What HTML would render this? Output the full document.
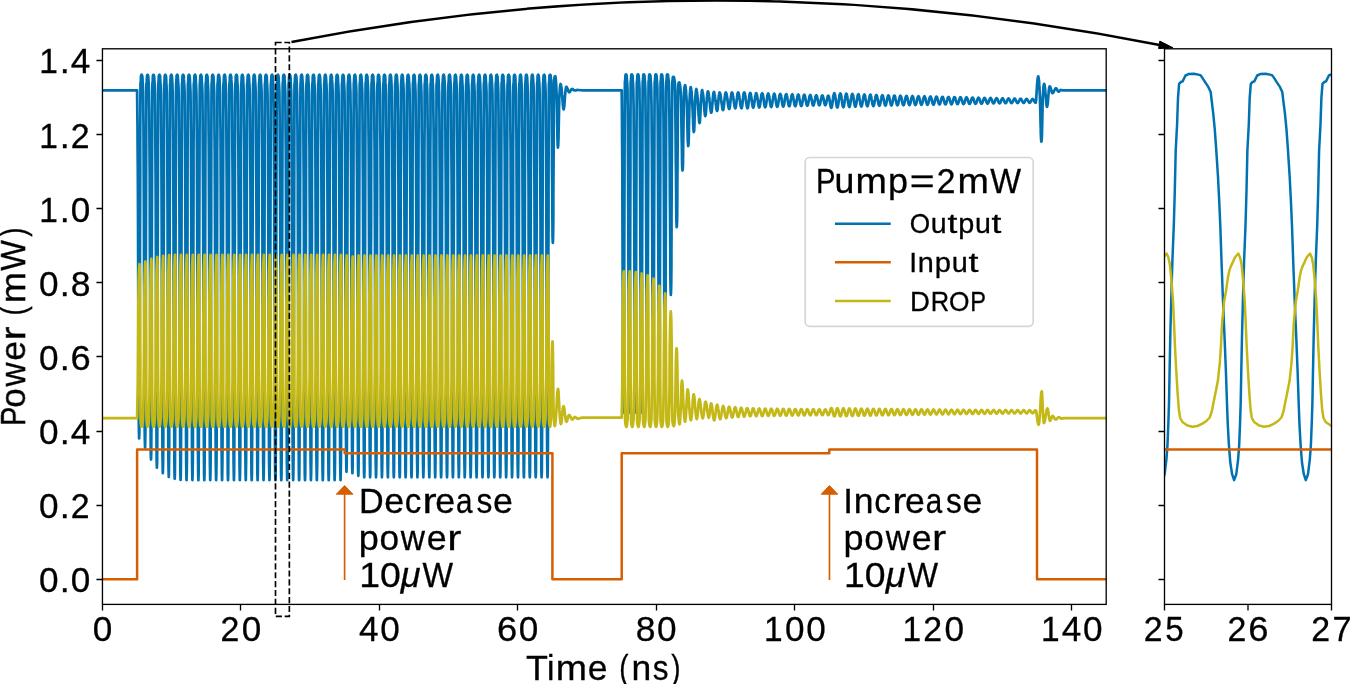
<!DOCTYPE html><html><head><meta charset="utf-8"><style>html,body{margin:0;padding:0;background:#fff}svg{display:block}</style></head><body><svg width="1350" height="684" viewBox="0 0 1350 684"><rect width="1350" height="684" fill="#fff"/><defs><clipPath id="cm"><rect x="102.45" y="48.8" width="1003.75" height="555.6"/></clipPath><clipPath id="ci"><rect x="1164.1" y="48.8" width="167.5" height="555.6"/></clipPath></defs><g clip-path="url(#cm)" fill="none" stroke-width="2.75" stroke-linejoin="round" stroke-linecap="square"><path stroke="#0072B2" d="M102.4 90.3l34.7 0 0 1.3 0.1 8.4 0.1 10.5 0.2 14.7 0.1 18.8 0.2 23.5 0.1 21.1 0.1 22.4 0.1 31.5 0.1 31.4 0.1 35.6 0.1 31.4 0.1 31.4 0.1 15 0.1 19.6 0.1 15.8 0.2 10.4 0.1 5.3 0.2-5.3 0.2-13.1 0.1-13.1 0-20.6 0.1-17 0-28.7 0.1-31.4 0.1-31.4 0.1-35.8 0.1-31.4 0.1-31.4 0-35.8 0.1-23.4 0.1-23.7 0.1-12.7 0.2-1.6 0.1-0.5 0.2-5.2 0.3-1.3 0.4-0.2 0.5 1 0.1 0.4 0.2 2.8 0.1 2.8 0.3 4.9 0.2 4.8 0.1 8.6 0.1 10.8 0.2 15.1 0.1 19.3 0.1 24.2 0.1 21.6 0.1 23 0.1 32.3 0.1 32.3 0.2 36.6 0.1 32.2 0.1 32.3 0 15.4 0.1 20.1 0.1 16.2 0.2 10.7 0.2 5.5 0.1-5.5 0.2-13.4 0.1-13.5 0.1-21 0-17.5 0.1-29.4 0-32.2 0.1-32.2 0.1-36.8 0.1-32.1 0.1-32.2 0.1-36.8 0.1-24 0-24.3 0.1-12.9 0.2-1.7 0.1-0.5 0.3-5.4 0.2-1.3 0.5-0.2 0.4 1 0.1 0.5 0.2 2.8 0.2 3 0.2 5 0.2 4.9 0.1 8.9 0.2 11.1 0.1 15.6 0.1 19.9 0.2 25 0.1 22.3 0 23.8 0.1 33.3 0.2 33.3 0.1 37.7 0.1 33.3 0.1 33.3 0.1 15.9 0.1 20.7 0.1 16.7 0.1 11.1 0.2 5.6 0.2-5.6 0.1-13.8 0.1-14 0.1-21.7 0-18 0.1-30.4 0-33.2 0.1-33.2 0.1-37.9 0.1-33.2 0.1-33.2 0.1-38 0.1-24.7 0.1-25.1 0.1-13.3 0.1-1.8 0.2-0.5 0.2-5.5 0.2-1.4 0.5-0.2 0.4 1 0.1 0.5 0.2 2.9 0.2 3 0.3 5.2 0.2 5 0.1 9.1 0.1 11.3 0.1 15.9 0.1 20.4 0.2 25.4 0.1 22.8 0.1 24.3 0.1 34 0.1 34 0.1 38.6 0.1 34 0.1 34 0.1 16.2 0.1 21.2 0.1 17 0.1 11.4 0.2 5.7 0.2-5.7 0.1-14.2 0.1-14.2 0.1-22.2 0.1-18.4 0-31 0.1-33.9 0-33.9 0.1-38.8 0.1-33.9 0.1-33.9 0.1-38.7 0.1-25.3 0.1-25.6 0.1-13.6 0.1-1.8 0.2-0.6 0.2-5.6 0.3-1.3 0.4-0.3 0.5 1 0.1 0.5 0.1 3 0.2 3 0.3 5.2 0.2 5.1 0.1 9.3 0.1 11.5 0.1 16.1 0.2 20.6 0.1 25.9 0.1 23 0.1 24.7 0.1 34.5 0.1 34.5 0.1 39.1 0.2 34.5 0.1 34.4 0 16.4 0.1 21.6 0.1 17.2 0.2 11.5 0.1 5.8 0.2-5.8 0.2-14.3 0.1-14.4 0-22.5 0.1-18.7 0-31.4 0.1-34.4 0.1-34.4 0.1-39.3 0.1-34.4 0.1-34.4 0-39.3 0.1-25.6 0.1-26 0.1-13.8 0.2-1.8 0.1-0.6 0.2-5.7 0.3-1.3 0.4-0.3 0.5 1.1 0.1 0.5 0.2 2.9 0.1 3.1 0.3 5.3 0.2 5.1 0.1 9.3 0.1 11.6 0.2 16.3 0.1 20.8 0.1 26.1 0.1 23.3 0.1 24.9 0.1 34.8 0.1 34.8 0.2 39.5 0.1 34.8 0.1 34.8 0 16.5 0.1 21.7 0.1 17.5 0.2 11.6 0.2 5.8 0.1-5.8 0.2-14.5 0.1-14.6 0-22.7 0.1-18.8 0-31.7 0.1-34.7 0.1-34.7 0.1-39.7 0.1-34.7 0.1-34.7 0.1-39.7 0.1-25.9 0-26.1 0.1-14 0.2-1.8 0.1-0.6 0.3-5.8 0.2-1.3 0.5-0.3 0.4 1.1 0.1 0.5 0.2 2.9 0.2 3.1 0.2 5.3 0.2 5.2 0.1 9.4 0.1 11.6 0.2 16.3 0.1 21 0.1 26.2 0.1 23.4 0.1 25 0.1 34.9 0.1 35 0.2 39.7 0.1 34.9 0.1 35 0.1 16.6 0.1 21.8 0.1 17.6 0.1 11.6 0.2 5.9 0.2-5.9 0.1-14.5 0.1-14.7 0.1-22.8 0-18.9 0.1-31.9 0-34.8 0.1-34.9 0.1-39.9 0.1-34.8 0.1-34.9 0.1-39.8 0.1-26 0.1-26.3 0.1-14.1 0.1-1.8 0.1-0.6 0.3-5.7 0.2-1.4 0.5-0.3 0.4 1.1 0.1 0.5 0.2 3 0.2 3.1 0.3 5.2 0.2 5.2 0.1 9.4 0.1 11.7 0.1 16.4 0.1 21 0.2 26.2 0.1 23.5 0.1 25.1 0.1 35.1 0.1 35 0.1 39.8 0.1 35 0.1 35.1 0.1 16.7 0.1 21.8 0.1 17.6 0.1 11.7 0.2 5.9 0.2-5.9 0.1-14.6 0.1-14.7 0.1-22.8 0-19 0.1-32 0.1-34.9 0-35 0.1-39.9 0.1-35 0.1-35 0.1-39.9 0.1-26.1 0.1-26.4 0.1-14 0.1-1.8 0.2-0.6 0.2-5.8 0.3-1.4 0.4-0.3 0.5 1.1 0.1 0.5 0.1 3 0.2 3.1 0.3 5.3 0.2 5.2 0.1 9.3 0.1 11.7 0.1 16.4 0.2 21 0.1 26.3 0.1 23.5 0.1 25.1 0.1 35 0.1 35.1 0.1 39.8 0.2 35.1 0 35 0.1 16.7 0.1 21.9 0.1 17.6 0.2 11.7 0.1 5.9 0.2-5.9 0.2-14.6 0-14.7 0.1-22.9 0.1-19 0-31.9 0.1-35 0.1-35 0.1-40 0.1-34.9 0-35 0.1-40 0.1-26.1 0.1-26.4 0.1-14 0.2-1.8 0.1-0.6 0.2-5.8 0.3-1.4 0.4-0.3 0.5 1.1 0.1 0.5 0.2 3 0.1 3.1 0.3 5.3 0.2 5.2 0.1 9.3 0.1 11.7 0.2 16.4 0.1 21 0.1 26.3 0.1 23.5 0.1 25.1 0.1 35 0.1 35.1 0.2 39.8 0.1 35.1 0.1 35 0 16.7 0.1 21.9 0.1 17.6 0.2 11.7 0.1 5.9 0.2-5.9 0.2-14.6 0.1-14.7 0-22.9 0.1-19 0-31.9 0.1-35 0.1-35 0.1-40 0.1-34.9 0.1-35 0-40 0.2-26.1 0-26.4 0.1-14 0.2-1.8 0.1-0.6 0.3-5.8 0.2-1.4 0.5-0.3 0.4 1.1 0.1 0.5 0.2 3 0.1 3.1 0.3 5.3 0.2 5.2 0.1 9.3 0.1 11.7 0.2 16.4 0.1 21 0.1 26.3 0.1 23.5 0.1 25.1 0.1 35 0.1 35.1 0.2 39.8 0.1 35.1 0.1 35 0 16.7 0.1 21.9 0.2 17.6 0.1 11.7 0.2 5.9 0.2-5.9 0.1-14.6 0.1-14.7 0.1-22.9 0-19 0.1-31.9 0-35 0.1-35 0.1-40 0.1-34.9 0.1-35 0.1-40 0.1-26.1 0.1-26.4 0.1-14 0.1-1.8 0.1-0.6 0.3-5.8 0.2-1.4 0.5-0.3 0.4 1.1 0.1 0.5 0.2 3 0.2 3.1 0.3 5.3 0.2 5.2 0.1 9.3 0.1 11.7 0.1 16.4 0.1 21 0.2 26.3 0.1 23.5 0.1 25.1 0.1 35 0.1 35.1 0.1 39.8 0.1 35.1 0.1 35 0.1 16.7 0.1 21.9 0.1 17.6 0.1 11.7 0.2 5.9 0.2-5.9 0.1-14.6 0.1-14.7 0.1-22.9 0-19 0.1-31.9 0-35 0.1-35 0.1-40 0.1-34.9 0.1-35 0.1-40 0.1-26.1 0.1-26.4 0.1-14 0.1-1.8 0.2-0.6 0.2-5.8 0.3-1.4 0.4-0.3 0.4 1.1 0.2 0.5 0.1 3 0.2 3.1 0.3 5.3 0.2 5.2 0.1 9.3 0.1 11.7 0.1 16.4 0.2 21 0.1 26.3 0.1 23.5 0.1 25.1 0.1 35 0.1 35.1 0.1 39.8 0.1 35.1 0.1 35 0.1 16.7 0.1 21.9 0.1 17.6 0.2 11.7 0.1 5.9 0.2-5.9 0.2-14.6 0-14.7 0.1-22.9 0.1-19 0-31.9 0.1-35 0-35 0.1-40 0.2-34.9 0-35 0.1-40 0.1-26.1 0.1-26.4 0.1-14 0.1-1.8 0.2-0.6 0.2-5.8 0.3-1.4 0.4-0.3 0.5 1.1 0.1 0.5 0.2 3 0.1 3.1 0.3 5.3 0.2 5.2 0.1 9.3 0.1 11.7 0.1 16.4 0.2 21 0.1 26.3 0.1 23.5 0.1 25.1 0.1 35 0.1 35.1 0.2 39.8 0.1 35.1 0.1 35 0 16.7 0.1 21.9 0.1 17.6 0.2 11.7 0.1 5.9 0.2-5.9 0.2-14.6 0.1-14.7 0-22.9 0.1-19 0-31.9 0.1-35 0.1-35 0.1-40 0.1-34.9 0.1-35 0-40 0.2-26.1 0-26.4 0.1-14 0.2-1.8 0.1-0.6 0.3-5.8 0.2-1.4 0.4-0.3 0.5 1.1 0.1 0.5 0.2 3 0.1 3.1 0.3 5.3 0.2 5.2 0.1 9.3 0.1 11.7 0.2 16.4 0.1 21 0.1 26.3 0.1 23.5 0.1 25.1 0.1 35 0.1 35.1 0.2 39.8 0.1 35.1 0.1 35 0 16.7 0.1 21.9 0.2 17.6 0.1 11.7 0.2 5.9 0.1-5.9 0.2-14.6 0.1-14.7 0.1-22.9 0-19 0.1-31.9 0-35 0.1-35 0.1-40 0.1-34.9 0.1-35 0.1-40 0.1-26.1 0.1-26.4 0-14 0.2-1.8 0.1-0.6 0.3-5.8 0.2-1.4 0.5-0.3 0.4 1.1 0.1 0.5 0.2 3 0.2 3.1 0.3 5.3 0.2 5.2 0 9.3 0.2 11.7 0.1 16.4 0.1 21 0.2 26.3 0.1 23.5 0.1 25.1 0.1 35 0.1 35.1 0.1 39.8 0.1 35.1 0.1 35 0.1 16.7 0.1 21.9 0.1 17.6 0.1 11.7 0.2 5.9 0.2-5.9 0.1-14.6 0.1-14.7 0.1-22.9 0-19 0.1-31.9 0-35 0.1-35 0.1-40 0.1-34.9 0.1-35 0.1-40 0.1-26.1 0.1-26.4 0.1-14 0.1-1.8 0.2-0.6 0.2-5.8 0.2-1.4 0.5-0.3 0.4 1.1 0.2 0.5 0.1 3 0.2 3.1 0.3 5.3 0.2 5.2 0.1 9.3 0.1 11.7 0.1 16.4 0.1 21 0.2 26.3 0.1 23.5 0.1 25.1 0.1 35 0.1 35.1 0.1 39.8 0.1 35.1 0.1 35 0.1 16.7 0.1 21.9 0.1 17.6 0.2 11.7 0.1 5.9 0.2-5.9 0.1-14.6 0.1-14.7 0.1-22.9 0.1-19 0-31.9 0.1-35 0-35 0.1-40 0.2-34.9 0-35 0.1-40 0.1-26.1 0.1-26.4 0.1-14 0.1-1.8 0.2-0.6 0.2-5.8 0.3-1.4 0.4-0.3 0.5 1.1 0.1 0.5 0.1 3 0.2 3.1 0.3 5.3 0.2 5.2 0.1 9.3 0.1 11.7 0.1 16.4 0.2 21 0.1 26.3 0.1 23.5 0.1 25.1 0.1 35 0.1 35.1 0.1 39.8 0.2 35.1 0.1 35 0 16.7 0.1 21.9 0.1 17.6 0.2 11.7 0.1 5.9 0.2-5.9 0.2-14.6 0.1-14.7 0-22.9 0.1-19 0-31.9 0.1-35 0.1-35 0.1-40 0.1-34.9 0.1-35 0-40 0.2-26.1 0-26.4 0.1-14 0.2-1.8 0.1-0.6 0.2-5.8 0.3-1.4 0.4-0.3 0.5 1.1 0.1 0.5 0.2 3 0.1 3.1 0.3 5.3 0.2 5.2 0.1 9.3 0.1 11.7 0.2 16.4 0.1 21 0.1 26.3 0.1 23.5 0.1 25.1 0.1 35 0.1 35.1 0.2 39.8 0.1 35.1 0.1 35 0 16.7 0.1 21.9 0.2 17.6 0.1 11.7 0.2 5.9 0.1-5.9 0.2-14.6 0.1-14.7 0.1-22.9 0-19 0.1-31.9 0-35 0.1-35 0.1-40 0.1-34.9 0.1-35 0.1-40 0.1-26.1 0.1-26.4 0-14 0.2-1.8 0.1-0.6 0.3-5.8 0.2-1.4 0.5-0.3 0.4 1.1 0.1 0.5 0.2 3 0.2 3.1 0.3 5.3 0.2 5.2 0 9.3 0.2 11.7 0.1 16.4 0.1 21 0.2 26.3 0.1 23.5 0 25.1 0.1 35 0.2 35.1 0.1 39.8 0.1 35.1 0.1 35 0.1 16.7 0.1 21.9 0.1 17.6 0.1 11.7 0.2 5.9 0.2-5.9 0.1-14.6 0.1-14.7 0.1-22.9 0-19 0.1-31.9 0-35 0.1-35 0.1-40 0.1-34.9 0.1-35 0.1-40 0.1-26.1 0.1-26.4 0.1-14 0.1-1.8 0.2-0.6 0.2-5.8 0.2-1.4 0.5-0.3 0.4 1.1 0.1 0.5 0.2 3 0.2 3.1 0.3 5.3 0.2 5.2 0.1 9.3 0.1 11.7 0.1 16.4 0.1 21 0.2 26.3 0.1 23.5 0.1 25.1 0.1 35 0.1 35.1 0.1 39.8 0.1 35.1 0.1 35 0.1 16.7 0.1 21.9 0.1 17.6 0.1 11.7 0.2 5.9 0.2-5.9 0.1-14.6 0.1-14.7 0.1-22.9 0.1-19 0-31.9 0.1-35 0-35 0.1-40 0.2-34.9 0-35 0.1-40 0.1-26.1 0.1-26.4 0.1-14 0.1-1.8 0.2-0.6 0.2-5.8 0.3-1.4 0.4-0.3 0.5 1.1 0.1 0.5 0.1 3 0.2 3.1 0.3 5.3 0.2 5.2 0.1 9.3 0.1 11.7 0.1 16.4 0.2 21 0.1 26.3 0.1 23.5 0.1 25.1 0.1 35 0.1 35.1 0.1 39.8 0.2 35.1 0.1 35 0 16.7 0.1 21.9 0.1 17.6 0.2 11.7 0.1 5.9 0.2-5.9 0.2-14.6 0.1-14.7 0-22.9 0.1-19 0-31.9 0.1-35 0.1-35 0.1-40 0.1-34.9 0.1-35 0-40 0.1-26.1 0.1-26.4 0.1-14 0.2-1.8 0.1-0.6 0.2-5.8 0.3-1.4 0.4-0.3 0.5 1.1 0.1 0.5 0.2 3 0.1 3.1 0.3 5.3 0.2 5.2 0.1 9.3 0.1 11.7 0.2 16.4 0.1 21 0.1 26.3 0.1 23.5 0.1 25.1 0.1 35 0.1 35.1 0.2 39.8 0.1 35.1 0.1 35 0 16.7 0.1 21.9 0.1 17.6 0.2 11.7 0.2 5.9 0.1-5.9 0.2-14.6 0.1-14.7 0.1-22.9 0-19 0.1-31.9 0-35 0.1-35 0.1-40 0.1-34.9 0.1-35 0.1-40 0.1-26.1 0-26.4 0.1-14 0.2-1.8 0.1-0.6 0.3-5.8 0.2-1.4 0.5-0.3 0.4 1.1 0.1 0.5 0.2 3 0.2 3.1 0.2 5.3 0.2 5.2 0.1 9.3 0.2 11.7 0.1 16.4 0.1 21 0.2 26.3 0.1 23.5 0 25.1 0.1 35 0.2 35.1 0.1 39.8 0.1 35.1 0.1 35 0.1 16.7 0.1 21.9 0.1 17.6 0.1 11.7 0.2 5.9 0.2-5.9 0.1-14.6 0.1-14.7 0.1-22.9 0-19 0.1-31.9 0-35 0.1-35 0.1-40 0.1-34.9 0.1-35 0.1-40 0.1-26.1 0.1-26.4 0.1-14 0.1-1.8 0.2-0.6 0.2-5.8 0.2-1.4 0.5-0.3 0.4 1.1 0.1 0.5 0.2 3 0.2 3.1 0.3 5.3 0.2 5.2 0.1 9.3 0.1 11.7 0.1 16.4 0.1 21 0.2 26.3 0.1 23.5 0.1 25.1 0.1 35 0.1 35.1 0.1 39.8 0.1 35.1 0.1 35 0.1 16.7 0.1 21.9 0.1 17.6 0.1 11.7 0.2 5.9 0.2-5.9 0.1-14.6 0.1-14.7 0.1-22.9 0.1-19 0-31.9 0.1-35 0-35 0.1-40 0.1-34.9 0.1-35 0.1-40 0.1-26.1 0.1-26.4 0.1-14 0.1-1.8 0.2-0.6 0.2-5.8 0.3-1.4 0.4-0.3 0.5 1.1 0.1 0.5 0.1 3 0.2 3.1 0.3 5.3 0.2 5.2 0.1 9.3 0.1 11.7 0.1 16.4 0.2 21 0.1 26.3 0.1 23.5 0.1 25.1 0.1 35 0.1 35.1 0.1 39.8 0.2 35.1 0.1 35 0 16.7 0.1 21.9 0.1 17.6 0.2 11.7 0.1 5.9 0.2-5.9 0.2-14.6 0.1-14.7 0-22.9 0.1-19 0-31.9 0.1-35 0.1-35 0.1-40 0.1-34.9 0.1-35 0-40 0.1-26.1 0.1-26.4 0.1-14 0.2-1.8 0.1-0.6 0.2-5.8 0.3-1.4 0.4-0.3 0.5 1.1 0.1 0.5 0.2 3 0.1 3.1 0.3 5.3 0.2 5.2 0.1 9.3 0.1 11.7 0.2 16.4 0.1 21 0.1 26.3 0.1 23.5 0.1 25.1 0.1 35 0.1 35.1 0.2 39.8 0.1 35.1 0.1 35 0 16.7 0.1 21.9 0.1 17.6 0.2 11.7 0.2 5.9 0.1-5.9 0.2-14.6 0.1-14.7 0-22.9 0.1-19 0-31.9 0.1-35 0.1-35 0.1-40 0.1-34.9 0.1-35 0.1-40 0.1-26.1 0-26.4 0.1-14 0.2-1.8 0.1-0.6 0.3-5.8 0.2-1.4 0.5-0.3 0.4 1.1 0.1 0.5 0.2 3 0.2 3.1 0.2 5.3 0.2 5.2 0.1 9.3 0.1 11.7 0.2 16.4 0.1 21 0.2 26.3 0 23.5 0.1 25.1 0.1 35 0.1 35.1 0.2 39.8 0.1 35.1 0.1 35 0.1 16.7 0.1 21.9 0.1 17.6 0.1 11.7 0.2 5.9 0.2-5.9 0.1-14.6 0.1-14.7 0.1-22.9 0-19 0.1-31.9 0-35 0.1-35 0.1-40 0.1-34.9 0.1-35 0.1-40 0.1-26.1 0.1-26.4 0.1-14 0.1-1.8 0.1-0.6 0.3-5.8 0.2-1.4 0.5-0.3 0.4 1.1 0.1 0.5 0.2 3 0.2 3.1 0.3 5.3 0.2 5.2 0.1 9.3 0.1 11.7 0.1 16.4 0.1 21 0.2 26.3 0.1 23.5 0.1 25.1 0.1 35 0.1 35.1 0.1 39.8 0.1 35.1 0.1 35 0.1 16.7 0.1 21.9 0.1 17.6 0.1 11.7 0.2 5.9 0.2-5.9 0.1-14.6 0.1-14.7 0.1-22.9 0-19 0.1-31.9 0.1-35 0-35 0.1-40 0.1-34.9 0.1-35 0.1-40 0.1-26.1 0.1-26.4 0.1-14 0.1-1.8 0.2-0.6 0.2-5.8 0.3-1.4 0.4-0.3 0.5 1.1 0.1 0.5 0.1 3 0.2 3.1 0.3 5.3 0.2 5.2 0.1 9.3 0.1 11.7 0.1 16.4 0.2 21 0.1 26.3 0.1 23.5 0.1 25.1 0.1 35 0.1 35.1 0.1 39.8 0.2 35.1 0.1 35 0 16.7 0.1 21.9 0.1 17.6 0.2 11.7 0.1 5.9 0.2-5.9 0.2-14.6 0-14.7 0.1-22.9 0.1-19 0-31.9 0.1-35 0.1-35 0.1-40 0.1-34.9 0-35 0.1-40 0.1-26.1 0.1-26.4 0.1-14 0.2-1.8 0.1-0.6 0.2-5.8 0.3-1.4 0.4-0.3 0.5 1.1 0.1 0.5 0.2 3 0.1 3.1 0.3 5.3 0.2 5.2 0.1 9.3 0.1 11.7 0.2 16.4 0.1 21 0.1 26.3 0.1 23.5 0.1 25.1 0.1 35 0.1 35.1 0.2 39.8 0.1 35.1 0.1 35 0 16.7 0.1 21.9 0.1 17.6 0.2 11.7 0.1 5.9 0.2-5.9 0.2-14.6 0.1-14.7 0-22.9 0.1-19 0-31.9 0.1-35 0.1-35 0.1-40 0.1-34.9 0.1-35 0-40 0.2-26.1 0-26.4 0.1-14 0.2-1.8 0.1-0.6 0.3-5.8 0.2-1.4 0.5-0.3 0.4 1.1 0.1 0.5 0.2 3 0.1 3.1 0.3 5.3 0.2 5.2 0.1 9.3 0.1 11.7 0.2 16.4 0.1 21 0.1 26.3 0.1 23.5 0.1 25.1 0.1 35 0.1 35.1 0.2 39.8 0.1 35.1 0.1 35 0 16.7 0.1 21.9 0.2 17.6 0.1 11.7 0.2 5.9 0.2-5.9 0.1-14.6 0.1-14.7 0.1-22.9 0-19 0.1-31.9 0-35 0.1-35 0.1-40 0.1-34.9 0.1-35 0.1-40 0.1-26.1 0.1-26.4 0.1-14 0.1-1.8 0.1-0.6 0.3-5.8 0.2-1.4 0.5-0.3 0.4 1.1 0.1 0.5 0.2 3 0.2 3.1 0.3 5.3 0.2 5.2 0.1 9.3 0.1 11.7 0.1 16.4 0.1 21 0.2 26.3 0.1 23.5 0.1 25.1 0.1 35 0.1 35.1 0.1 39.8 0.1 35.1 0.1 35 0.1 16.7 0.1 21.9 0.1 17.6 0.1 11.7 0.2 5.9 0.2-5.9 0.1-14.6 0.1-14.7 0.1-22.9 0-19 0.1-31.9 0-35 0.1-35 0.1-40 0.1-34.9 0.1-35 0.1-40 0.1-26.1 0.1-26.4 0.1-14 0.1-1.8 0.2-0.6 0.2-5.8 0.3-1.4 0.4-0.3 0.4 1.1 0.2 0.5 0.1 3 0.2 3.1 0.3 5.3 0.2 5.2 0.1 9.3 0.1 11.7 0.1 16.4 0.2 21 0.1 26.3 0.1 23.5 0.1 25.1 0.1 35 0.1 35.1 0.1 39.8 0.1 35.1 0.1 35 0.1 16.7 0.1 21.9 0.1 17.6 0.2 11.7 0.1 5.9 0.2-5.9 0.2-14.6 0-14.7 0.1-22.9 0.1-19 0-31.9 0.1-35 0-35 0.1-40 0.2-34.9 0-35 0.1-40 0.1-26.1 0.1-26.4 0.1-14 0.1-1.8 0.2-0.6 0.2-5.8 0.3-1.4 0.4-0.3 0.5 1.1 0.1 0.5 0.2 3 0.1 3.1 0.3 5.3 0.2 5.2 0.1 9.3 0.1 11.7 0.1 16.4 0.2 21 0.1 26.3 0.1 23.5 0.1 25.1 0.1 35 0.1 35.1 0.2 39.8 0.1 35.1 0.1 35 0 16.7 0.1 21.9 0.1 17.6 0.2 11.7 0.1 5.9 0.2-5.9 0.2-14.6 0.1-14.7 0-22.9 0.1-19 0-31.9 0.1-35 0.1-35 0.1-40 0.1-34.9 0.1-35 0-40 0.2-26.1 0-26.4 0.1-14 0.2-1.8 0.1-0.6 0.3-5.8 0.2-1.4 0.4-0.3 0.5 1 0.1 0.5 0.2 3 0.1 3 0.3 5.2 0.2 5.1 0.1 9.2 0.1 11.4 0.2 16.1 0.1 20.5 0.1 25.8 0.1 23 0.1 24.5 0.1 34.4 0.1 34.4 0.2 38.9 0.1 34.4 0.1 34.3 0 16.4 0.1 21.4 0.2 17.2 0.1 11.5 0.2 5.8 0.1-5.8 0.2-14.3 0.1-14.4 0.1-22.4 0-18.6 0.1-31.3 0-34.3 0.1-34.2 0.1-39.2 0.1-34.3 0.1-34.2 0.1-39.2 0.1-25.5 0-25.8 0.1-13.8 0.2-1.8 0.1-0.6 0.3-5.7 0.2-1.3 0.5-0.3 0.4 1 0.1 0.5 0.2 3 0.2 3 0.2 5.2 0.2 5.1 0.1 9.3 0.2 11.5 0.1 16.1 0.1 20.6 0.2 25.9 0 23 0.1 24.7 0.1 34.5 0.1 34.5 0.2 39.1 0.1 34.5 0.1 34.4 0.1 16.4 0.1 21.6 0.1 17.2 0.1 11.5 0.2 5.8 0.2-5.8 0.1-14.3 0.1-14.4 0.1-22.5 0-18.7 0.1-31.4 0-34.4 0.1-34.4 0.1-39.3 0.1-34.4 0.1-34.4 0.1-39.3 0.1-25.6 0.1-26 0.1-13.8 0.1-1.8 0.1-0.6 0.3-5.7 0.2-1.3 0.5-0.3 0.4 1.1 0.1 0.4 0.2 3 0.2 3.1 0.3 5.2 0.2 5.2 0 9.3 0.2 11.5 0.1 16.2 0.1 20.8 0.2 26 0.1 23.3 0.1 24.8 0.1 34.7 0.1 34.7 0.1 39.3 0.1 34.7 0.1 34.8 0.1 16.5 0.1 21.6 0.1 17.4 0.1 11.6 0.2 5.8 0.2-5.8 0.1-14.4 0.1-14.6 0.1-22.6 0-18.8 0.1-31.6 0-34.7 0.1-34.6 0.1-39.5 0.1-34.6 0.1-34.6 0.1-39.6 0.1-25.8 0.1-26.1 0.1-13.9 0.1-1.8 0.2-0.6 0.2-5.8 0.2-1.3 0.5-0.3 0.4 1.1 0.1 0.5 0.2 2.9 0.2 3.1 0.3 5.3 0.2 5.1 0.1 9.4 0.1 11.6 0.1 16.2 0.1 20.9 0.2 26.1 0.1 23.3 0.1 24.9 0.1 34.9 0.1 34.8 0.1 39.5 0.1 34.8 0.1 34.9 0.1 16.5 0.1 21.8 0.1 17.4 0.1 11.7 0.2 5.8 0.2-5.8 0.1-14.5 0.1-14.6 0.1-22.8 0-18.8 0.1-31.8 0.1-34.7 0-34.7 0.1-39.7 0.1-34.8 0.1-34.7 0.1-39.7 0.1-25.9 0.1-26.2 0.1-14 0.1-1.8 0.2-0.6 0.2-5.7 0.3-1.4 0.4-0.3 0.4 1.1 0.2 0.5 0.1 2.9 0.2 3.1 0.3 5.3 0.2 5.1 0.1 9.4 0.1 11.6 0.1 16.2 0.2 20.9 0.1 26.1 0.1 23.3 0.1 24.9 0.1 34.9 0.1 34.8 0.1 39.5 0.1 34.8 0.1 34.9 0.1 16.5 0.1 21.8 0.1 17.4 0.2 11.7 0.1 5.8 0.2-5.8 0.1-14.5 0.1-14.6 0.1-22.8 0.1-18.8 0-31.8 0.1-34.7 0-34.7 0.1-39.7 0.2-34.8 0-34.7 0.1-39.7 0.1-25.9 0.1-26.2 0.1-14 0.1-1.8 0.2-0.6 0.2-5.7 0.3-1.4 0.4-0.3 0.5 1.1 0.1 0.5 0.1 2.9 0.2 3.1 0.3 5.3 0.2 5.1 0.1 9.4 0.1 11.6 0.1 16.2 0.2 20.9 0.1 26.1 0.1 23.3 0.1 24.9 0.1 34.9 0.1 34.8 0.1 39.5 0.2 34.8 0.1 34.9 0 16.5 0.1 21.8 0.1 17.4 0.2 11.7 0.1 5.8 0.2-5.8 0.2-14.5 0.1-14.6 0-22.8 0.1-18.8 0-31.8 0.1-34.7 0.1-34.7 0.1-39.7 0.1-34.8 0.1-34.7 0-39.7 0.1-25.9 0.1-26.2 0.1-14 0.2-1.8 0.1-0.6 0.2-5.7 0.3-1.4 0.4-0.3 0.5 1.1 0.1 0.5 0.2 2.9 0.1 3.1 0.3 5.3 0.2 5.1 0.1 9.4 0.1 11.6 0.1 16.2 0.2 20.9 0.1 26.1 0.1 23.3 0.1 24.9 0.1 34.9 0.1 34.8 0.2 39.5 0.1 34.8 0.1 34.9 0 16.5 0.1 21.8 0.1 17.4 0.2 11.7 0.1 5.8 0.2-5.8 0.2-14.5 0.1-14.6 0-22.8 0.1-18.8 0-31.8 0.1-34.7 0.1-34.7 0.1-39.7 0.1-34.8 0.1-34.7 0-39.7 0.2-25.9 0-26.2 0.1-14 0.2-1.8 0.1-0.6 0.2-5.7 0.3-1.4 0.4-0.3 0.5 1.1 0.1 0.5 0.2 2.9 0.1 3.1 0.3 5.3 0.2 5.1 0.1 9.4 0.1 11.6 0.2 16.2 0.1 20.9 0.1 26.1 0.1 23.3 0.1 24.9 0.1 34.9 0.1 34.8 0.2 39.5 0.1 34.8 0.1 34.9 0 16.5 0.1 21.8 0.1 17.4 0.2 11.7 0.2 5.8 0.1-5.8 0.2-14.5 0.1-14.6 0.1-22.8 0-18.8 0.1-31.8 0-34.7 0.1-34.7 0.1-39.7 0.1-34.8 0.1-34.7 0.1-39.7 0.1-25.9 0-26.2 0.1-14 0.2-1.8 0.1-0.6 0.3-5.7 0.2-1.4 0.5-0.3 0.4 1.1 0.1 0.5 0.2 2.9 0.2 3.1 0.2 5.3 0.2 5.1 0.1 9.4 0.1 11.6 0.2 16.2 0.1 20.9 0.1 26.1 0.1 23.3 0.1 24.9 0.1 34.9 0.1 34.8 0.2 39.5 0.1 34.8 0.1 34.9 0 16.5 0.1 21.8 0.2 17.4 0.1 11.7 0.2 5.8 0.2-5.8 0.1-14.5 0.1-14.6 0.1-22.8 0-18.8 0.1-31.8 0-34.7 0.1-34.7 0.1-39.7 0.1-34.8 0.1-34.7 0.1-39.7 0.1-25.9 0.1-26.2 0-14 0.2-1.8 0.1-0.6 0.3-5.7 0.2-1.4 0.5-0.3 0.4 1.1 0.1 0.5 0.2 2.9 0.2 3.1 0.3 5.3 0.2 5.1 0 9.4 0.2 11.6 0.1 16.2 0.1 20.9 0.2 26.1 0.1 23.3 0 24.9 0.1 34.9 0.2 34.8 0.1 39.5 0.1 34.8 0.1 34.9 0.1 16.5 0.1 21.8 0.1 17.4 0.1 11.7 0.2 5.8 0.2-5.8 0.1-14.5 0.1-14.6 0.1-22.8 0-18.8 0.1-31.8 0-34.7 0.1-34.7 0.1-39.7 0.1-34.8 0.1-34.7 0.1-39.7 0.1-25.9 0.1-26.2 0.1-14 0.1-1.8 0.1-0.6 0.3-5.7 0.2-1.4 0.5-0.3 0.4 1.1 0.1 0.5 0.2 2.9 0.2 3.1 0.3 5.3 0.2 5.1 0.1 9.4 0.1 11.6 0.1 16.2 0.1 20.9 0.2 26.1 0.1 23.3 0.1 24.9 0.1 34.9 0.1 34.8 0.1 39.5 0.1 34.8 0.1 34.9 0.1 16.5 0.1 21.8 0.1 17.4 0.1 11.7 0.2 5.8 0.2-5.8 0.1-14.5 0.1-14.6 0.1-22.8 0-18.8 0.1-31.8 0-34.7 0.1-34.7 0.1-39.7 0.1-34.8 0.1-34.7 0.1-39.7 0.1-25.9 0.1-26.2 0.1-14 0.1-1.8 0.2-0.6 0.2-5.7 0.3-1.4 0.4-0.3 0.4 1.1 0.2 0.5 0.1 2.9 0.2 3.1 0.3 5.3 0.2 5.1 0.1 9.4 0.1 11.6 0.1 16.2 0.1 20.9 0.2 26.1 0.1 23.3 0.1 24.9 0.1 34.9 0.1 34.8 0.1 39.5 0.1 34.8 0.1 34.9 0.1 16.5 0.1 21.8 0.1 17.4 0.1 11.7 0.2 5.8 0.2-5.8 0.1-14.5 0.1-14.6 0.1-22.8 0.1-18.8 0-31.8 0.1-34.7 0-34.7 0.1-39.7 0.2-34.8 0-34.7 0.1-39.7 0.1-25.9 0.1-26.2 0.1-14 0.1-1.8 0.2-0.6 0.2-5.7 0.3-1.4 0.4-0.3 0.5 1.1 0.1 0.5 0.1 2.9 0.2 3.1 0.3 5.3 0.2 5.1 0.1 9.4 0.1 11.6 0.1 16.2 0.2 20.9 0.1 26.1 0.1 23.3 0.1 24.9 0.1 34.9 0.1 34.8 0.1 39.5 0.2 34.8 0.1 34.9 0 16.5 0.1 21.8 0.1 17.4 0.2 11.7 0.1 5.8 0.2-5.8 0.2-14.5 0-14.6 0.1-22.8 0.1-18.8 0-31.8 0.1-34.7 0-34.7 0.1-39.7 0.2-34.8 0-34.7 0.1-39.7 0.1-25.9 0.1-26.2 0.1-14 0.2-1.8 0.1-0.6 0.2-5.7 0.3-1.4 0.4-0.3 0.5 1.1 0.1 0.5 0.1 2.9 0.2 3.1 0.3 5.3 0.2 5.1 0.1 9.4 0.1 11.6 0.1 16.2 0.2 20.9 0.1 26.1 0.1 23.3 0.1 24.9 0.1 34.9 0.1 34.8 0.1 39.5 0.2 34.8 0.1 34.9 0 16.5 0.1 21.8 0.1 17.4 0.2 11.7 0.1 5.8 0.2-5.8 0.2-14.5 0.1-14.6 0-22.8 0.1-18.8 0-31.8 0.1-34.7 0.1-34.7 0.1-39.7 0.1-34.8 0.1-34.7 0-39.7 0.2-25.9 0-26.2 0.1-14 0.2-1.8 0.1-0.6 0.2-5.7 0.3-1.4 0.4-0.3 0.5 1.1 0.1 0.5 0.2 2.9 0.1 3.1 0.3 5.3 0.2 5.1 0.1 9.4 0.1 11.6 0.2 16.2 0.1 20.9 0.1 26.1 0.1 23.3 0.1 24.9 0.1 34.9 0.1 34.8 0.2 39.5 0.1 34.8 0.1 34.9 0 16.5 0.1 21.8 0.1 17.4 0.2 11.7 0.2 5.8 0.1-5.8 0.2-14.5 0.1-14.6 0-22.8 0.1-18.8 0-31.8 0.1-34.7 0.1-34.7 0.1-39.7 0.1-34.8 0.1-34.7 0-39.7 0.2-25.9 0-26.2 0.1-14 0.2-1.8 0.1-0.6 0.3-5.7 0.2-1.4 0.4-0.3 0.5 1.1 0.1 0.5 0.2 2.9 0.1 3.1 0.3 5.3 0.2 5.1 0.1 9.4 0.1 11.6 0.2 16.2 0.1 20.9 0.1 26.1 0.1 23.3 0.1 24.9 0.1 34.9 0.1 34.8 0.2 39.5 0.1 34.8 0.1 34.9 0 16.5 0.1 21.8 0.2 17.4 0.1 11.7 0.2 5.8 0.1-5.8 0.2-14.5 0.1-14.6 0.1-22.8 0-18.8 0.1-31.8 0-34.7 0.1-34.7 0.1-39.7 0.1-34.8 0.1-34.7 0.1-39.7 0.1-25.9 0.1-26.2 0-14 0.2-1.8 0.1-0.6 0.3-5.7 0.2-1.4 0.5-0.3 0.4 1.1 0.1 0.5 0.2 2.9 0.2 3.1 0.2 5.3 0.2 5.1 0.1 9.4 0.2 11.6 0.1 16.2 0.1 20.9 0.2 26.1 0.1 23.3 0 24.9 0.1 34.9 0.1 34.8 0.2 39.5 0.1 34.8 0.1 34.9 0.1 16.5 0.1 21.8 0.1 17.4 0.1 11.7 0.2 5.8 0.2-5.8 0.1-14.5 0.1-14.6 0.1-22.8 0-18.8 0.1-31.8 0-34.7 0.1-34.7 0.1-39.7 0.1-34.8 0.1-34.7 0.1-39.7 0.1-25.9 0.1-26.2 0.1-14 0.1-1.8 0.1-0.6 0.3-5.7 0.2-1.4 0.5-0.3 0.4 1.1 0.1 0.5 0.2 2.9 0.2 3.1 0.3 5.3 0.2 5.1 0.1 9.4 0.1 11.6 0.1 16.2 0.1 20.9 0.2 26.1 0.1 23.3 0.1 24.9 0.1 34.9 0.1 34.8 0.1 39.5 0.1 34.8 0.1 34.9 0.1 16.5 0.1 21.8 0.1 17.4 0.1 11.7 0.2 5.8 0.2-5.8 0.1-14.5 0.1-14.6 0.1-22.8 0-18.8 0.1-31.8 0-34.7 0.1-34.7 0.1-39.7 0.1-34.8 0.1-34.7 0.1-39.7 0.1-25.9 0.1-26.2 0.1-14 0.1-1.8 0.2-0.6 0.2-5.7 0.2-1.4 0.5-0.3 0.4 1.1 0.1 0.5 0.2 2.9 0.2 3.1 0.3 5.3 0.2 5.1 0.1 9.4 0.1 11.6 0.1 16.2 0.1 20.9 0.2 26.1 0.1 23.3 0.1 24.9 0.1 34.9 0.1 34.8 0.1 39.5 0.1 34.8 0.1 34.9 0.1 16.5 0.1 21.8 0.1 17.4 0.1 11.7 0.2 5.8 0.2-5.8 0.1-14.5 0.1-14.6 0.1-22.8 0-18.8 0.1-31.8 0.1-34.7 0-34.7 0.1-39.7 0.1-34.8 0.1-34.7 0.1-39.7 0.1-25.9 0.1-26.2 0.1-14 0.1-1.8 0.2-0.6 0.2-5.7 0.3-1.4 0.4-0.3 0.4 1.1 0.2 0.5 0.1 2.9 0.2 3.1 0.3 5.3 0.2 5.1 0.1 9.4 0.1 11.6 0.1 16.2 0.2 20.9 0.1 26.1 0.1 23.3 0.1 24.9 0.1 34.9 0.1 34.8 0.1 39.5 0.1 34.8 0.1 34.9 0.1 16.5 0.1 21.8 0.1 17.4 0.2 11.7 0.1 5.8 0.2-5.8 0.1-14.5 0.1-14.6 0.1-22.8 0.1-18.8 0-31.8 0.1-34.7 0-34.7 0.1-39.7 0.2-34.8 0-34.7 0.1-39.7 0.1-25.9 0.1-26.2 0.1-14 0.1-1.8 0.2-0.6 0.2-5.7 0.3-1.4 0.4-0.3 0.5 1.1 0.1 0.5 0.1 2.9 0.2 3.1 0.3 5.3 0.2 5.1 0.1 9.4 0.1 11.6 0.1 16.2 0.2 20.9 0.1 26.1 0.1 23.3 0.1 24.9 0.1 34.9 0.1 34.8 0.1 39.5 0.2 34.8 0.1 34.9 0 16.5 0.1 21.8 0.1 17.4 0.2 11.7 0.1 5.8 0.2-5.8 0.2-14.5 0.1-14.6 0-22.8 0.1-18.8 0-31.8 0.1-34.7 0.1-34.7 0.1-39.7 0.1-34.8 0.1-34.7 0-39.7 0.1-25.9 0.1-26.2 0.1-14 0.2-1.8 0.1-0.6 0.2-5.7 0.3-1.4 0.4-0.3 0.5 1.1 0.1 0.5 0.2 2.9 0.1 3.1 0.3 5.3 0.2 5.1 0.1 9.4 0.1 11.6 0.2 16.2 0.1 20.9 0.1 26.1 0.1 23.3 0.1 24.9 0.1 34.9 0.1 34.8 0.2 39.5 0.1 34.8 0.1 34.9 0 16.5 0.1 21.8 0.1 17.4 0.2 11.7 0.1 5.8 0.2-5.8 0.2-14.5 0.1-14.6 0-22.8 0.1-18.8 0-31.8 0.1-34.7 0.1-34.7 0.1-39.7 0.1-34.8 0.1-34.7 0-39.7 0.2-25.9 0-26.2 0.1-14 0.2-1.8 0.1-0.6 0.3-5.7 0.2-1.4 0.4-0.3 0.5 1.1 0.1 0.5 0.2 2.9 0.1 3.1 0.3 5.3 0.2 5.1 0.1 9.4 0.1 11.6 0.2 16.2 0.1 20.9 0.1 26.1 0.1 23.3 0.1 24.9 0.1 34.9 0.1 34.8 0.2 39.5 0.1 34.8 0.1 34.9 0 16.5 0.1 21.8 0.1 17.4 0.2 11.7 0.2 5.8 0.1-5.8 0.2-14.5 0.1-14.6 0.1-22.8 0-18.8 0.1-31.8 0-34.7 0.1-34.7 0.1-39.7 0.1-34.8 0.1-34.7 0.1-39.7 0.1-25.9 0-26.2 0.1-14 0.2-1.8 0.1-0.6 0.3-5.7 0.2-1.4 0.5-0.3 0.4 1.1 0.1 0.5 0.2 2.9 0.2 3.1 0.2 5.3 0.2 5.1 0.1 9.4 0.1 11.6 0.2 16.2 0.1 20.9 0.1 26.1 0.1 23.3 0.1 24.9 0.1 34.9 0.1 34.8 0.2 39.5 0.1 34.8 0.1 34.9 0 16.5 0.1 21.8 0.2 17.4 0.1 11.7 0.2 5.8 0.2-5.8 0.1-14.5 0.1-14.6 0.1-22.8 0-18.8 0.1-31.8 0-34.7 0.1-34.7 0.1-39.7 0.1-34.8 0.1-34.7 0.1-39.7 0.1-25.9 0.1-26.2 0-14 0.2-1.8 0.1-0.6 0.3-5.7 0.2-1.4 0.5-0.3 0.4 1.1 0.1 0.5 0.2 2.9 0.2 3.1 0.3 5.3 0.2 5.1 0 9.4 0.2 11.6 0.1 16.2 0.1 20.9 0.2 26.1 0.1 23.3 0.1 24.9 0 34.9 0.2 34.8 0.1 39.5 0.1 34.8 0.1 34.9 0.1 16.5 0.1 21.8 0.1 17.4 0.1 11.7 0.2 5.8 0.2-5.8 0.1-14.5 0.1-14.6 0.1-22.8 0-18.8 0.1-31.8 0-34.7 0.1-34.7 0.1-39.7 0.1-34.8 0.1-34.7 0.1-39.7 0.1-25.9 0.1-26.2 0.1-14 0.1-1.8 0.2-0.6 0.2-5.7 0.2-1.4 0.5-0.3 0.4 1.1 0.1 0.5 0.2 2.9 0.2 3.1 0.3 5.3 0.2 5.1 0.1 9.4 0.1 11.6 0.1 16.2 0.1 20.9 0.2 26.1 0.1 23.3 0.1 24.9 0.1 34.9 0.1 34.8 0.1 39.5 0.1 34.8 0.1 34.9 0.1 16.5 0.1 21.8 0.1 17.4 0.1 11.7 0.2 5.8 0.2-5.8 0.1-14.5 0.1-14.6 0.1-22.8 0-18.8 0.1-31.8 0.1-34.7 0-34.7 0.1-39.7 0.1-34.8 0.1-34.7 0.1-39.7 0.1-25.9 0.1-26.2 0.1-14 0.1-1.8 0.2-0.6 0.2-5.7 0.3-1.4 0.4-0.3 0.4 1.1 0.2 0.5 0.1 2.9 0.2 3.1 0.3 5.3 0.2 5.1 0.1 9.4 0.1 11.6 0.1 16.2 0.1 20.9 0.2 26.1 0.1 23.3 0.1 24.9 0.1 34.9 0.1 34.8 0.1 39.5 0.1 34.8 0.1 34.9 0.1 16.5 0.1 21.8 0.1 17.4 0.2 11.7 0.1 5.8 0.2-5.8 0.1-14.5 0.1-14.6 0.1-22.8 0.1-18.8 0-31.8 0.1-34.7 0-34.7 0.1-39.7 0.2-34.8 0-34.7 0.1-39.7 0.1-25.9 0.1-26.2 0.1-14 0.1-1.8 0.2-0.6 0.2-5.7 0.3-1.4 0.4-0.3 0.5 1.1 0.1 0.5 0.1 2.9 0.2 3.1 0.3 5.3 0.2 5.1 0.1 9.4 0.1 11.6 0.1 16.2 0.2 20.9 0.1 26.1 0.1 23.3 0.1 24.9 0.1 34.9 0.1 34.8 0.1 39.5 0.2 34.8 0.1 34.9 0 16.5 0.1 21.8 0.1 17.4 0.2 11.7 0.1 5.8 0.2-5.8 0.2-14.5 0-14.6 0.1-22.8 0.1-18.8 0-31.8 0.1-34.7 0.1-34.7 0.1-39.7 0.1-34.8 0-34.7 0.1-39.7 0.1-25.9 0.1-26.2 0.1-14 0.2-1.8 0.1-0.6 0.2-5.7 0.3-1.4 0.4-0.3 0.5 1.1 0.1 0.5 0.2 2.9 0.1 3.1 0.3 5.3 0.2 5.1 0.1 9.4 0.1 11.6 0.1 16.2 0.2 20.9 0.1 26.1 0.1 23.3 0.1 24.9 0.1 34.9 0.1 34.8 0.2 39.5 0.1 34.8 0.1 34.9 0 16.5 0.1 21.8 0.1 17.4 0.2 11.7 0.1 5.8 0.2-5.8 0.2-14.5 0.1-14.6 0-22.8 0.1-18.8 0-31.8 0.1-34.7 0.1-34.7 0.1-39.7 0.1-34.8 0.1-34.7 0-39.7 0.2-25.9 0-26.2 0.1-14 0.2-1.8 0.1-0.6 0.2-5.7 0.3-1.4 0.4-0.3 0.5 1.1 0.1 0.5 0.2 2.9 0.1 3.1 0.3 5.3 0.2 5.1 0.1 9.4 0.1 11.6 0.2 16.2 0.1 20.9 0.1 26.1 0.1 23.3 0.1 24.9 0.1 34.9 0.1 34.8 0.2 39.5 0.1 34.8 0.1 34.9 0 16.5 0.1 21.8 0.1 17.4 0.2 11.7 0.2 5.8 0.1-5.8 0.2-14.5 0.1-14.6 0-22.8 0.1-18.8 0-31.8 0.1-34.7 0.1-34.7 0.1-39.7 0.1-34.8 0.1-34.7 0-39.7 0.2-25.9 0-26.2 0.1-14 0.2-1.8 0.1-0.6 0.3-5.7 0.2-1.4 0.5-0.3 0.4 1.1 0.1 0.5 0.2 2.9 0.1 3.1 0.3 5.3 0.2 5.1 0.1 9.4 0.1 11.6 0.2 16.2 0.1 20.9 0.1 26.1 0.1 23.3 0.1 24.9 0.1 34.9 0.1 34.8 0.2 39.5 0.1 34.8 0.1 34.9 0 16.5 0.1 21.8 0.2 17.4 0.1 11.7 0.2 5.8 0.1-5.8 0.2-14.5 0.1-14.6 0.1-22.8 0-18.8 0.1-31.8 0-34.7 0.1-34.7 0.1-39.7 0.1-34.8 0.1-34.7 0.1-39.7 0.1-25.9 0.1-26.2 0-14 0.2-1.8 0.1-0.6 0.3-5.7 0.2-1.4 0.5-0.3 0.4 1.1 0.1 0.5 0.2 2.9 0.2 3.1 0.2 5.3 0.2 5.1 0.1 9.4 0.2 11.6 0.1 16.2 0.1 20.9 0.2 26.1 0.1 23.3 0 24.9 0.1 34.9 0.2 34.8 0.1 39.5 0.1 34.8 0.1 34.9 0.1 16.5 0.1 21.8 0.1 17.4 0.1 11.7 0.2 5.8 0.2-5.8 0.1-14.5 0.1-14.6 0.1-22.8 0-18.8 0.1-31.8 0-34.7 0.1-34.7 0.1-39.7 0.1-34.8 0.1-34.7 0.1-39.7 0.1-25.9 0.1-26.2 0.1-14 0.1-1.8 0.1-0.6 0.3-5.7 0.2-1.4 0.5-0.3 0.4 1.1 0.1 0.5 0.2 2.9 0.2 3.1 0.3 5.3 0.2 5.1 0.1 9.4 0.1 11.6 0.1 16.2 0.1 20.9 0.2 26.1 0.1 23.3 0.1 24.9 0.1 34.9 0.1 34.8 0.1 39.5 0.1 34.8 0.1 34.9 0.1 16.5 0.1 21.8 0.1 17.4 0.1 11.7 0.2 5.8 0.2-5.8 0.1-14.5 0.1-14.6 0.1-22.8 0-18.8 0.1-31.8 0-34.7 0.1-34.7 0.1-39.7 0.1-34.8 0.1-34.7 0.1-39.7 0.1-25.9 0.1-26.2 0.1-14 0.1-1.8 0.2-0.6 0.2-5.7 0.2-1.4 0.5-0.3 0.4 1.1 0.1 0.5 0.2 2.9 0.2 3.1 0.3 5.3 0.2 5.1 0.1 9.4 0.1 11.6 0.1 16.2 0.1 20.9 0.2 26.1 0.1 23.3 0.1 24.9 0.1 34.9 0.1 34.8 0.1 39.5 0.1 34.8 0.1 34.9 0.1 16.5 0.1 21.8 0.1 17.4 0.1 11.7 0.2 5.8 0.2-5.8 0.1-14.5 0.1-14.6 0.1-22.8 0.1-18.8 0-31.8 0.1-34.7 0-34.7 0.1-39.7 0.1-34.8 0.1-34.7 0.1-39.7 0.1-25.9 0.1-26.2 0.1-14 0.1-1.8 0.2-0.6 0.2-5.7 0.3-1.4 0.4-0.3 0.5 1.1 0.1 0.5 0.1 2.9 0.2 3.1 0.3 5.3 0.2 5.1 0.1 9.4 0.1 11.6 0.1 16.2 0.2 20.9 0.1 26.1 0.1 23.3 0.1 24.9 0.1 34.9 0.1 34.8 0.1 39.5 0.1 34.8 0.1 34.9 0.1 16.5 0.1 21.8 0.1 17.4 0.2 11.7 0.1 5.8 0.2-5.8 0.1-14.5 0.1-14.6 0.1-22.8 0.1-18.8 0-31.8 0.1-34.7 0-34.7 0.1-39.7 0.2-34.8 0-34.7 0.1-39.7 0.1-25.9 0.1-26.2 0.1-14 0.1-1.8 0.2-0.6 0.2-5.7 0.3-1.4 0.4-0.3 0.4 0.4 0.1 0.2 0.1 1.3 0.1 1.3 0.3 2.1 0.1 2.2 0.1 3.9 0.1 4.8 0.1 6.8 0.1 8.7 0.1 10.9 0.1 9.8 0.1 10.4 0.1 14.5 0 14.5 0.2 16.5 0.1 14.6 0 14.5 0.1 6.9 0.1 9.1 0 7.3 0.2 4.8 0.1 2.5 0.2-2.4 0.1-6 0.1-6.1 0.1-9.4 0-7.8 0-13.1 0.1-14.4 0.1-14.4 0.1-16.4 0.1-14.3 0-14.4 0.1-16.4 0.1-10.8 0.1-10.8 0.1-5.8 0.1-0.7 0.1-0.3 0.3-2.4 0.2-0.5 0.4-0.2 0.3 1.1 0.1 0.2 0.1 0.8 0.1 1.5 0.1 0.8 0 0.8 0.3 3.5 0 0.7 0.1 2 0.1 2.2 0.1 2.6 0.1 1.8 0 1.6 0.1 3.9 0.1 4.6 0.1 3.2 0 0.6 0.1 3.8 0.1 5 0 5 0.1 4.2 0.1 1.6 0.1 4.8 0 4.6 0.1 2.3 0.1 3.1 0 0.3 0 2 0.2 1.7 0.1 1.1 0.2-1.1 0.1-1.8 0.1-2.2 0.1-2.7 0.1-2.2 0-3.3 0.1-3.5 0.1-4.2 0.1-5 0.1-4.7 0-1.7 0.1-2.6 0-4.8 0.2-4.2 0-3.5 0-0.4 0.1-2.4 0.2-2.5 0.1-1.7 0-0.6 0.3-3.8 0-0.6 0.2-2 0.2-1.1 0.3-1 0.4 0.8 0 0.2 0.1 0.6 0.2 1 0.1 0.6 0 0.5 0.3 2.5 0 0.5 0.2 1.5 0 1 0.1 1.2 0.1 0.8 0.1 0.7 0.1 1.5 0.1 1.6 0.1 1 0 0.2 0.1 1 0.1 1.2 0.1 1.2 0 1.1 0.1 0.4 0.1 1 0.1 0.9 0 0.4 0.1 0.8 0.1 0.4 0.2 0.4 0.1 0.4 0.2-0.5 0.1-0.4 0.1-0.7 0.1-0.7 0.1-0.4 0-0.6 0.1-0.6 0.1-1 0.1-1.2 0.1-1.4 0-0.5 0.1-0.7 0-1.1 0.2-1.5 0-1.1 0.1-1.1 0.2-1.8 0.1-1.1 0-0.4 0.3-2.5 0-0.4 0.2-1.3 0.2-0.8 0.3-0.8 0.4 0.2 0.3 0.6 0.4 0.9 0.4 1 0.3 1.1 0.4 0.9 0.3 0.6 0.4 0.2 0.4-0.1 0.3-0.4 0.3-0.5 0.4-0.6 0.4-0.7 0.3-0.5 0.3-0.3 0.4-0.2 0.4 0.1 0.4 0.1 0.3 0.3 0.4 0.3 0.4 0.3 0.4 0.2 0.3 0.2 0.4 0 0.4 0 0.4-0.1 0.3-0.1 0.4-0.1 0.4-0.1 0.4-0.1 0.3 0 0.4 0 5 0.3 38.7 0 0 1.2 0.1 7.8 0.1 9.7 0.1 13.6 0.1 17.4 0.2 21.8 0.1 19.4 0 20.8 0.1 29.1 0.1 29.1 0.2 33 0.1 29.1 0.1 29 0 13.9 0.1 18.1 0.1 14.6 0.1 9.7 0.2 4.9 0.2-4.9 0.1-12.2 0.1-12.3 0.1-19.1 0-15.8 0.1-26.7 0-29.1 0.1-29.2 0.1-33.4 0.1-29.1 0.1-29.2 0.1-33.3 0.1-21.8 0.1-22 0.1-11.8 0.1-1.5 0.2-0.5 0.2-4.8 0.3-1.2 0.4-0.2 0.4 0.9 0.1 0.4 0.2 2.5 0.2 2.6 0.3 4.4 0.2 4.4 0 7.8 0.2 9.8 0.1 13.6 0.1 17.5 0.1 21.9 0.1 19.6 0.1 21 0.1 29.2 0.1 29.3 0.2 33.1 0.1 29.3 0.1 29.3 0 13.9 0.1 18.2 0.1 14.7 0.2 9.8 0.1 4.9 0.2-4.9 0.2-12.2 0.1-12.3 0-19.1 0.1-15.8 0-26.7 0.1-29.1 0.1-29.2 0.1-33.4 0.1-29.1 0.1-29.2 0-33.3 0.1-21.8 0.1-22 0.1-11.8 0.1-1.5 0.2-0.5 0.2-4.8 0.3-1.2 0.4-0.2 0.5 0.9 0.1 0.4 0.2 2.5 0.1 2.6 0.3 4.4 0.2 4.4 0.1 7.8 0.2 9.8 0.1 13.6 0.1 17.5 0.2 21.9 0.1 19.6 0.1 21 0.1 29.2 0.1 29.3 0.1 33.1 0.1 29.3 0.1 29.3 0.1 13.9 0.1 18.2 0.1 14.7 0.2 9.8 0.1 4.9 0.2-4.9 0.2-12.2 0.1-12.3 0.1-19.1 0-15.8 0.1-26.7 0-29.1 0.1-29.2 0.1-33.4 0.1-29.1 0.1-29.2 0.1-33.3 0.1-21.8 0.1-22 0.1-11.8 0.2-1.5 0.1-0.5 0.3-4.8 0.2-1.2 0.5-0.2 0.4 0.9 0.1 0.4 0.2 2.5 0.2 2.6 0.3 4.4 0.2 4.4 0 7.8 0.2 9.8 0.1 13.6 0.1 17.5 0.1 21.9 0.1 19.6 0.1 21 0.1 29.2 0.1 29.3 0.2 33.1 0.1 29.3 0.1 29.3 0 13.9 0.1 18.2 0.1 14.7 0.2 9.8 0.1 4.9 0.2-4.9 0.2-12.2 0.1-12.3 0-19.1 0.1-15.8 0-26.7 0.1-29.1 0.1-29.2 0.1-33.4 0.1-29.1 0.1-29.2 0-33.3 0.1-21.8 0.1-22 0.1-11.8 0.1-1.5 0.2-0.5 0.2-4.8 0.3-1.2 0.4-0.2 0.4 0.9 0.2 0.4 0.1 2.3 0.2 2.5 0.3 4.1 0.2 4.1 0.1 7.4 0.1 9.3 0.1 12.9 0.1 16.5 0.2 20.7 0.1 18.6 0.1 19.7 0.1 27.7 0.1 27.6 0.1 31.4 0.1 27.7 0.1 27.6 0.1 13.2 0.1 17.2 0.1 13.9 0.1 9.2 0.2 4.7 0.2-4.7 0.1-11.5 0.1-11.6 0.1-18 0-15 0.1-25.2 0-27.6 0.1-27.6 0.1-31.5 0.1-27.5 0.1-27.6 0.1-31.5 0.1-20.6 0.1-20.8 0.1-11.1 0.1-1.4 0.2-0.5 0.2-4.6 0.3-1.1 0.4-0.2 0.5 0.9 0.1 0.4 0.2 2.3 0.1 2.5 0.3 4.1 0.2 4.1 0.1 7.4 0.2 9.3 0.1 12.9 0.1 16.5 0.2 20.7 0.1 18.6 0.1 19.7 0.1 27.7 0.1 27.6 0.1 31.4 0.1 27.7 0.1 27.6 0.1 13.2 0.1 17.2 0.1 13.9 0.2 9.2 0.1 4.7 0.2-4.7 0.2-11.5 0.1-11.6 0.1-18 0-15 0.1-25.2 0-27.6 0.1-27.6 0.1-31.5 0.1-27.5 0.1-27.6 0.1-31.5 0.1-20.6 0.1-20.8 0.1-11.1 0.2-1.4 0.1-0.5 0.3-4.6 0.2-1.1 0.5-0.2 0.4 0.9 0.1 0.4 0.2 2.3 0.2 2.5 0.3 4.1 0.2 4.1 0 7.4 0.2 9.3 0.1 12.9 0.1 16.5 0.1 20.7 0.1 18.6 0.1 19.7 0.1 27.7 0.1 27.6 0.2 31.4 0.1 27.7 0.1 27.6 0 13.2 0.1 17.2 0.1 13.9 0.2 9.2 0.1 4.7 0.2-4.7 0.2-11.5 0.1-11.6 0-18 0.1-15 0-25.2 0.1-27.6 0.1-27.6 0.1-31.5 0.1-27.5 0.1-27.6 0-31.5 0.1-20.6 0.1-20.8 0.1-11.1 0.1-1.4 0.2-0.5 0.2-4.6 0.3-1.1 0.4-0.2 0.4 0.9 0.1 0.4 0.2 2.3 0.2 2.5 0.2 4.1 0.2 4.1 0.1 7.4 0.1 9.3 0.2 12.9 0.1 16.5 0.1 20.7 0.1 18.6 0.1 19.7 0.1 27.7 0.1 27.6 0.1 31.4 0.1 27.7 0.1 27.6 0.1 13.2 0.1 17.2 0.1 13.9 0.1 9.2 0.2 4.7 0.2-4.7 0.1-11.5 0.1-11.6 0.1-18 0-15 0.1-25.2 0-27.6 0.1-27.6 0.1-31.5 0.1-27.5 0.1-27.6 0.1-31.5 0.1-20.6 0-20.8 0.1-11.1 0.2-1.4 0.1-0.5 0.2-4.6 0.3-1.1 0.4-0.2 0.5 0.6 0.1 0.3 0.1 1.6 0.2 1.7 0.3 2.9 0.2 2.8 0.1 5.1 0.1 6.4 0.1 8.9 0.2 11.4 0.1 14.3 0.1 12.8 0.1 13.7 0.1 19.1 0.1 19 0.2 21.7 0.1 19.1 0.1 19.1 0 9.1 0.1 11.9 0.1 9.6 0.2 6.3 0.1 3.2 0.2-3.1 0.2-7.9 0.1-7.9 0.1-12.3 0-10.3 0.1-17.2 0-18.8 0.1-18.8 0.1-21.6 0.1-18.8 0.1-18.8 0.1-21.5 0.1-14.1 0.1-14.2 0.1-7.6 0.1-0.9 0.1-0.4 0.3-3.1 0.2-0.7 0.5-0.2 0.4 0.4 0.1 0.2 0.2 1.1 0.2 1.2 0.3 1.9 0.2 2 0 3.4 0.2 4.4 0.1 6.1 0.1 7.7 0.1 9.8 0.1 8.7 0.1 9.3 0.1 13 0.1 13.1 0.2 14.7 0.1 13 0.1 13.1 0 6.1 0.1 8.2 0.1 6.5 0.2 4.3 0.1 2.2 0.2-2.1 0.2-5.2 0.1-5.2 0-8.2 0.1-6.8 0-11.4 0.1-12.5 0.1-12.5 0.1-14.3 0.1-12.5 0.1-12.5 0-14.3 0.1-9.3 0.1-9.5 0.1-5 0.1-0.6 0.2-0.3 0.2-2 0.3-0.5 0.4-0.1 0.4 0.7 0.1 0.7 0.2 1.2 0.1 0.7 0.1 0.6 0.3 2.6 0 0.7 0.2 1.6 0 2.3 0.2 2.9 0 2 0.1 1.9 0.1 4.7 0.1 5.7 0.1 4.1 0 0.8 0.1 5 0.1 7 0.1 6.9 0.1 5.8 0.1 2.2 0.1 6.8 0.1 6.7 0 3.2 0.1 4.4 0 0.3 0.1 3 0.2 2.4 0.1 1.2 0.2-1.3 0.2-2.7 0.1-3.1 0-4.2 0.1-3.5 0-5.7 0.1-6 0-0.2 0.1-6.5 0.1-7.6 0.1-6.8 0-2.8 0.1-3.9 0-7.5 0.1-5.5 0.1-5.2 0-0.4 0.1-2.9 0.1-1.8 0.1-1 0.1-0.4 0.2-3 0.1-0.4 0.2-1.4 0.1-0.7 0.3-0.7 0.4 1.2 0 0.2 0.1 0.9 0.2 1.5 0.1 0.9 0.1 0.8 0.2 3.6 0.1 0.8 0.1 2.1 0.1 1.9 0.1 2.5 0.1 1.6 0 1.4 0.2 3.4 0.1 3.9 0.1 2.6 0 0.6 0.1 3 0.1 3.9 0.1 4 0.1 3.4 0 1.2 0.1 3.7 0.1 3.5 0 1.7 0.1 2.5 0.1 0.2 0.1 1.6 0.1 1.3 0.1 0.9 0.2-1.1 0.2-1.5 0-2.1 0.1-2.4 0.1-1.9 0-2.8 0.1-3.1 0-3.8 0.1-4.4 0.1-4.3 0.1-1.5 0-2.4 0.1-4.2 0.1-3.9 0.1-3.3 0-0.3 0-2.2 0.2-2.7 0.1-1.6 0-0.7 0.2-3.8 0.1-0.6 0.2-2.1 0.1-1.1 0.3-1.1 0.4 1.1 0 0.2 0.1 0.9 0.2 1.4 0.1 0.8 0.1 0.8 0.2 3.4 0.1 0.8 0.1 1.9 0.1 1.6 0.1 2 0.1 1.3 0 1.1 0.2 2.5 0.1 3 0.1 1.8 0 0.4 0.1 2 0.1 2.5 0.1 2.6 0.1 2.3 0 0.7 0.1 2.3 0.1 2.2 0 1 0.1 1.6 0.1 0.2 0.1 0.9 0.1 0.8 0.1 0.7 0.2-0.8 0.2-1 0-1.5 0.1-1.5 0.1-1.1 0-1.7 0.1-1.7 0-2.4 0.1-2.9 0.1-2.9 0.1-1 0-1.5 0.1-2.7 0.1-2.9 0.1-2.2 0-0.3 0-1.7 0.2-2.5 0.1-1.7 0-0.6 0.2-3.6 0.1-0.6 0.2-2 0.1-1.1 0.3-1.1 0.4 1 0 0.2 0.1 0.8 0.2 1.2 0.1 0.7 0.1 0.7 0.3 3 0 0.6 0.2 1.8 0 1.2 0.2 1.7 0 0.9 0.1 1 0.1 1.9 0.1 2.2 0.1 1.4 0 0.3 0.1 1.4 0.1 1.7 0.1 1.8 0.1 1.6 0.1 0.5 0.1 1.5 0.1 1.4 0 0.7 0.1 1.1 0.1 0.7 0.2 0.6 0.1 0.5 0.2-0.6 0.2-0.7 0.1-1.1 0-1.1 0.1-0.8 0-1 0.1-1.1 0.1-1.7 0.1-2 0.1-2.1 0-0.7 0.1-1.1 0-1.9 0.1-2.2 0.1-1.6 0-0.2 0.1-1.4 0.1-2.3 0.1-1.4 0.1-0.6 0.2-3.1 0.1-0.5 0.2-1.8 0.1-1 0.3-1 0.4 0.9 0 0.2 0.1 0.6 0.2 1 0.1 0.6 0.1 0.6 0.3 2.5 0 0.5 0.2 1.5 0 1 0.2 1.2 0 0.8 0.1 0.7 0.1 1.5 0.1 1.7 0.1 1.1 0.1 1.2 0.1 1.2 0.1 1.3 0.1 1.1 0.1 0.3 0.1 1.1 0.1 0.9 0 0.4 0.1 0.8 0.1 0.5 0.2 0.4 0.1 0.4 0.2-0.5 0.2-0.5 0.1-0.8 0-0.8 0.1-0.5 0-0.6 0.1-0.7 0.1-1.2 0.1-1.4 0.1-1.5 0-0.5 0.1-0.8 0-1.3 0.1-1.6 0.1-1.2 0-0.2 0.1-1.1 0.1-1.8 0.1-1.3 0.1-0.4 0.2-2.6 0.1-0.4 0.2-1.5 0.1-0.8 0.3-0.8 0.4 0.7 0.2 0.7 0.1 0.9 0.1 0.5 0.1 0.5 0.3 2.2 0.1 0.4 0.1 1.3 0.1 0.8 0.1 1.1 0.1 0.7 0 0.6 0.2 1.2 0.1 1.4 0.1 0.9 0.1 0.9 0.1 1 0.1 1 0.1 0.9 0.1 0.3 0.1 0.8 0.1 0.7 0 0.3 0.1 0.7 0.1 0.3 0.2 0.3 0.1 0.3 0.2-0.4 0.2-0.4 0.1-0.6 0.1-0.6 0-0.4 0.1-0.5 0-0.5 0.1-0.9 0.1-1.2 0.1-1.2 0-0.4 0.1-0.7 0.1-1 0.1-1.4 0.1-0.9 0-0.2 0.1-0.9 0.1-1.7 0.1-1 0-0.4 0.3-2.3 0-0.4 0.2-1.2 0.2-0.8 0.3-0.7 0.4 0.7 0.1 0.6 0.2 0.8 0.1 0.5 0.1 0.4 0.2 2 0.1 0.4 0.1 1.1 0.1 0.8 0.1 1 0.1 0.5 0.1 0.6 0.1 1.1 0.1 1.2 0.1 0.7 0 0.2 0.1 0.7 0.1 0.8 0.1 0.9 0.1 0.7 0 0.3 0.1 0.6 0.1 0.6 0.1 0.3 0.1 0.5 0.1 0.3 0.1 0.3 0.2 0.3 0.2-0.4 0.1-0.3 0.1-0.6 0.1-0.5 0-0.4 0.1-0.4 0-0.4 0.1-0.8 0.1-1 0.1-1.1 0-0.4 0.1-0.5 0.1-0.9 0.1-1.3 0-0.8 0.1-1 0.2-1.5 0.1-0.9 0-0.4 0.2-2.1 0.1-0.3 0.2-1.2 0.1-0.7 0.3-0.6 0.4 0.6 0.2 0.6 0.2 0.8 0.1 0.4 0 0.4 0.3 1.9 0.1 0.4 0.1 1.1 0.1 0.7 0.2 0.9 0 0.6 0.1 0.5 0.1 1 0.2 1.2 0.1 0.7 0.1 0.7 0.1 0.8 0.1 0.8 0.1 0.7 0 0.2 0.1 0.7 0.1 0.5 0.1 0.3 0.1 0.5 0.1 0.2 0.2 0.3 0.1 0.2 0.2-0.3 0.2-0.3 0.1-0.6 0.1-0.5 0-0.3 0.1-0.4 0-0.4 0.1-0.8 0.1-0.9 0.1-1.1 0.1-0.3 0-0.5 0.1-0.9 0.1-1.2 0.1-0.8 0.1-0.9 0.2-1.5 0.1-0.9 0-0.4 0.3-2 0-0.3 0.2-1.1 0.2-0.7 0.3-0.6 0.4 0.6 0.2 0.5 0.1 0.8 0.1 0.4 0.1 0.4 0.3 1.8 0.1 0.3 0.1 1.1 0.1 0.6 0.1 0.9 0.1 0.5 0.1 0.5 0.1 1 0.1 1.1 0.1 0.6 0.1 0.7 0.1 0.7 0.1 0.8 0.1 0.7 0.1 0.2 0.1 0.5 0.1 0.5 0.1 0.2 0.1 0.5 0.1 0.2 0.1 0.3 0.2 0.2 0.2-0.3 0.1-0.3 0.1-0.5 0.1-0.5 0.1-0.3 0-0.3 0.1-0.4 0.1-0.7 0.1-0.9 0.1-1 0-0.3 0.1-0.5 0-0.7 0.2-1.2 0-0.7 0.1-0.9 0.2-1.4 0.1-0.9 0-0.3 0.3-1.9 0-0.3 0.2-1.1 0.2-0.6 0.3-0.6 0.4 0.5 0.1 0.2 0.1 0.4 0.2 0.7 0.1 0.4 0 0.4 0.3 1.7 0.1 0.4 0.1 0.9 0.1 0.7 0.2 0.8 0 0.5 0.1 0.5 0.1 0.9 0.2 1 0.1 0.7 0.1 0.7 0.1 0.6 0.1 0.7 0.1 0.7 0.1 0.7 0.1 0.4 0.1 0.3 0.1 0.4 0.1 0.2 0.2 0.3 0.1 0.2 0.2-0.3 0.2-0.3 0.1-0.5 0.1-0.5 0-0.2 0.1-0.4 0-0.3 0.1-0.7 0.1-0.8 0.1-0.9 0.1-0.3 0-0.5 0.1-0.7 0.1-1.1 0.1-0.7 0.1-0.9 0.2-1.3 0.1-0.9 0-0.3 0.3-1.8 0-0.3 0.2-1.1 0.2-0.6 0.3-0.5 0.4 0.5 0.1 0.2 0.1 0.4 0.1 0.7 0.1 0.4 0.1 0.4 0.3 1.7 0.1 0.4 0.1 0.9 0.1 0.7 0.1 0.8 0.1 0.5 0.1 0.5 0.1 0.9 0.1 1 0.1 0.7 0.1 0.7 0.1 0.6 0.1 0.7 0.1 0.7 0.2 0.7 0.1 0.4 0.1 0.3 0.1 0.4 0.1 0.2 0.1 0.3 0.2 0.2 0.2-0.3 0.1-0.3 0.1-0.5 0.1-0.5 0.1-0.2 0-0.4 0.1-0.3 0.1-0.7 0.1-0.8 0.1-0.9 0-0.3 0.1-0.5 0-0.7 0.2-1.1 0-0.7 0.1-0.9 0.2-1.3 0.1-0.9 0-0.3 0.3-1.8 0-0.3 0.2-1.1 0.2-0.6 0.3-0.5 0.4 0.5 0.1 0.2 0.1 0.4 0.1 0.7 0.1 0.4 0.1 0.4 0.3 1.7 0.1 0.4 0.1 0.9 0.1 0.7 0.1 0.8 0.1 0.5 0 0.5 0.2 0.9 0.1 1 0.1 0.7 0.1 0.7 0.1 0.6 0.1 0.7 0.1 0.7 0.2 0.7 0.1 0.4 0 0.3 0.1 0.4 0.1 0.2 0.2 0.3 0.1 0.2 0.2-0.3 0.2-0.3 0.1-0.5 0.1-0.4 0-0.3 0.1-0.3 0-0.3 0.1-0.6 0.1-0.8 0.1-0.9 0-0.3 0.1-0.5 0.1-0.7 0.1-1 0.1-0.7 0.1-0.8 0.1-1.3 0.1-0.9 0-0.3 0.3-1.8 0-0.3 0.2-1 0.2-0.6 0.3-0.5 0.4 0.5 0.1 0.5 0.2 0.7 0.1 0.4 0 0.3 0.3 1.6 0 0.4 0.2 0.9 0 0.6 0.1 0.8 0.1 0.4 0.1 0.5 0.1 0.8 0.1 1 0.1 0.6 0.1 0.6 0.1 0.6 0.1 0.7 0.1 0.6 0.1 0.6 0.1 0.4 0 0.2 0.1 0.4 0.1 0.2 0.2 0.3 0.1 0.2 0.2-0.3 0.2-0.3 0.1-0.5 0.1-0.3 0-0.3 0.1-0.3 0.1-0.3 0-0.6 0.2-0.7 0.1-0.9 0-0.2 0.1-0.4 0.1-0.7 0.1-1 0.1-0.7 0.1-0.7 0.2-1.3 0.1-0.8 0-0.3 0.3-1.6 0.1-0.4 0.2-0.9 0.1-0.6 0.4-0.5 0.4 0.5 0.1 0.5 0.2 0.7 0.1 0.3 0 0.4 0.3 1.6 0 0.3 0.2 0.9 0 0.6 0.1 0.7 0.1 0.5 0.1 0.4 0.1 0.8 0.1 1 0.1 0.5 0.1 0.6 0.1 0.6 0.1 0.7 0.1 0.5 0 0.2 0.1 0.5 0.1 0.4 0 0.2 0.1 0.3 0.1 0.2 0.2 0.2 0.1 0.3 0.2-0.3 0.2-0.3 0.1-0.4 0.1-0.4 0-0.3 0.1-0.2 0.1-0.3 0.1-0.6 0.1-0.7 0.1-0.8 0-0.3 0.1-0.4 0.1-0.6 0.1-1 0.1-0.6 0.1-0.8 0.2-1.2 0.1-0.8 0-0.2 0.3-1.7 0.1-0.3 0.2-0.9 0.1-0.6 0.4-0.5 0.4 0.5 0.1 0.5 0.2 0.6 0.1 0.4 0 0.4 0.3 1.5 0 0.3 0.2 0.9 0.1 0.5 0.1 0.8 0 0.4 0.1 0.4 0.1 0.8 0.1 0.9 0.1 0.6 0.1 0.6 0.1 0.5 0.1 0.6 0.1 0.6 0 0.2 0.1 0.4 0.1 0.4 0 0.2 0.1 0.3 0.1 0.2 0.2 0.2 0.1 0.2 0.2-0.3 0.2-0.2 0.1-0.4 0.1-0.4 0.1-0.2 0-0.3 0.1-0.3 0.1-0.5 0.1-0.7 0.1-0.8 0-0.2 0.1-0.4 0.1-0.7 0.1-0.9 0.1-0.6 0.1-0.7 0.2-1.2 0.1-0.8 0-0.2 0.3-1.6 0.1-0.3 0.2-0.9 0.2-0.6 0.3-0.5 0.4 0.5 0.1 0.5 0.2 0.6 0.1 0.4 0 0.3 0.3 1.5 0.1 0.3 0.1 0.9 0.1 0.5 0.1 0.7 0 0.4 0.1 0.4 0.1 0.8 0.1 0.9 0.1 0.5 0.1 0.6 0.1 0.5 0.1 0.6 0.1 0.6 0.1 0.5 0.1 0.4 0.1 0.2 0 0.4 0.2 0.1 0.1 0.2 0.1 0.2 0.2-0.3 0.2-0.2 0.1-0.4 0.1-0.4 0.1-0.2 0-0.2 0.1-0.3 0.1-0.5 0.1-0.7 0.1-0.8 0.1-0.2 0-0.4 0.1-0.6 0.1-0.9 0.1-0.6 0.1-0.7 0.2-1.1 0.1-0.8 0.1-0.2 0.2-1.6 0.1-0.3 0.2-0.8 0.2-0.6 0.3-0.5 0.4 0.5 0.1 0.5 0.2 0.6 0.1 0.3 0 0.4 0.3 1.4 0.1 0.3 0.1 0.8 0.1 0.6 0.1 0.7 0 0.4 0.1 0.4 0.1 0.7 0.1 0.9 0.1 0.5 0.1 0.5 0.1 0.6 0.1 0.5 0.1 0.5 0 0.2 0.1 0.4 0.1 0.3 0.1 0.2 0.1 0.4 0.2 0.3 0.1 0.2 0.3-0.3 0.1-0.2 0.1-0.4 0.1-0.3 0.1-0.2 0-0.3 0.1-0.2 0.1-0.5 0.1-0.7 0.1-0.7 0.1-0.2 0-0.4 0.1-0.6 0.1-0.9 0.1-0.5 0.1-0.7 0.2-1.1 0.1-0.8 0.1-0.2 0.2-1.5 0.1-0.3 0.2-0.9 0.2-0.5 0.3-0.5 0.4 0.5 0.2 0.5 0.1 0.5 0.1 0.4 0.1 0.3 0.2 1.4 0.1 0.3 0.1 0.8 0.1 0.5 0.1 0.7 0 0.4 0.1 0.4 0.1 0.7 0.1 0.8 0.1 0.5 0.1 0.6 0.1 0.5 0.1 0.5 0.1 0.5 0.1 0.5 0.1 0.4 0.1 0.2 0.1 0.3 0.1 0.2 0.2 0.3 0.3-0.2 0.1-0.3 0.1-0.4 0.1-0.3 0.1-0.2 0-0.2 0.1-0.2 0.1-0.5 0.1-0.7 0.1-0.7 0.1-0.2 0-0.4 0.1-0.5 0.2-0.9 0-0.5 0.1-0.7 0.2-1.1 0.1-0.7 0.1-0.2 0.3-1.5 0-0.3 0.2-0.8 0.2-0.5 0.4-0.5 0.3 0.5 0.2 0.5 0.1 0.5 0.1 0.3 0.1 0.3 0.2 1.4 0.1 0.3 0.1 0.8 0.1 0.5 0.1 0.6 0.1 0.4 0 0.4 0.1 0.7 0.2 0.8 0 0.5 0.1 0.5 0.1 0.5 0.1 0.5 0.1 0.5 0.1 0.5 0.1 0.3 0.1 0.2 0.1 0.3 0.1 0.2 0.3 0.3 0.2-0.2 0.1-0.2 0.1-0.4 0.1-0.3 0.1-0.2 0-0.2 0.1-0.3 0.1-0.4 0.1-0.6 0.1-0.7 0.1-0.3 0-0.3 0.1-0.5 0.2-0.9 0-0.5 0.2-0.6 0.1-1.1 0.1-0.7 0.1-0.2 0.3-1.5 0-0.2 0.2-0.8 0.2-0.5 0.4-0.5 0.3 0.5 0.2 0.4 0.1 0.5 0.1 0.4 0.1 0.3 0.2 1.3 0.1 0.3 0.1 0.7 0.1 0.5 0.1 0.7 0.1 0.3 0 0.4 0.1 0.7 0.2 0.8 0 0.4 0.1 0.5 0.1 0.5 0.1 0.5 0.1 0.5 0.2 0.5 0 0.3 0.2 0.4 0.1 0.2 0.1 0.2 0.2 0.1 0.2-0.2 0.1-0.2 0.2-0.4 0-0.3 0.1-0.2 0.1-0.2 0-0.2 0.1-0.4 0.1-0.6 0.2-0.7 0-0.2 0.1-0.3 0-0.6 0.2-0.7 0.1-0.6 0.1-0.6 0.1-1 0.1-0.7 0.1-0.2 0.3-1.4 0-0.3 0.3-0.7 0.1-0.5 0.4-0.5 0.3 0.5 0.2 0.4 0.1 0.5 0.1 0.3 0.1 0.3 0.2 1.3 0.1 0.3 0.1 0.7 0.1 0.5 0.1 0.6 0.1 0.4 0 0.3 0.1 0.7 0.2 0.7 0 0.4 0.1 0.5 0.1 0.5 0.1 0.5 0.1 0.4 0.2 0.5 0.1 0.3 0.1 0.4 0.1 0.2 0.3 0.3 0.2-0.2 0.2-0.2 0.1-0.4 0-0.3 0.1-0.2 0.1-0.3 0.1-0.5 0.1-0.5 0.2-0.7 0-0.2 0.1-0.3 0-0.5 0.2-0.7 0.1-0.5 0.1-0.6 0.1-1 0.2-0.7 0-0.2 0.3-1.3 0-0.3 0.3-0.8 0.1-0.4 0.4-0.4 0.4 0.4 0.3 1.2 0.4 1.8 0.4 2.1 0.4 2.1 0.3 1.8 0.4 1.2 0.4 0.4 0.4-0.4 0.3-1.2 0.4-1.8 0.4-2 0.4-2.1 0.3-1.7 0.4-1.2 0.4-0.4 0.4 0.4 0.3 1.1 0.4 1.8 0.4 2 0.4 2 0.3 1.7 0.4 1.2 0.4 0.4 0.4-0.4 0.3-1.2 0.4-1.6 0.4-2 0.4-2 0.3-1.7 0.4-1.1 0.4-0.4 0.4 0.4 0.4 1.1 0.3 1.6 0.4 2 0.4 1.9 0.4 1.7 0.3 1.1 0.4 0.4 0.4-0.4 0.4-1.1 0.3-1.6 0.4-1.9 0.4-1.9 0.4-1.6 0.3-1.1 0.4-0.4 0.4 0.4 0.4 1 0.3 1.6 0.4 1.9 0.4 1.8 0.4 1.6 0.3 1.1 0.4 0.4 0.4-0.4 0.4-1 0.3-1.6 0.4-1.8 0.4-1.9 0.4-1.5 0.3-1 0.4-0.4 0.4 0.5 0.1 0.4 0.2 0.5 0.1 0.4 0 0.3 0.3 1.3 0 0.3 0.2 0.8 0.1 0.5 0.1 0.7 0 0.3 0.1 0.4 0.1 0.7 0.1 0.8 0.1 0.5 0.1 0.5 0.1 0.5 0.1 0.5 0.1 0.5 0.1 0.5 0.1 0.3 0.1 0.5 0.3 0.3 0.1 0.2 0.2-0.3 0.2-0.3 0.1-0.5 0.1-0.4 0.1-0.2 0-0.3 0.1-0.3 0.1-0.6 0.1-0.8 0.1-0.8 0-0.3 0.1-0.4 0.1-0.7 0.1-1 0.1-0.6 0.1-0.8 0.2-1.3 0.1-0.8 0-0.3 0.3-1.7 0.1-0.3 0.2-0.9 0.2-0.6 0.3-0.5 0.4 0.5 0.1 0.5 0.2 0.6 0.1 0.4 0 0.4 0.3 1.5 0.1 0.4 0.1 0.9 0.1 0.6 0.1 0.7 0 0.5 0.1 0.4 0.1 0.8 0.1 1 0.1 0.5 0.1 0.7 0.1 0.5 0.1 0.7 0.1 0.5 0 0.2 0.1 0.5 0.1 0.4 0.1 0.2 0 0.4 0.1 0.2 0.2 0.2 0.1 0.2 0.2-0.3 0.2-0.3 0.1-0.4 0.1-0.4 0.1-0.2 0-0.3 0.1-0.3 0.1-0.5 0.1-0.8 0.1-0.8 0.1-0.2 0-0.5 0.1-0.6 0.1-1 0.1-0.6 0.1-0.7 0.2-1.2 0.1-0.8 0.1-0.3 0.2-1.6 0.1-0.3 0.2-1 0.2-0.5 0.3-0.5 0.4 0.5 0.1 0.5 0.2 0.6 0.1 0.3 0 0.4 0.3 1.5 0.1 0.3 0.1 0.9 0.1 0.6 0.1 0.7 0 0.4 0.1 0.4 0.1 0.9 0.1 0.9 0.1 0.5 0.1 0.6 0.1 0.5 0.1 0.6 0.1 0.6 0.1 0.6 0.1 0.4 0.1 0.2 0.1 0.3 0.1 0.2 0.1 0.2 0.1 0.2 0.2-0.3 0.2-0.2 0.1-0.4 0.1-0.4 0.1-0.2 0-0.3 0.1-0.2 0.1-0.6 0.1-0.7 0.1-0.8 0.1-0.2 0-0.4 0.1-0.6 0.1-0.9 0.1-0.6 0.1-0.7 0.2-1.2 0.1-0.8 0.1-0.2 0.2-1.6 0.1-0.3 0.2-0.9 0.2-0.5 0.3-0.5 0.4 0.4 0 0.2 0.1 0.3 0.2 0.6 0.1 0.4 0.1 0.3 0.2 1.5 0.1 0.3 0.1 0.8 0.1 0.6 0.1 0.7 0 0.4 0.1 0.4 0.1 0.8 0.1 0.8 0.1 0.5 0.1 0.6 0.1 0.5 0.1 0.6 0.1 0.5 0 0.2 0.1 0.4 0.1 0.4 0.2 0.5 0.1 0.2 0.1 0.2 0.1 0.2 0.3-0.3 0.1-0.2 0.1-0.5 0.1-0.3 0.1-0.2 0-0.2 0.1-0.3 0.1-0.5 0.1-0.7 0.1-0.7 0.1-0.3 0-0.3 0.1-0.6 0.2-0.9 0-0.6 0.1-0.7 0.2-1.1 0.1-0.7 0.1-0.3 0.3-1.5 0-0.3 0.2-0.9 0.2-0.5 0.4-0.5 0.3 0.5 0.2 0.5 0.1 0.5 0.1 0.4 0.1 0.3 0.2 1.4 0.1 0.3 0.1 0.8 0.1 0.6 0.1 0.6 0.1 0.4 0 0.4 0.1 0.8 0.2 0.8 0 0.5 0.1 0.5 0.1 0.5 0.1 0.6 0.1 0.5 0.1 0.5 0.1 0.4 0.2 0.5 0.2 0.3 0.2 0.2 0.2-0.2 0.1-0.3 0.1-0.4 0.1-0.3 0.1-0.2 0-0.2 0.1-0.3 0.1-0.4 0.1-0.7 0.1-0.7 0.1-0.2 0-0.4 0.1-0.5 0.2-0.9 0-0.5 0.2-0.7 0.1-1.1 0.1-0.7 0.1-0.2 0.3-1.5 0-0.3 0.2-0.8 0.2-0.5 0.4-0.5 0.3 0.5 0.2 0.4 0.1 0.6 0.1 0.3 0.1 0.3 0.2 1.4 0.1 0.3 0.1 0.7 0.1 0.6 0.1 0.6 0.1 0.4 0 0.3 0.1 0.8 0.2 0.8 0 0.4 0.1 0.6 0.1 0.4 0.1 0.6 0.1 0.4 0.1 0.2 0.1 0.4 0 0.3 0.2 0.5 0.2 0.3 0.2 0.2 0.2-0.3 0.1-0.2 0.2-0.4 0-0.3 0.1-0.2 0.1-0.2 0-0.2 0.1-0.5 0.1-0.6 0.2-0.7 0-0.2 0-0.3 0.1-0.5 0.2-0.9 0.1-0.5 0.1-0.6 0.1-1.1 0.1-0.7 0.1-0.2 0.3-1.4 0-0.3 0.3-0.8 0.1-0.5 0.4-0.4 0.3 0.4 0.2 0.5 0.1 0.5 0.1 0.3 0.1 0.3 0.2 1.3 0.1 0.3 0.1 0.7 0.1 0.5 0.1 0.7 0.1 0.3 0 0.4 0.1 0.7 0.2 0.7 0 0.5 0.1 0.5 0.1 0.4 0.1 0.5 0.1 0.5 0.2 0.5 0.1 0.3 0 0.2 0.1 0.3 0.2 0.3 0.2 0.2 0.2-0.3 0.2-0.2 0.1-0.4 0-0.2 0.1-0.2 0.1-0.2 0-0.2 0.1-0.5 0.1-0.6 0.2-0.6 0-0.2 0.1-0.4 0-0.5 0.2-0.7 0.1-0.5 0.1-0.7 0.1-1 0.2-0.6 0-0.3 0.3-1.3 0-0.3 0.3-0.8 0.1-0.4 0.4-0.5 0.4 0.5 0.1 0.4 0.1 0.5 0.1 0.3 0.1 0.3 0.3 1.3 0 0.2 0.1 0.7 0.1 0.5 0.1 0.6 0.1 0.4 0 0.3 0.2 0.7 0.1 0.7 0.1 0.4 0.1 0.5 0 0.5 0.1 0.4 0.1 0.5 0.2 0.4 0.1 0.3 0 0.2 0.1 0.3 0.2 0.3 0.2 0.1 0.4-0.4 0.3-1.2 0.4-1.8 0.4-2.1 0.4-2.1 0.3-1.8 0.4-1.2 0.4-0.4 0.4 0.4 0.3 1.2 0.4 1.7 0.4 2.1 0.4 2.1 0.3 1.7 0.4 1.2 0.4 0.4 0.4-0.4 0.3-1.1 0.4-1.7 0.4-2.1 0.4-2 0.3-1.7 0.4-1.2 0.4-0.4 0.4 0.4 0.3 1.1 0.4 1.7 0.4 2 0.4 2 0.4 1.7 0.3 1.1 0.4 0.4 0.4-0.3 0.4-1.2 0.3-1.6 0.4-2 0.4-1.9 0.4-1.7 0.3-1.1 0.4-0.4 0.4 0.4 0.4 1.1 0.3 1.6 0.4 2 0.4 1.9 0.4 1.6 0.3 1.1 0.4 0.4 0.4-0.4 0.4-1 0.3-1.7 0.4-1.9 0.4-1.9 0.4-1.6 0.3-1.1 0.4-0.3 0.4 0.3 0.4 1.1 0.3 1.6 0.4 1.9 0.4 1.8 0.4 1.6 0.3 1.1 0.4 0.4 0.4-0.4 0.4-1 0.3-1.6 0.4-1.8 0.4-1.9 0.4-1.6 0.3-1 0.4-0.4 0.4 0.4 0.4 1 0.4 1.6 0.3 1.8 0.4 1.8 0.4 1.6 0.4 1 0.3 0.3 0.4-0.3 0.4-1 0.4-1.5 0.3-1.8 0.4-1.8 0.4-1.5 0.4-1.1 0.3-0.3 0.4 0.3 0.4 1 0.4 1.5 0.3 1.8 0.4 1.8 0.4 1.5 0.4 1 0.3 0.3 0.4-0.3 0.4-1 0.4-1.5 0.3-1.7 0.4-1.8 0.4-1.4 0.4-1 0.3-0.4 0.4 0.4 0.4 0.9 0.4 1.5 0.3 1.7 0.4 1.7 0.4 1.5 0.4 1 0.3 0.3 0.4-0.3 0.4-1 0.4-1.4 0.3-1.7 0.4-1.7 0.4-1.4 0.4-1 0.4-0.3 0.3 0.3 0.4 1 0.4 1.4 0.4 1.6 0.3 1.7 0.4 1.4 0.4 1 0.4 0.3 0.3-0.3 0.4-1 0.4-1.4 0.4-1.6 0.3-1.6 0.4-1.4 0.4-0.9 0.4-0.4 0.3 0.4 0.4 0.9 0.4 1.3 0.4 1.7 0.3 1.6 0.4 1.3 0.4 1 0.4 0.3 0.3-0.3 0.4-0.9 0.4-1.4 0.4-1.6 0.3-1.6 0.4-1.3 0.4-0.9 0.4-0.3 0.3 0.3 0.4 0.9 0.4 1.3 0.4 1.6 0.3 1.5 0.4 1.4 0.4 0.9 0.4 0.3 0.3-0.3 0.4-0.9 0.4-1.3 0.4-1.5 0.4-1.6 0.3-1.3 0.4-0.9 0.4-0.3 0.4 0.3 0.3 0.9 0.4 1.3 0.4 1.5 0.4 1.5 0.3 1.3 0.4 0.8 0.4 0.3 0.4-0.3 0.3-0.8 0.4-1.3 0.4-1.4 0.4-1.5 0.3-1.3 0.4-0.8 0.4-0.3 0.4 0.3 0.3 0.8 0.4 1.2 0.4 1.5 0.4 1.5 0.3 1.2 0.4 0.8 0.4 0.3 0.4-0.3 0.3-0.8 0.4-1.2 0.4-1.4 0.4-1.4 0.3-1.2 0.4-0.8 0.4-0.3 0.4 0.2 0.3 0.8 0.4 1.2 0.4 1.4 0.4 1.4 0.4 1.2 0.3 0.8 0.4 0.3 0.4-0.3 0.4-0.8 0.3-1.1 0.4-1.4 0.4-1.4 0.4-1.1 0.3-0.8 0.4-0.3 0.4 0.3 0.4 0.8 0.3 1.1 0.4 1.3 0.4 1.4 0.4 1.1 0.3 0.8 0.4 0.2 0.4-0.2 0.4-0.8 0.3-1.1 0.4-1.3 0.4-1.3 0.4-1.1 0.3-0.8 0.4-0.2 0.4 0.2 0.4 0.8 0.3 1.1 0.4 1.3 0.4 1.2 0.4 1.1 0.3 0.8 0.4 0.2 0.4-0.2 0.4-0.7 0.3-1.1 0.4-1.3 0.4-1.2 0.4-1.1 0.3-0.7 0.4-0.3 0.4 0.3 0.4 0.7 0.4 1 0.3 1.3 0.4 1.2 0.4 1.1 0.4 0.7 0.3 0.2 0.4-0.2 0.4-0.7 0.4-1 0.3-1.3 0.4-1.2 0.4-1 0.4-0.7 0.3-0.2 0.4 0.2 0.4 0.7 0.4 1 0.3 1.2 0.4 1.2 0.4 1 0.4 0.7 0.3 0.2 0.4-0.2 0.4-0.7 0.4-1 0.3-1.1 0.4-1.2 0.4-1 0.4-0.7 0.3-0.2 0.4 0.2 0.4 0.7 0.4 1 0.3 1.1 0.4 1.2 0.4 0.9 0.4 0.7 0.3 0.2 0.4-0.2 0.4-0.7 0.4-0.9 0.3-1.1 0.4-1.1 0.4-1 0.4-0.6 0.4-0.2 0.3 0.2 0.4 0.6 0.4 0.9 0.4 1.1 0.3 1.1 0.4 0.9 0.4 0.6 0.4 0.3 0.3-0.2 0.4-0.6 0.4-0.9 0.4-1.1 0.3-1.1 0.4-0.9 0.4-0.6 0.4-0.2 0.3 0.2 0.4 0.6 0.4 0.9 0.4 1 0.3 1.1 0.4 0.8 0.4 0.6 0.4 0.2 0.3-0.2 0.4-0.5 0.4-0.9 0.4-1 0.3-1 0.4-0.8 0.4-0.6 0.4-0.2 0.3 0.2 0.4 0.5 0.4 0.9 0.4 0.9 0.3 1 0.4 0.9 0.4 0.5 0.4 0.2 0.3-0.2 0.4-0.5 0.4-0.8 0.4-1 0.4-0.9 0.3-0.8 0.4-0.6 0.4-0.2 0.4 0.2 0.3 0.6 0.4 0.7 0.4 1 0.4 0.9 0.3 0.8 0.4 0.5 0.4 0.2 0.4-0.2 0.3-0.5 0.4-0.8 0.4-0.9 0.4-0.9 0.3-0.7 0.4-0.5 0.4-0.2 0.4 0.2 0.3 0.5 0.4 0.7 0.4 0.9 0.4 0.9 0.3 0.7 0.4 0.5 0.4 0.2 0.4-0.2 0.3-0.5 0.4-0.7 0.4-0.8 0.4-0.9 0.3-0.7 0.4-0.5 0.4-0.2 0.4 0.2 0.3 0.5 0.4 0.7 0.4 0.8 0.4 0.8 0.3 0.7 0.4 0.5 0.4 0.2 0.4-0.2 0.4-0.4 0.3-0.7 0.4-0.8 0.4-0.8 0.4-0.7 0.3-0.5 0.4-0.1 0.4 0.1 0.4 0.5 0.3 0.6 0.4 0.8 0.4 0.8 0.4 0.7 0.3 0.4 0.4 0.2 0.4-0.2 0.4-0.4 0.3-0.7 0.4-0.7 0.4-0.8 0.4-0.6 0.3-0.5 0.4-0.1 0.4 0.1 0.4 0.5 0.3 0.6 0.4 0.7 0.4 0.8 0.4 0.6 0.3 0.4 0.4 0.2 0.4-0.2 0.4-0.4 0.3-0.6 0.4-0.7 0.4-0.7 0.4-0.6 0.3-0.4 0.4-0.2 0.4 0.2 0.4 0.4 0.3 0.6 0.4 0.7 0.4 0.7 0.4 0.6 0.4 0.4 0.3 0.1 0.2-0.5 0.1-0.5 0.1-0.9 0.1-0.8 0.1-0.5 0-0.7 0.1-0.8 0-1.2 0.1-1.5 0.2-1.7 0-0.5 0-0.9 0.1-1.3 0.1-1.8 0.1-1.3 0.1-1.3 0.1-1.9 0.1-1.3 0.1-0.5 0.2-2.7 0.1-0.4 0.2-1.5 0.1-0.9 0.3-0.9 0.4 1.2 0 0.2 0.1 0.8 0.2 1.5 0.1 0.9 0.1 0.8 0.2 3.6 0.1 0.8 0.1 2.1 0.1 2 0.1 2.5 0.1 1.7 0.1 1.5 0.1 3.6 0.1 4.2 0.1 2.9 0 0.5 0.1 3.4 0.1 4.3 0.1 4.4 0.1 3.8 0 1.3 0.2 4.1 0 4 0.1 2 0.1 2.7 0 0.3 0.1 1.7 0.1 1.5 0.2 0.9 0.2-1 0.1-1.5 0.1-2 0.1-2.4 0.1-1.8 0-2.8 0.1-2.9 0.1-3.7 0.1-4.3 0.1-4.2 0-1.5 0.1-2.3 0-4.1 0.2-3.8 0-3.2 0-0.3 0.1-2.2 0.2-2.7 0.1-1.7 0-0.6 0.3-3.8 0-0.7 0.2-2 0.2-1.2 0.3-1.1 0.4 0.8 0 0.2 0.1 0.6 0.1 0.9 0.1 0.5 0.1 0.6 0.2 2.3 0.1 0.4 0.1 1.3 0.1 1 0.1 1.1 0 0.7 0.1 0.7 0.1 1.3 0.1 1.5 0.1 0.9 0.1 1 0.1 1.1 0.1 1.1 0.1 1 0 0.2 0.1 0.9 0.1 0.8 0 0.4 0.1 0.6 0.1 0.4 0.2 0.4 0.1 0.3 0.2-0.4 0.1-0.4 0.1-0.6 0.1-0.6 0.1-0.4 0-0.5 0.1-0.5 0.1-0.9 0.1-1.1 0.1-1.2 0-0.4 0.1-0.6 0-1 0.2-1.4 0-0.9 0.1-0.2 0-0.9 0.2-1.6 0.1-1.1 0-0.4 0.3-2.2 0-0.4 0.2-1.2 0.2-0.8 0.3-0.7 0.4 0.3 0.3 0.7 0.4 1.1 0.4 1.3 0.3 1.2 0.4 1.1 0.3 0.8 0.4 0.2 0.4-0.2 0.4-0.5 0.4-0.8 0.4-0.9 0.5-0.9 0.4-0.8 0.4-0.5 0.4-0.2 0.3 0.1 0.4 0.4 0.3 0.5 0.3 0.7 0.4 0.6 0.3 0.5 0.4 0.4 0.3 0.1 0.3 0 0.3-0.2 0.3-0.3 0.3-0.3 0.3-0.3 0.3-0.3 0.3-0.2 0.3 0 2 0.3 50.2 0"/><path stroke="#D55E00" stroke-width="2.5" d="M102.4 579.2l34.7 0 0-129.7 207.6 0 0 3.7 207.7 0 0 126 69.3 0 0-126 207.6 0 0-3.7 207.7 0 0 129.7 76.2 0"/><path stroke="#C4B817" d="M102.4 418.0l34.7 0 0.1-5.8 0.2-9.4 0.2-9.4 0.2-9.8 0.1-17.6 0.1-16.1 0.1-20.7 0.2-19.8 0.1-9.5 0.2-13.2 0.1-6.9 0.2-3.9 0.1-3.8 0.2-4.3 0.3-3.7 0.1 3.7 0.2 6.6 0.1 14.1 0.1 18.9 0.1 18.8 0.1 23.6 0.1 23.5 0.1 21.7 0.1 16 0.1 7.5 0.2 3.8 0.4 3.3 0.4 1.1 0.4-0.7 0.4-2.3 0.4-2.5 0.2-3.3 0.2-6.2 0.2-9.6 0.2-9.6 0.1-9.8 0.2-17.9 0.1-16.3 0.1-21 0.1-20.1 0.2-9.6 0.1-13.4 0.2-7 0.1-4 0.2-3.8 0.1-4.3 0.3-3.8 0.2 3.8 0.1 6.7 0.1 14.3 0.1 19.2 0.1 19.1 0.1 23.9 0.1 24 0.1 22 0.1 16.2 0.1 7.7 0.2 3.8 0.4 3.4 0.4 1.1 0.4-0.7 0.5-2.3 0.3-2.5 0.3-3.4 0.1-6.4 0.2-9.7 0.2-9.7 0.1-10 0.2-18.2 0.1-16.5 0.1-21.4 0.2-20.4 0.1-9.7 0.2-13.6 0.1-7.1 0.1-4.1 0.2-3.9 0.2-4.3 0.2-3.9 0.2 3.9 0.1 6.8 0.1 14.5 0.1 19.5 0.1 19.4 0.1 24.3 0.1 24.3 0.1 22.4 0.1 16.5 0.2 7.7 0.1 3.9 0.4 3.4 0.5 1.2 0.4-0.7 0.4-2.3 0.3-2.6 0.3-3.4 0.2-6.4 0.1-9.8 0.2-9.9 0.2-10.1 0.1-18.4 0.1-16.7 0.1-21.6 0.2-20.6 0.1-9.8 0.2-13.8 0.1-7.2 0.1-4.1 0.2-3.9 0.2-4.5 0.3-3.9 0.1 3.9 0.1 6.9 0.1 14.8 0.2 19.6 0.1 19.7 0 24.5 0.1 24.6 0.2 22.6 0.1 16.7 0.1 7.9 0.2 3.9 0.4 3.4 0.4 1.2 0.4-0.7 0.4-2.4 0.3-2.5 0.3-3.5 0.2-6.4 0.2-9.9 0.1-9.9 0.2-10.2 0.2-18.5 0-16.8 0.1-21.8 0.2-20.7 0.2-9.9 0.1-13.9 0.1-7.2 0.2-4.1 0.1-4 0.2-4.4 0.3-4 0.1 4 0.1 6.9 0.2 14.8 0.1 19.8 0.1 19.8 0.1 24.7 0.1 24.7 0.1 22.8 0.1 16.8 0.1 7.9 0.2 4 0.4 3.4 0.4 1.2 0.4-0.7 0.4-2.4 0.4-2.6 0.2-3.4 0.2-6.5 0.2-9.9 0.2-10 0.1-10.2 0.2-18.6 0.1-16.8 0.1-21.9 0.1-20.9 0.2-9.9 0.1-13.9 0.2-7.3 0.1-4.1 0.2-4 0.1-4.5 0.3-3.9 0.1 3.9 0.2 7 0.1 14.9 0.1 19.9 0.1 19.8 0.1 24.9 0.1 24.8 0.1 22.8 0.1 16.9 0.1 8 0.2 3.9 0.4 3.5 0.4 1.2 0.4-0.7 0.5-2.4 0.3-2.6 0.3-3.5 0.1-6.4 0.2-10 0.2-9.9 0.1-10.3 0.2-18.6 0.1-16.9 0.1-21.9 0.2-20.9 0.1-10 0.2-13.9 0.1-7.3 0.1-4.2 0.2-3.9 0.1-4.5 0.3-4 0.2 4 0.1 6.9 0.1 15 0.1 19.9 0.1 19.9 0.1 24.9 0.1 24.9 0.1 22.9 0.1 16.9 0.1 7.9 0.2 4 0.4 3.5 0.5 1.2 0.4-0.7 0.4-2.4 0.3-2.6 0.3-3.5 0.2-6.4 0.1-10 0.2-9.9 0.2-10.3 0.1-18.6 0.1-16.9 0.1-21.9 0.2-20.9 0.1-10 0.2-13.9 0.1-7.3 0.1-4.2 0.2-3.9 0.2-4.5 0.2-4 0.2 4 0.1 6.9 0.1 15 0.2 19.9 0.1 19.9 0 24.9 0.1 24.9 0.2 22.9 0.1 16.9 0.1 7.9 0.2 4 0.4 3.5 0.4 1.2 0.4-0.7 0.4-2.4 0.3-2.6 0.3-3.5 0.2-6.4 0.1-10 0.2-9.9 0.2-10.3 0.2-18.6 0-16.9 0.1-21.9 0.2-20.9 0.1-10 0.2-13.9 0.1-7.3 0.2-4.2 0.1-3.9 0.2-4.5 0.3-4 0.1 4 0.1 6.9 0.2 15 0.1 19.9 0.1 19.9 0.1 24.9 0.1 24.9 0.1 22.9 0.1 16.9 0.1 7.9 0.2 4 0.4 3.5 0.4 1.2 0.4-0.7 0.4-2.4 0.4-2.6 0.2-3.5 0.2-6.4 0.2-10 0.1-9.9 0.2-10.3 0.2-18.6 0.1-16.9 0.1-21.9 0.1-20.9 0.2-10 0.1-13.9 0.2-7.3 0.1-4.2 0.2-3.9 0.1-4.5 0.3-4 0.1 4 0.2 6.9 0.1 15 0.1 19.9 0.1 19.9 0.1 24.9 0.1 24.9 0.1 22.9 0.1 16.9 0.1 7.9 0.2 4 0.4 3.5 0.4 1.2 0.4-0.7 0.5-2.4 0.3-2.6 0.3-3.5 0.1-6.4 0.2-10 0.2-9.9 0.1-10.3 0.2-18.6 0.1-16.9 0.1-21.9 0.1-20.9 0.2-10 0.2-13.9 0.1-7.3 0.1-4.2 0.2-3.9 0.1-4.5 0.3-4 0.2 4 0.1 6.9 0.1 15 0.1 19.9 0.1 19.9 0.1 24.9 0.1 24.9 0.1 22.9 0.1 16.9 0.1 7.9 0.2 4 0.4 3.5 0.5 1.2 0.4-0.7 0.4-2.4 0.3-2.6 0.3-3.5 0.2-6.4 0.1-10 0.2-9.9 0.2-10.3 0.1-18.6 0.1-16.9 0.1-21.9 0.2-20.9 0.1-10 0.2-13.9 0.1-7.3 0.1-4.2 0.2-3.9 0.2-4.5 0.2-4 0.2 4 0.1 6.9 0.1 15 0.2 19.9 0 19.9 0.1 24.9 0.1 24.9 0.2 22.9 0.1 16.9 0.1 7.9 0.1 4 0.5 3.5 0.4 1.2 0.4-0.7 0.4-2.4 0.3-2.6 0.3-3.5 0.2-6.4 0.1-10 0.2-9.9 0.2-10.3 0.1-18.6 0.1-16.9 0.1-21.9 0.2-20.9 0.1-10 0.2-13.9 0.1-7.3 0.2-4.2 0.1-3.9 0.2-4.5 0.3-4 0.1 4 0.1 6.9 0.2 15 0.1 19.9 0.1 19.9 0.1 24.9 0.1 24.9 0.1 22.9 0.1 16.9 0.1 7.9 0.2 4 0.4 3.5 0.4 1.2 0.4-0.7 0.4-2.4 0.4-2.6 0.2-3.5 0.2-6.4 0.2-10 0.1-9.9 0.2-10.3 0.2-18.6 0.1-16.9 0.1-21.9 0.1-20.9 0.2-10 0.1-13.9 0.2-7.3 0.1-4.2 0.1-3.9 0.2-4.5 0.3-4 0.1 4 0.2 6.9 0.1 15 0.1 19.9 0.1 19.9 0.1 24.9 0.1 24.9 0.1 22.9 0.1 16.9 0.1 7.9 0.2 4 0.4 3.5 0.4 1.2 0.4-0.7 0.4-2.4 0.4-2.6 0.3-3.5 0.1-6.4 0.2-10 0.2-9.9 0.1-10.3 0.2-18.6 0.1-16.9 0.1-21.9 0.1-20.9 0.2-10 0.2-13.9 0.1-7.3 0.1-4.2 0.2-3.9 0.1-4.5 0.3-4 0.2 4 0.1 6.9 0.1 15 0.1 19.9 0.1 19.9 0.1 24.9 0.1 24.9 0.1 22.9 0.1 16.9 0.1 7.9 0.2 4 0.4 3.5 0.4 1.2 0.5-0.7 0.4-2.4 0.3-2.6 0.3-3.5 0.2-6.4 0.1-10 0.2-9.9 0.2-10.3 0.1-18.6 0.1-16.9 0.1-21.9 0.2-20.9 0.1-10 0.2-13.9 0.1-7.3 0.1-4.2 0.2-3.9 0.2-4.5 0.2-4 0.2 4 0.1 6.9 0.1 15 0.2 19.9 0 19.9 0.1 24.9 0.1 24.9 0.1 22.9 0.2 16.9 0.1 7.9 0.1 4 0.5 3.5 0.4 1.2 0.4-0.7 0.4-2.4 0.3-2.6 0.3-3.5 0.2-6.4 0.1-10 0.2-9.9 0.2-10.3 0.1-18.6 0.1-16.9 0.1-21.9 0.2-20.9 0.1-10 0.2-13.9 0.1-7.3 0.2-4.2 0.1-3.9 0.2-4.5 0.3-4 0.1 4 0.1 6.9 0.2 15 0.1 19.9 0.1 19.9 0 24.9 0.2 24.9 0.1 22.9 0.1 16.9 0.1 7.9 0.2 4 0.4 3.5 0.4 1.2 0.4-0.7 0.4-2.4 0.4-2.6 0.2-3.5 0.2-6.4 0.2-10 0.1-9.9 0.2-10.3 0.2-18.6 0.1-16.9 0-21.9 0.2-20.9 0.2-10 0.1-13.9 0.2-7.3 0.1-4.2 0.1-3.9 0.2-4.5 0.3-4 0.1 4 0.2 6.9 0.1 15 0.1 19.9 0.1 19.9 0.1 24.9 0.1 24.9 0.1 22.9 0.1 16.9 0.1 7.9 0.2 4 0.4 3.5 0.4 1.2 0.4-0.7 0.4-2.4 0.4-2.6 0.2-3.5 0.2-6.4 0.2-10 0.2-9.9 0.1-10.3 0.2-18.6 0.1-16.9 0.1-21.9 0.1-20.9 0.2-10 0.2-13.9 0.1-7.3 0.1-4.2 0.2-3.9 0.1-4.5 0.3-4 0.2 4 0.1 6.9 0.1 15 0.1 19.9 0.1 19.9 0.1 24.9 0.1 24.9 0.1 22.9 0.1 16.9 0.1 7.9 0.2 4 0.4 3.5 0.4 1.2 0.5-0.7 0.4-2.4 0.3-2.6 0.3-3.5 0.2-6.4 0.1-10 0.2-9.9 0.2-10.3 0.1-18.6 0.1-16.9 0.1-21.9 0.2-20.9 0.1-10 0.2-13.9 0.1-7.3 0.1-4.2 0.2-3.9 0.2-4.5 0.2-4 0.2 4 0.1 6.9 0.1 15 0.2 19.9 0 19.9 0.1 24.9 0.1 24.9 0.1 22.9 0.1 16.9 0.2 7.9 0.1 4 0.5 3.5 0.4 1.2 0.4-0.7 0.4-2.4 0.3-2.6 0.3-3.5 0.2-6.4 0.1-10 0.2-9.9 0.2-10.3 0.1-18.6 0.1-16.9 0.1-21.9 0.2-20.9 0.1-10 0.2-13.9 0.1-7.3 0.1-4.2 0.2-3.9 0.2-4.5 0.3-4 0.1 4 0.1 6.9 0.2 15 0.1 19.9 0.1 19.9 0 24.9 0.2 24.9 0.1 22.9 0.1 16.9 0.1 7.9 0.2 4 0.4 3.5 0.4 1.2 0.4-0.7 0.4-2.4 0.3-2.6 0.3-3.5 0.2-6.4 0.2-10 0.1-9.9 0.2-10.3 0.2-18.6 0.1-16.9 0-21.9 0.2-20.9 0.2-10 0.1-13.9 0.1-7.3 0.2-4.2 0.1-3.9 0.2-4.5 0.3-4 0.1 4 0.2 6.9 0.1 15 0.1 19.9 0.1 19.9 0.1 24.9 0.1 24.9 0.1 22.9 0.1 16.9 0.1 7.9 0.2 4 0.4 3.5 0.4 1.2 0.4-0.7 0.4-2.4 0.4-2.6 0.2-3.5 0.2-6.4 0.2-10 0.2-9.9 0.1-10.3 0.2-18.6 0.1-16.9 0.1-21.9 0.1-20.9 0.2-10 0.1-13.9 0.2-7.3 0.1-4.2 0.2-3.9 0.1-4.5 0.3-4 0.2 4 0.1 6.9 0.1 15 0.1 19.9 0.1 19.9 0.1 24.9 0.1 24.9 0.1 22.9 0.1 16.9 0.1 7.9 0.2 4 0.4 3.5 0.4 1.2 0.5-0.7 0.4-2.4 0.3-2.6 0.3-3.5 0.1-6.4 0.2-10 0.2-9.9 0.1-10.3 0.2-18.6 0.1-16.9 0.1-21.9 0.2-20.9 0.1-10 0.2-13.9 0.1-7.3 0.1-4.2 0.2-3.9 0.2-4.5 0.2-4 0.2 4 0.1 6.9 0.1 15 0.1 19.9 0.1 19.9 0.1 24.9 0.1 24.9 0.1 22.9 0.1 16.9 0.2 7.9 0.1 4 0.4 3.5 0.5 1.2 0.4-0.7 0.4-2.4 0.3-2.6 0.3-3.5 0.2-6.4 0.1-10 0.2-9.9 0.2-10.3 0.1-18.6 0.1-16.9 0.1-21.9 0.2-20.9 0.1-10 0.2-13.9 0.1-7.3 0.1-4.2 0.2-3.9 0.2-4.5 0.3-4 0.1 4 0.1 6.9 0.1 15 0.2 19.9 0.1 19.9 0 24.9 0.1 24.9 0.2 22.9 0.1 16.9 0.1 7.9 0.2 4 0.4 3.5 0.4 1.2 0.4-0.7 0.4-2.4 0.3-2.6 0.3-3.5 0.2-6.4 0.2-10 0.1-9.9 0.2-10.3 0.2-18.6 0-16.9 0.1-21.9 0.2-20.9 0.2-10 0.1-13.9 0.1-7.3 0.2-4.2 0.1-3.9 0.2-4.5 0.3-4 0.1 4 0.1 6.9 0.2 15 0.1 19.9 0.1 19.9 0.1 24.9 0.1 24.9 0.1 22.9 0.1 16.9 0.1 7.9 0.2 4 0.4 3.5 0.4 1.2 0.4-0.7 0.4-2.4 0.4-2.6 0.2-3.5 0.2-6.4 0.2-10 0.2-9.9 0.1-10.3 0.2-18.6 0.1-16.9 0.1-21.9 0.1-20.9 0.2-10 0.1-13.9 0.2-7.3 0.1-4.2 0.2-3.9 0.1-4.5 0.3-4 0.1 4 0.2 6.9 0.1 15 0.1 19.9 0.1 19.9 0.1 24.9 0.1 24.9 0.1 22.9 0.1 16.9 0.1 7.9 0.2 4 0.4 3.5 0.4 1.2 0.4-0.7 0.5-2.4 0.3-2.6 0.3-3.5 0.1-6.4 0.2-10 0.2-9.9 0.1-10.3 0.2-18.6 0.1-16.9 0.1-21.9 0.2-20.9 0.1-10 0.2-13.9 0.1-7.3 0.1-4.2 0.2-3.9 0.1-4.5 0.3-4 0.2 4 0.1 6.9 0.1 15 0.1 19.9 0.1 19.9 0.1 24.9 0.1 24.9 0.1 22.9 0.1 16.9 0.1 7.9 0.2 4 0.4 3.5 0.5 1.2 0.4-0.7 0.4-2.4 0.3-2.6 0.3-3.5 0.2-6.4 0.1-10 0.2-9.9 0.2-10.3 0.1-18.6 0.1-16.9 0.1-21.9 0.2-20.9 0.1-10 0.2-13.9 0.1-7.3 0.1-4.2 0.2-3.9 0.2-4.5 0.2-4 0.2 4 0.1 6.9 0.1 15 0.2 19.9 0.1 19.9 0 24.9 0.1 24.9 0.2 22.9 0.1 16.9 0.1 7.9 0.2 4 0.4 3.5 0.4 1.2 0.4-0.7 0.4-2.4 0.3-2.6 0.3-3.5 0.2-6.4 0.1-10 0.2-9.9 0.2-10.3 0.2-18.6 0-16.9 0.1-21.9 0.2-20.9 0.2-10 0.1-13.9 0.1-7.3 0.2-4.2 0.1-3.9 0.2-4.5 0.3-4 0.1 4 0.1 6.9 0.2 15 0.1 19.9 0.1 19.9 0.1 24.9 0.1 24.9 0.1 22.9 0.1 16.9 0.1 7.9 0.2 4 0.4 3.5 0.4 1.2 0.4-0.7 0.4-2.4 0.4-2.6 0.2-3.5 0.2-6.4 0.2-10 0.1-9.9 0.2-10.3 0.2-18.6 0.1-16.9 0.1-21.9 0.1-20.9 0.2-10 0.1-13.9 0.2-7.3 0.1-4.2 0.2-3.9 0.1-4.5 0.3-4 0.1 4 0.2 6.9 0.1 15 0.1 19.9 0.1 19.9 0.1 24.9 0.1 24.9 0.1 22.9 0.1 16.9 0.1 7.9 0.2 4 0.4 3.5 0.4 1.2 0.4-0.7 0.5-2.4 0.3-2.6 0.3-3.5 0.1-6.4 0.2-10 0.2-9.9 0.1-10.3 0.2-18.6 0.1-16.9 0.1-21.9 0.1-20.9 0.2-10 0.2-13.9 0.1-7.3 0.1-4.2 0.2-3.9 0.1-4.5 0.3-4 0.2 4 0.1 6.9 0.1 15 0.1 19.9 0.1 19.9 0.1 24.9 0.1 24.9 0.1 22.9 0.1 16.9 0.1 7.9 0.2 4 0.4 3.5 0.5 1.2 0.4-0.7 0.4-2.4 0.3-2.6 0.3-3.5 0.2-6.4 0.1-10 0.2-9.9 0.2-10.3 0.1-18.6 0.1-16.9 0.1-21.9 0.2-20.9 0.1-10 0.2-13.9 0.1-7.3 0.1-4.2 0.2-3.9 0.2-4.5 0.2-4 0.2 4 0.1 6.9 0.1 15 0.2 19.9 0 19.9 0.1 24.9 0.1 24.9 0.2 22.9 0.1 16.9 0.1 7.9 0.1 4 0.5 3.5 0.4 1.2 0.4-0.7 0.4-2.4 0.3-2.6 0.3-3.5 0.2-6.4 0.1-10 0.2-9.9 0.2-10.3 0.1-18.6 0.1-16.9 0.1-21.9 0.2-20.9 0.1-10 0.2-13.9 0.1-7.3 0.2-4.2 0.1-3.9 0.2-4.5 0.3-4 0.1 4 0.1 6.9 0.2 15 0.1 19.9 0.1 19.9 0.1 24.9 0.1 24.9 0.1 22.9 0.1 16.9 0.1 7.9 0.2 4 0.4 3.5 0.4 1.2 0.4-0.7 0.4-2.4 0.4-2.6 0.2-3.5 0.2-6.4 0.2-10 0.1-9.9 0.2-10.3 0.2-18.6 0.1-16.9 0.1-21.9 0.1-20.9 0.2-10 0.1-13.9 0.2-7.3 0.1-4.2 0.1-3.9 0.2-4.5 0.3-4 0.1 4 0.2 6.9 0.1 15 0.1 19.9 0.1 19.9 0.1 24.9 0.1 24.9 0.1 22.9 0.1 16.9 0.1 7.9 0.2 4 0.4 3.5 0.4 1.2 0.4-0.7 0.4-2.4 0.4-2.5 0.3-3.5 0.1-6.5 0.2-9.9 0.2-9.9 0.1-10.2 0.2-18.5 0.1-16.9 0.1-21.8 0.1-20.8 0.2-9.9 0.2-13.9 0.1-7.2 0.1-4.2 0.2-3.9 0.1-4.5 0.3-4 0.2 4 0.1 6.9 0.1 14.9 0.1 19.8 0.1 19.8 0.1 24.8 0.1 24.8 0.1 22.8 0.1 16.9 0.1 7.9 0.2 3.9 0.4 3.5 0.4 1.2 0.4-0.7 0.5-2.4 0.3-2.5 0.3-3.5 0.1-6.4 0.2-9.8 0.2-9.9 0.1-10.1 0.2-18.4 0.1-16.7 0.1-21.7 0.2-20.7 0.1-9.8 0.2-13.8 0.1-7.2 0.1-4.1 0.2-4 0.1-4.4 0.3-4 0.2 4 0.1 6.9 0.1 14.7 0.1 19.7 0.1 19.7 0.1 24.7 0.1 24.6 0.1 22.6 0.1 16.8 0.1 7.8 0.2 4 0.4 3.4 0.4 1.2 0.5-0.7 0.4-2.4 0.3-2.5 0.3-3.5 0.2-6.5 0.1-9.9 0.2-9.9 0.2-10.2 0.1-18.5 0.1-16.9 0.1-21.8 0.2-20.8 0.1-9.9 0.2-13.9 0.1-7.2 0.1-4.2 0.2-3.9 0.2-4.5 0.2-4 0.2 4 0.1 6.9 0.1 14.9 0.2 19.8 0 19.8 0.1 24.8 0.1 24.8 0.1 22.8 0.1 16.9 0.2 7.9 0.1 3.9 0.5 3.5 0.4 1.2 0.4-0.7 0.4-2.4 0.3-2.5 0.3-3.5 0.2-6.5 0.1-9.9 0.2-9.9 0.2-10.2 0.1-18.5 0.1-16.9 0.1-21.8 0.2-20.8 0.1-9.9 0.2-13.9 0.1-7.2 0.1-4.2 0.2-3.9 0.2-4.5 0.2-4 0.2 4 0.1 6.9 0.1 14.9 0.2 19.8 0.1 19.8 0 24.8 0.1 24.8 0.2 22.8 0.1 16.9 0.1 7.9 0.2 3.9 0.4 3.5 0.4 1.2 0.4-0.7 0.4-2.4 0.3-2.5 0.3-3.5 0.2-6.5 0.1-9.9 0.2-9.9 0.2-10.2 0.1-18.5 0.1-16.9 0.1-21.8 0.2-20.8 0.1-9.9 0.2-13.9 0.1-7.2 0.2-4.2 0.1-3.9 0.2-4.5 0.3-4 0.1 4 0.1 6.9 0.2 14.9 0.1 19.8 0.1 19.8 0 24.8 0.2 24.8 0.1 22.8 0.1 16.9 0.1 7.9 0.2 3.9 0.4 3.5 0.4 1.2 0.4-0.7 0.4-2.4 0.3-2.5 0.3-3.5 0.2-6.5 0.2-9.9 0.1-9.9 0.2-10.2 0.2-18.5 0.1-16.9 0-21.8 0.2-20.8 0.2-9.9 0.1-13.9 0.1-7.2 0.2-4.2 0.1-3.9 0.2-4.5 0.3-4 0.1 4 0.1 6.9 0.2 14.9 0.1 19.8 0.1 19.8 0.1 24.8 0.1 24.8 0.1 22.8 0.1 16.9 0.1 7.9 0.2 3.9 0.4 3.5 0.4 1.2 0.4-0.7 0.4-2.4 0.4-2.5 0.2-3.5 0.2-6.5 0.2-9.9 0.1-9.9 0.2-10.2 0.2-18.5 0.1-16.9 0.1-21.8 0.1-20.8 0.2-9.9 0.1-13.9 0.2-7.2 0.1-4.2 0.1-3.9 0.2-4.5 0.3-4 0.1 4 0.2 6.9 0.1 14.9 0.1 19.8 0.1 19.8 0.1 24.8 0.1 24.8 0.1 22.8 0.1 16.9 0.1 7.9 0.2 3.9 0.4 3.5 0.4 1.2 0.4-0.7 0.4-2.4 0.4-2.5 0.2-3.5 0.2-6.5 0.2-9.9 0.2-9.9 0.1-10.2 0.2-18.5 0.1-16.9 0.1-21.8 0.1-20.8 0.2-9.9 0.1-13.9 0.2-7.2 0.1-4.2 0.2-3.9 0.1-4.5 0.3-4 0.2 4 0.1 6.9 0.1 14.9 0.1 19.8 0.1 19.8 0.1 24.8 0.1 24.8 0.1 22.8 0.1 16.9 0.1 7.9 0.2 3.9 0.4 3.5 0.4 1.2 0.4-0.7 0.5-2.4 0.3-2.5 0.3-3.5 0.1-6.5 0.2-9.9 0.2-9.9 0.1-10.2 0.2-18.5 0.1-16.9 0.1-21.8 0.1-20.8 0.2-9.9 0.2-13.9 0.1-7.2 0.1-4.2 0.2-3.9 0.1-4.5 0.3-4 0.2 4 0.1 6.9 0.1 14.9 0.1 19.8 0.1 19.8 0.1 24.8 0.1 24.8 0.1 22.8 0.1 16.9 0.1 7.9 0.2 3.9 0.4 3.5 0.4 1.2 0.5-0.7 0.4-2.4 0.3-2.5 0.3-3.5 0.2-6.5 0.1-9.9 0.2-9.9 0.1-10.2 0.2-18.5 0.1-16.9 0.1-21.8 0.2-20.8 0.1-9.9 0.2-13.9 0.1-7.2 0.1-4.2 0.2-3.9 0.2-4.5 0.2-4 0.2 4 0.1 6.9 0.1 14.9 0.1 19.8 0.1 19.8 0.1 24.8 0.1 24.8 0.1 22.8 0.1 16.9 0.2 7.9 0.1 3.9 0.4 3.5 0.5 1.2 0.4-0.7 0.4-2.4 0.3-2.5 0.3-3.5 0.2-6.5 0.1-9.9 0.2-9.9 0.2-10.2 0.1-18.5 0.1-16.9 0.1-21.8 0.2-20.8 0.1-9.9 0.2-13.9 0.1-7.2 0.1-4.2 0.2-3.9 0.2-4.5 0.2-4 0.2 4 0.1 6.9 0.1 14.9 0.2 19.8 0 19.8 0.1 24.8 0.1 24.8 0.2 22.8 0.1 16.9 0.1 7.9 0.1 3.9 0.5 3.5 0.4 1.2 0.4-0.7 0.4-2.4 0.3-2.5 0.3-3.5 0.2-6.5 0.1-9.9 0.2-9.9 0.2-10.2 0.1-18.5 0.1-16.9 0.1-21.8 0.2-20.8 0.1-9.9 0.2-13.9 0.1-7.2 0.1-4.2 0.2-3.9 0.2-4.5 0.3-4 0.1 4 0.1 6.9 0.2 14.9 0.1 19.8 0.1 19.8 0 24.8 0.1 24.8 0.2 22.8 0.1 16.9 0.1 7.9 0.2 3.9 0.4 3.5 0.4 1.2 0.4-0.7 0.4-2.4 0.3-2.5 0.3-3.5 0.2-6.5 0.2-9.9 0.1-9.9 0.2-10.2 0.2-18.5 0-16.9 0.1-21.8 0.2-20.8 0.2-9.9 0.1-13.9 0.1-7.2 0.2-4.2 0.1-3.9 0.2-4.5 0.3-4 0.1 4 0.1 6.9 0.2 14.9 0.1 19.8 0.1 19.8 0.1 24.8 0.1 24.8 0.1 22.8 0.1 16.9 0.1 7.9 0.2 3.9 0.4 3.5 0.4 1.2 0.4-0.7 0.4-2.4 0.4-2.5 0.2-3.5 0.2-6.5 0.2-9.9 0.1-9.9 0.2-10.2 0.2-18.5 0.1-16.9 0.1-21.8 0.1-20.8 0.2-9.9 0.1-13.9 0.2-7.2 0.1-4.2 0.1-3.9 0.2-4.5 0.3-4 0.1 4 0.2 6.9 0.1 14.9 0.1 19.8 0.1 19.8 0.1 24.8 0.1 24.8 0.1 22.8 0.1 16.9 0.1 7.9 0.2 3.9 0.4 3.5 0.4 1.2 0.4-0.7 0.4-2.4 0.4-2.5 0.2-3.5 0.2-6.5 0.2-9.9 0.2-9.9 0.1-10.2 0.2-18.5 0.1-16.9 0.1-21.8 0.1-20.8 0.2-9.9 0.1-13.9 0.2-7.2 0.1-4.2 0.2-3.9 0.1-4.5 0.3-4 0.1 4 0.2 6.9 0.1 14.9 0.1 19.8 0.1 19.8 0.1 24.8 0.1 24.8 0.1 22.8 0.1 16.9 0.1 7.9 0.2 3.9 0.4 3.5 0.4 1.2 0.4-0.7 0.5-2.4 0.3-2.5 0.3-3.5 0.1-6.5 0.2-9.9 0.2-9.9 0.1-10.2 0.2-18.5 0.1-16.9 0.1-21.8 0.1-20.8 0.2-9.9 0.2-13.9 0.1-7.2 0.1-4.2 0.2-3.9 0.1-4.5 0.3-4 0.2 4 0.1 6.9 0.1 14.9 0.1 19.8 0.1 19.8 0.1 24.8 0.1 24.8 0.1 22.8 0.1 16.9 0.1 7.9 0.2 3.9 0.4 3.5 0.4 1.2 0.5-0.7 0.4-2.4 0.3-2.5 0.3-3.5 0.1-6.5 0.2-9.9 0.2-9.9 0.1-10.2 0.2-18.5 0.1-16.9 0.1-21.8 0.2-20.8 0.1-9.9 0.2-13.9 0.1-7.2 0.1-4.2 0.2-3.9 0.1-4.5 0.3-4 0.2 4 0.1 6.9 0.1 14.9 0.1 19.8 0.1 19.8 0.1 24.8 0.1 24.8 0.1 22.8 0.1 16.9 0.1 7.9 0.2 3.9 0.4 3.5 0.5 1.2 0.4-0.7 0.4-2.4 0.3-2.5 0.3-3.5 0.2-6.5 0.1-9.9 0.2-9.9 0.2-10.2 0.1-18.5 0.1-16.9 0.1-21.8 0.2-20.8 0.1-9.9 0.2-13.9 0.1-7.2 0.1-4.2 0.2-3.9 0.2-4.5 0.2-4 0.2 4 0.1 6.9 0.1 14.9 0.2 19.8 0 19.8 0.1 24.8 0.1 24.8 0.1 22.8 0.2 16.9 0.1 7.9 0.1 3.9 0.5 3.5 0.4 1.2 0.4-0.7 0.4-2.4 0.3-2.5 0.3-3.5 0.2-6.5 0.1-9.9 0.2-9.9 0.2-10.2 0.1-18.5 0.1-16.9 0.1-21.8 0.2-20.8 0.1-9.9 0.2-13.9 0.1-7.2 0.1-4.2 0.2-3.9 0.2-4.5 0.3-4 0.1 4 0.1 6.9 0.1 14.9 0.2 19.8 0.1 19.8 0 24.8 0.1 24.8 0.2 22.8 0.1 16.9 0.1 7.9 0.2 3.9 0.4 3.5 0.4 1.2 0.4-0.7 0.4-2.4 0.3-2.5 0.3-3.5 0.2-6.5 0.1-9.9 0.2-9.9 0.2-10.2 0.1-18.5 0.1-16.9 0.1-21.8 0.2-20.8 0.1-9.9 0.2-13.9 0.1-7.2 0.2-4.2 0.1-3.9 0.2-4.5 0.3-4 0.1 4 0.1 6.9 0.2 14.9 0.1 19.8 0.1 19.8 0 24.8 0.2 24.8 0.1 22.8 0.1 16.9 0.1 7.9 0.2 3.9 0.4 3.5 0.4 1.2 0.4-0.7 0.4-2.4 0.3-2.5 0.3-3.5 0.2-6.5 0.2-9.9 0.1-9.9 0.2-10.2 0.2-18.5 0.1-16.9 0-21.8 0.2-20.8 0.2-9.9 0.1-13.9 0.1-7.2 0.2-4.2 0.1-3.9 0.2-4.5 0.3-4 0.1 4 0.1 6.9 0.2 14.9 0.1 19.8 0.1 19.8 0.1 24.8 0.1 24.8 0.1 22.8 0.1 16.9 0.1 7.9 0.2 3.9 0.4 3.5 0.4 1.2 0.4-0.7 0.4-2.4 0.4-2.5 0.2-3.5 0.2-6.5 0.2-9.9 0.1-9.9 0.2-10.2 0.2-18.5 0.1-16.9 0.1-21.8 0.1-20.8 0.2-9.9 0.1-13.9 0.2-7.2 0.1-4.2 0.1-3.9 0.2-4.5 0.3-4 0.1 4 0.2 6.9 0.1 14.9 0.1 19.8 0.1 19.8 0.1 24.8 0.1 24.8 0.1 22.8 0.1 16.9 0.1 7.9 0.2 3.9 0.4 3.5 0.4 1.2 0.4-0.7 0.4-2.4 0.4-2.5 0.2-3.5 0.2-6.5 0.2-9.9 0.2-9.9 0.1-10.2 0.2-18.5 0.1-16.9 0.1-21.8 0.1-20.8 0.2-9.9 0.2-13.9 0.1-7.2 0.1-4.2 0.2-3.9 0.1-4.5 0.3-4 0.2 4 0.1 6.9 0.1 14.9 0.1 19.8 0.1 19.8 0.1 24.8 0.1 24.8 0.1 22.8 0.1 16.9 0.1 7.9 0.2 3.9 0.4 3.5 0.4 1.2 0.4-0.7 0.5-2.4 0.3-2.5 0.3-3.5 0.1-6.5 0.2-9.9 0.2-9.9 0.1-10.2 0.2-18.5 0.1-16.9 0.1-21.8 0.1-20.8 0.2-9.9 0.2-13.9 0.1-7.2 0.1-4.2 0.2-3.9 0.1-4.5 0.3-4 0.2 4 0.1 6.9 0.1 14.9 0.1 19.8 0.1 19.8 0.1 24.8 0.1 24.8 0.1 22.8 0.1 16.9 0.1 7.9 0.2 3.9 0.4 3.5 0.4 1.2 0.5-0.7 0.4-2.4 0.3-2.5 0.3-3.5 0.2-6.5 0.1-9.9 0.2-9.9 0.2-10.2 0.1-18.5 0.1-16.9 0.1-21.8 0.2-20.8 0.1-9.9 0.2-13.9 0.1-7.2 0.1-4.2 0.2-3.9 0.2-4.5 0.2-4 0.2 4 0.1 6.9 0.1 14.9 0.2 19.8 0 19.8 0.1 24.8 0.1 24.8 0.1 22.8 0.1 16.9 0.2 7.9 0.1 3.9 0.4 3.5 0.5 1.2 0.4-0.7 0.4-2.4 0.3-2.5 0.3-3.5 0.2-6.5 0.1-9.9 0.2-9.9 0.2-10.2 0.1-18.5 0.1-16.9 0.1-21.8 0.2-20.8 0.1-9.9 0.2-13.9 0.1-7.2 0.1-4.2 0.2-3.9 0.2-4.5 0.2-4 0.2 4 0.1 6.9 0.1 14.9 0.2 19.8 0 19.8 0.1 24.8 0.1 24.8 0.2 22.8 0.1 16.9 0.1 7.9 0.1 3.9 0.5 3.5 0.4 1.2 0.4-0.7 0.4-2.4 0.3-2.5 0.3-3.5 0.2-6.5 0.1-9.9 0.2-9.9 0.2-10.2 0.1-18.5 0.1-16.9 0.1-21.8 0.2-20.8 0.1-9.9 0.2-13.9 0.1-7.2 0.2-4.2 0.1-3.9 0.2-4.5 0.3-4 0.1 4 0.1 6.9 0.2 14.9 0.1 19.8 0.1 19.8 0 24.8 0.2 24.8 0.1 22.8 0.1 16.9 0.1 7.9 0.2 3.9 0.4 3.5 0.4 1.2 0.4-0.7 0.4-2.4 0.3-2.5 0.3-3.5 0.2-6.5 0.2-9.9 0.1-9.9 0.2-10.2 0.2-18.5 0-16.9 0.1-21.8 0.2-20.8 0.2-9.9 0.1-13.9 0.1-7.2 0.2-4.2 0.1-3.9 0.2-4.5 0.3-4 0.1 4 0.1 6.9 0.2 14.9 0.1 19.8 0.1 19.8 0.1 24.8 0.1 24.8 0.1 22.8 0.1 16.9 0.1 7.9 0.2 3.9 0.4 3.5 0.4 1.2 0.4-0.7 0.4-2.4 0.4-2.5 0.2-3.5 0.2-6.5 0.2-9.9 0.1-9.9 0.2-10.2 0.2-18.5 0.1-16.9 0.1-21.8 0.1-20.8 0.2-9.9 0.1-13.9 0.2-7.2 0.1-4.2 0.1-3.9 0.2-4.5 0.3-4 0.1 4 0.2 6.9 0.1 14.9 0.1 19.8 0.1 19.8 0.1 24.8 0.1 24.8 0.1 22.8 0.1 16.9 0.1 7.9 0.2 3.9 0.4 3.5 0.4 1.2 0.4-0.7 0.4-2.4 0.4-2.5 0.2-3.5 0.2-6.5 0.2-9.9 0.2-9.9 0.1-10.2 0.2-18.5 0.1-16.9 0.1-21.8 0.1-20.8 0.2-9.9 0.1-13.9 0.2-7.2 0.1-4.2 0.2-3.9 0.1-4.5 0.3-4 0.1 4 0.2 6.9 0.1 14.9 0.1 19.8 0.1 19.8 0.1 24.8 0.1 24.8 0.1 22.8 0.1 16.9 0.1 7.9 0.2 3.9 0.4 3.5 0.4 1.2 0.4-0.7 0.5-2.4 0.3-2.5 0.3-3.5 0.1-6.5 0.2-9.9 0.2-9.9 0.1-10.2 0.2-18.5 0.1-16.9 0.1-21.8 0.1-20.8 0.2-9.9 0.2-13.9 0.1-7.2 0.1-4.2 0.2-3.9 0.1-4.5 0.3-4 0.2 4 0.1 6.9 0.1 14.9 0.1 19.8 0.1 19.8 0.1 24.8 0.1 24.8 0.1 22.8 0.1 16.9 0.1 7.9 0.2 3.9 0.4 3.5 0.4 1.2 0.5-0.7 0.4-2.4 0.3-2.5 0.3-3.5 0.2-6.5 0.1-9.9 0.2-9.9 0.1-10.2 0.2-18.5 0.1-16.9 0.1-21.8 0.2-20.8 0.1-9.9 0.2-13.9 0.1-7.2 0.1-4.2 0.2-3.9 0.1-4.5 0.3-4 0.2 4 0.1 6.9 0.1 14.9 0.1 19.8 0.1 19.8 0.1 24.8 0.1 24.8 0.1 22.8 0.1 16.9 0.1 7.9 0.2 3.9 0.4 3.5 0.5 1.2 0.4-0.7 0.4-2.4 0.3-2.5 0.3-3.5 0.2-6.5 0.1-9.9 0.2-9.9 0.2-10.2 0.1-18.5 0.1-16.9 0.1-21.8 0.2-20.8 0.1-9.9 0.2-13.9 0.1-7.2 0.1-4.2 0.2-3.9 0.2-4.5 0.2-4 0.2 4 0.1 6.9 0.1 14.9 0.2 19.8 0 19.8 0.1 24.8 0.1 24.8 0.1 22.8 0.2 16.9 0.1 7.9 0.1 3.9 0.5 3.5 0.4 1.2 0.4-0.7 0.4-2.4 0.3-2.5 0.3-3.5 0.2-6.5 0.1-9.9 0.2-9.9 0.2-10.2 0.1-18.5 0.1-16.9 0.1-21.8 0.2-20.8 0.1-9.9 0.2-13.9 0.1-7.2 0.1-4.2 0.2-3.9 0.2-4.5 0.3-4 0.1 4 0.1 6.9 0.1 14.9 0.2 19.8 0.1 19.8 0 24.8 0.1 24.8 0.2 22.8 0.1 16.9 0.1 7.9 0.2 3.9 0.4 3.5 0.4 1.2 0.4-0.7 0.4-2.4 0.3-2.5 0.3-3.5 0.2-6.5 0.1-9.9 0.2-9.9 0.2-10.2 0.2-18.5 0-16.9 0.1-21.8 0.2-20.8 0.1-9.9 0.2-13.9 0.1-7.2 0.2-4.2 0.1-3.9 0.2-4.5 0.3-4 0.1 4 0.1 6.9 0.2 14.9 0.1 19.8 0.1 19.8 0.1 24.8 0.1 24.8 0.1 22.8 0.1 16.9 0.1 7.9 0.2 3.9 0.4 3.5 0.4 1.2 0.3-0.8 0-0.3 0.2-2.1 0.1-0.9 0.2-1.9 0.1-2.9 0.2-3.9 0.1-5 0-3.7 0.1-1.4 0.1-5.2 0.1-8.6 0.1-7.3 0-0.5 0-8.7 0.1-9.2 0.1-4.9 0.1-2.8 0-3.5 0.1-3.3 0.1-2.2 0.1-1.8 0-0.3 0.1-2 0.2-2 0.2 1.9 0.1 2.9 0 0.2 0.1 6.7 0.1 8.6 0.1 1.3 0 7.3 0.1 10.6 0.1 10.8 0 0.6 0.1 9.8 0.1 7.9 0.1 2.1 0.1 2.4 0.1 3.8 0.1 0.4 0.3 3.8 0.1 1.2 0.1 1.2 0.3 1 0.4-0.9 0-0.2 0.3-2.3 0.1-0.8 0.2-2 0.2-2.6 0.2-2.5 0.1-2.3 0.2-1.8 0-0.7 0.1-2.4 0.2-2.9 0.1-2 0-2.2 0.2-2.8 0.1-1.9 0.1-1.1 0.1-1 0.1-1.2 0.1-1 0.1-1.1 0.2-0.7 0.2-0.8 0.2 0.7 0.2 0.8 0.1 2.2 0.2 2.4 0 0.3 0.1 2 0.1 2.6 0.2 3.1 0.1 3.3 0.2 2.9 0 1.1 0.1 1.4 0.3 3.6 0 0.5 0.4 4.3 0.1 1.4 0.2 1.5 0.4 1.1 0.3-0.6 0.3-1.4 0.1-0.5 0.1-1.2 0.2-1.5 0.1-1.3 0.1-1.1 0.1-0.9 0-0.4 0.1-1.2 0.2-1.2 0-0.7 0.1-0.7 0.1-1.1 0.1-0.9 0-0.5 0.1-0.4 0.1-0.5 0.1-0.5 0.1-0.5 0.1-0.3 0.2-0.4 0.2 0.3 0.2 0.3 0.1 0.8 0.2 0.9 0.1 0.8 0.1 0.8 0.2 1.1 0.1 1.3 0.2 1.2 0 0.6 0.1 0.6 0.3 2 0 0.2 0.4 2.5 0.1 0.7 0.2 0.9 0.4 0.5 0.3-0.2 0.4-0.7 0.3-1.1 0.3-1.3 0.3-1.3 0.4-1.1 0.3-0.7 0.3-0.2 0.4 0.1 0.4 0.5 0.4 0.7 0.4 0.9 0.5 0.8 0.4 0.8 0.4 0.4 0.4 0.2 0.3-0.1 0.3-0.2 0.3-0.4 0.3-0.5 0.4-0.5 0.3-0.3 0.3-0.3 0.3-0.1 0.4 0.1 0.4 0.2 0.4 0.2 0.4 0.3 0.4 0.4 0.4 0.2 0.4 0.2 0.4 0.1 4-1.1 39.7 0 0.1-5.5 0.2-9 0.1-9 0.2-9.2 0.1-16.8 0.1-15.3 0.1-19.7 0.1-18.8 0.2-9 0.1-12.6 0.1-6.5 0.1-3.8 0.2-3.6 0.1-4 0.3-3.6 0.2 3.6 0.1 6.3 0.2 13.5 0.1 18.1 0.1 18 0.1 22.5 0.1 22.5 0.2 20.8 0.1 15.3 0.1 7.2 0.2 3.6 0.5 3.1 0.5 1.1 0.4-0.6 0.3-2.2 0.3-2.3 0.3-3.2 0.1-5.8 0.2-9 0.1-9 0.2-9.3 0.1-16.9 0.1-15.3 0.1-19.8 0.1-18.9 0.2-9 0.1-12.7 0.1-6.5 0.2-3.8 0.1-3.6 0.2-4.1 0.2-3.6 0.2 3.6 0.1 6.3 0.2 13.5 0.1 18.1 0.1 18 0.1 22.5 0.1 22.5 0.2 20.8 0.1 15.3 0.1 7.2 0.2 3.6 0.5 3.1 0.5 1.1 0.4-0.6 0.4-2.2 0.3-2.3 0.3-3.1 0.1-5.9 0.2-8.9 0.1-9 0.2-9.2 0.2-16.8 0-15.2 0.1-19.8 0.2-18.8 0.1-9 0.2-12.5 0.1-6.6 0.1-3.7 0.2-3.6 0.1-4.1 0.3-3.5 0.2 3.5 0.1 6.3 0.2 13.5 0.1 17.9 0.1 17.9 0.1 22.5 0.1 22.4 0.2 20.6 0.1 15.2 0.1 7.2 0.2 3.6 0.5 3.1 0.5 1.1 0.4-0.6 0.3-2.1 0.3-2.3 0.3-3.1 0.1-5.8 0.2-8.9 0.1-8.9 0.2-9.1 0.1-16.6 0.1-15.1 0.1-19.6 0.1-18.6 0.2-8.9 0.1-12.4 0.1-6.5 0.2-3.8 0.1-3.5 0.2-4 0.2-3.6 0.2 3.6 0.1 6.2 0.2 13.3 0.1 17.8 0.1 17.8 0.1 22.2 0.1 22.2 0.2 20.4 0.1 15.1 0.1 7.1 0.2 3.6 0.5 3.1 0.5 1 0.4-0.6 0.3-2.1 0.3-2.3 0.3-3 0.1-5.8 0.2-8.7 0.1-8.8 0.2-9 0.1-16.4 0.1-15 0.1-19.3 0.1-18.4 0.2-8.8 0.1-12.3 0.1-6.4 0.2-3.6 0.1-3.6 0.2-3.9 0.2-3.5 0.2 3.5 0.1 6.1 0.2 13.2 0.1 17.6 0.1 17.5 0.1 21.9 0.1 22 0.2 20.2 0.1 14.9 0.1 7 0.2 3.5 0.5 3.1 0.5 1 0.4-0.6 0.3-2 0.3-2.3 0.3-3 0.1-5.5 0.2-8.6 0.1-8.6 0.2-8.8 0.1-16.1 0.1-14.6 0.1-18.9 0.1-18 0.2-8.6 0.1-12 0.1-6.2 0.2-3.6 0.1-3.5 0.2-3.8 0.2-3.5 0.2 3.5 0.1 6 0.2 12.8 0.1 17.2 0.1 17.2 0.1 21.4 0.1 21.5 0.2 19.7 0.1 14.6 0.1 6.9 0.2 3.4 0.5 3 0.5 1 0.4-0.5 0.3-2 0.3-2.1 0.2-2.9 0.2-5.3 0.1-8.2 0.2-8.2 0.1-8.4 0.2-15.3 0.1-13.9 0-17.9 0.2-17.2 0.1-8.2 0.2-11.4 0.1-6 0.1-3.4 0.1-3.3 0.2-3.7 0.2-3.2 0.2 3.2 0.1 5.8 0.2 12.2 0.1 16.4 0.1 16.3 0.1 20.4 0.1 20.5 0.2 18.8 0.1 13.9 0.1 6.5 0.2 3.3 0.5 2.8 0.5 1 0.4-0.5 0.3-1.9 0.3-2 0.3-2.7 0.1-5 0.2-7.7 0.1-7.7 0.2-8 0.1-14.4 0.1-13.2 0.1-17 0.1-16.2 0.2-7.7 0.1-10.8 0.1-5.7 0.2-3.2 0.1-3.1 0.2-3.5 0.2-3.1 0.2 3.1 0.1 5.4 0.2 11.6 0.1 15.5 0.1 15.4 0.1 19.3 0.1 19.3 0.2 17.8 0.1 13.1 0.1 6.2 0.2 3.1 0.5 2.7 0.5 0.9 0.3-0.4 0.4-1.7 0.2-1.7 0.3-2.3 0.1-4.4 0.1-6.7 0.2-6.7 0.1-6.9 0.2-12.5 0-11.4 0.1-14.7 0.1-14 0.2-6.7 0.1-9.4 0.1-4.9 0.1-2.8 0.1-2.7 0.2-3 0.2-2.7 0.2 2.7 0.2 4.6 0.2 10 0.2 13.3 0.1 13.3 0.1 16.6 0.2 16.7 0.1 15.3 0.2 11.3 0.1 5.3 0.3 2.7 0.6 2.3 0.6 0.8 0.3-1 0-0.2 0.3-2.4 0.1-0.9 0.1-2.1 0.2-3.1 0.2-3.8 0.1-4.6 0.1-3.5 0-1.3 0.1-4.8 0.1-7.5 0.1-6.3 0-0.4 0.1-7.5 0.1-8 0.1-4.4 0-2.5 0.1-3 0.1-3 0.1-2 0.1-1.7 0-0.3 0.1-1.7 0.2-1.8 0.2 1.7 0.2 2.4 0 0.2 0.1 5.8 0.2 7.3 0 1 0.1 6.2 0.1 8.9 0.2 9.1 0 0.5 0.1 8.5 0.2 7 0.1 1.9 0 2.3 0.3 4.2 0 0.5 0.4 4.4 0.1 1.4 0.2 1.5 0.4 1.1 0.3-1 0.3-2.6 0-0.9 0.2-2.2 0.1-2.8 0.2-2.8 0.1-2.7 0.1-2.1 0-0.8 0.1-2.8 0.1-3.5 0.1-2.6 0-2.8 0.1-3.5 0.1-2.3 0.1-1.3 0-1.3 0.1-1.5 0.1-1.1 0.1-1.2 0.1-0.9 0.2-1 0.2 0.9 0.2 1 0.2 2.6 0.1 3 0.1 0.4 0.1 2.5 0.1 3.3 0.1 3.7 0 0.2 0.2 3.9 0.2 3.5 0 1.2 0.1 1.5 0.3 4 0 0.5 0.4 4.7 0.2 1.4 0.2 1.7 0.4 1.1 0.2-0.8 0.1-0.2 0.2-2.1 0.1-0.7 0.2-1.8 0.1-2.4 0.2-2.2 0.1-2 0.1-1.6 0-0.6 0.1-2.1 0.1-2.5 0.1-1.6 0.1-1.7 0.1-2.3 0.1-1.7 0-0.9 0.1-0.9 0.1-1 0.1-0.9 0.1-0.9 0.1-0.6 0.2-0.7 0.2 0.7 0.2 0.6 0.2 1.9 0.2 2 0 0.2 0.1 1.7 0.1 2.1 0.2 2.6 0.2 2.8 0.1 2.5 0.1 1 0.1 1.2 0.3 3.3 0 0.5 0.4 4 0.2 1.2 0.2 1.5 0.4 1 0.3-0.8 0.3-1.9 0.1-0.6 0.2-1.6 0.2-2.1 0.1-1.8 0.1-1.6 0.1-1.3 0-0.5 0.2-1.7 0.1-1.9 0-1.2 0.1-1.2 0.1-1.8 0.1-1.3 0.1-0.7 0.1-0.7 0.1-0.8 0.1-0.7 0.1-0.7 0.1-0.5 0.2-0.6 0.2 0.6 0.2 0.5 0.2 1.4 0.1 1.5 0.1 0.2 0.1 1.2 0.1 1.6 0.1 1.9 0.2 2.3 0.2 2 0 0.8 0.1 1 0.3 2.8 0 0.4 0.4 3.5 0.2 1.1 0.2 1.2 0.4 0.8 0.2-0.6 0.3-1.5 0.1-0.5 0.2-1.4 0.1-1.6 0.2-1.5 0.1-1.3 0.1-1 0-0.3 0.1-1.4 0.1-1.4 0.1-0.8 0.1-0.8 0.1-1.3 0.1-1 0-0.6 0.1-0.4 0.1-0.6 0.1-0.6 0.1-0.6 0.1-0.3 0.2-0.5 0.2 0.4 0.2 0.4 0.2 1.1 0.2 1.1 0.1 1 0.2 1.1 0.1 1.4 0.2 1.7 0.2 1.5 0.1 0.7 0 0.8 0.3 2.3 0.1 0.3 0.4 2.9 0.2 0.9 0.2 1 0.4 0.7 0.3-0.5 0.3-1.4 0.1-0.4 0.2-1.2 0.2-1.4 0.1-1.2 0.2-1.1 0.1-0.8 0-0.3 0.1-1.1 0.1-1.2 0.1-0.7 0.1-0.6 0.1-1 0.1-0.9 0.1-0.4 0-0.4 0.1-0.5 0.1-0.4 0.1-0.5 0.2-0.3 0.2-0.4 0.2 0.4 0.2 0.3 0.2 0.8 0.2 0.9 0.1 0.8 0.1 0.9 0.2 1.1 0.2 1.3 0.1 1.3 0.1 0.5 0.1 0.7 0.3 2 0 0.3 0.4 2.4 0.2 0.8 0.2 0.9 0.4 0.6 0.2-0.5 0.3-1.2 0.1-0.4 0.1-1 0.2-1.2 0.1-1.1 0.1-0.9 0.1-0.7 0-0.3 0.1-0.9 0.1-1 0.1-0.5 0-0.5 0.1-0.9 0.1-0.7 0.1-0.3 0-0.4 0.1-0.4 0.1-0.4 0-0.4 0.2-0.2 0.1-0.3 0.3 0.3 0.1 0.3 0.2 1 0.2 0.9 0.1 0.9 0.1 0.9 0.2 1.2 0.1 1.5 0.2 1.3 0 0.6 0.1 0.7 0.3 2.1 0 0.3 0.4 2.6 0.2 0.8 0.2 0.9 0.3 0.6 0.4-0.5 0.3-1.3 0.1-0.4 0.2-1 0.2-1.4 0.1-1.2 0.1-1 0.1-0.8 0.1-0.2 0.1-1.1 0.1-1.1 0.1-0.6 0.1-0.5 0.1-1 0.1-0.8 0.1-0.4 0.1-0.3 0.1-0.5 0.1-0.4 0.1-0.5 0.1-0.2 0.3-0.4 0.2 0.3 0.1 0.3 0.2 0.7 0.2 0.8 0.1 0.7 0.1 0.8 0.2 1 0.1 1.2 0.2 1.1 0.1 0.5 0 0.6 0.3 1.8 0 0.3 0.4 2.2 0.2 0.7 0.2 0.8 0.4 0.6 0.3-0.5 0.3-1.1 0.1-0.3 0.2-1 0.2-1.1 0.1-1 0.2-0.9 0.1-0.6 0-0.3 0.1-0.9 0.2-0.9 0-0.5 0.1-0.4 0.1-0.8 0.2-0.7 0-0.3 0.1-0.3 0.1-0.4 0.1-0.3 0.1-0.4 0.1-0.2 0.3-0.3 0.2 0.2 0.1 0.2 0.2 0.7 0.2 0.6 0.1 0.6 0.1 0.6 0.2 0.8 0.1 1 0.2 1 0.1 0.4 0 0.5 0.3 1.6 0 0.2 0.4 2 0.2 0.6 0.2 0.7 0.4 0.5 0.3-0.4 0.3-1 0.1-0.3 0.2-0.8 0.2-1.1 0.1-0.8 0.2-0.8 0.1-0.6 0-0.2 0.1-0.7 0.2-0.8 0-0.4 0.1-0.4 0.1-0.6 0.2-0.6 0-0.3 0.1-0.3 0.1-0.3 0.1-0.3 0.1-0.4 0.4-0.4 0.3 0.4 0.4 1.2 0.4 1.8 0.4 2.1 0.3 2 0.4 1.8 0.4 1.2 0.4 0.4 0.3-0.4 0.4-1.1 0.4-1.7 0.4-2 0.4-2 0.3-1.6 0.4-1.2 0.4-0.4 0.4 0.4 0.3 1.1 0.4 1.6 0.4 1.9 0.4 1.9 0.3 1.5 0.4 1.1 0.4 0.4 0.4-0.4 0.3-1 0.4-1.5 0.4-1.8 0.4-1.8 0.3-1.5 0.4-1 0.4-0.4 0.4 0.4 0.3 0.9 0.4 1.5 0.4 1.7 0.4 1.7 0.3 1.4 0.4 1 0.4 0.3 0.4-0.3 0.3-0.9 0.4-1.4 0.4-1.6 0.4-1.6 0.3-1.4 0.4-0.9 0.4-0.3 0.4 0.3 0.3 0.8 0.4 1.4 0.4 1.5 0.4 1.5 0.3 1.4 0.4 0.8 0.4 0.3 0.4-0.3 0.4-0.8 0.3-1.3 0.4-1.5 0.4-1.5 0.4-1.3 0.3-0.8 0.4-0.3 0.4 0.3 0.4 0.8 0.3 1.3 0.4 1.5 0.4 1.4 0.4 1.3 0.3 0.8 0.4 0.3 0.4-0.3 0.4-0.8 0.3-1.2 0.4-1.5 0.4-1.4 0.4-1.3 0.3-0.8 0.4-0.3 0.4 0.3 0.4 0.8 0.3 1.2 0.4 1.5 0.4 1.4 0.4 1.2 0.3 0.9 0.4 0.2 0.4-0.2 0.4-0.9 0.3-1.2 0.4-1.4 0.4-1.4 0.4-1.2 0.3-0.8 0.4-0.3 0.4 0.3 0.4 0.8 0.3 1.2 0.4 1.4 0.4 1.4 0.4 1.2 0.4 0.8 0.3 0.2 0.4-0.2 0.4-0.8 0.4-1.2 0.3-1.4 0.4-1.4 0.4-1.1 0.4-0.8 0.3-0.3 0.4 0.3 0.4 0.7 0.4 1.2 0.3 1.4 0.4 1.3 0.4 1.2 0.4 0.8 0.3 0.2 0.4-0.2 0.4-0.8 0.4-1.1 0.3-1.4 0.4-1.3 0.4-1.2 0.4-0.7 0.3-0.3 0.4 0.3 0.4 0.7 0.4 1.1 0.3 1.4 0.4 1.3 0.4 1.1 0.4 0.8 0.3 0.2 0.4-0.2 0.4-0.8 0.4-1.1 0.3-1.3 0.4-1.3 0.4-1.1 0.4-0.8 0.3-0.2 0.4 0.2 0.4 0.8 0.4 1.1 0.4 1.3 0.3 1.3 0.4 1.1 0.4 0.7 0.4 0.3 0.3-0.3 0.4-0.7 0.4-1.1 0.4-1.3 0.3-1.3 0.4-1.1 0.4-0.7 0.4-0.2 0.3 0.2 0.4 0.7 0.4 1.1 0.4 1.3 0.3 1.2 0.4 1.1 0.4 0.7 0.4 0.3 0.3-0.3 0.4-0.7 0.4-1 0.4-1.3 0.3-1.2 0.4-1.1 0.4-0.7 0.4-0.2 0.3 0.2 0.4 0.7 0.4 1 0.4 1.3 0.3 1.2 0.4 1 0.4 0.7 0.4 0.3 0.3-0.3 0.4-0.6 0.4-1.1 0.4-1.2 0.3-1.2 0.4-1 0.4-0.7 0.4-0.3 0.4 0.3 0.3 0.7 0.4 1 0.4 1.2 0.4 1.2 0.3 1 0.4 0.7 0.4 0.2 0.4-0.2 0.3-0.7 0.4-1 0.4-1.2 0.4-1.2 0.3-1 0.4-0.6 0.4-0.3 0.4 0.3 0.3 0.6 0.4 1 0.4 1.2 0.4 1.1 0.3 1 0.4 0.7 0.4 0.2 0.4-0.2 0.3-0.7 0.4-0.9 0.4-1.2 0.4-1.1 0.3-1 0.4-0.7 0.4-0.2 0.4 0.2 0.3 0.7 0.4 0.9 0.4 1.2 0.4 1.1 0.3 1 0.4 0.6 0.4 0.2 0.4-0.2 0.4-0.6 0.3-1 0.4-1.1 0.4-1.1 0.4-1 0.3-0.6 0.4-0.2 0.4 0.2 0.4 0.6 0.3 1 0.4 1.1 0.4 1.1 0.4 0.9 0.3 0.6 0.4 0.3 0.4-0.3 0.4-0.6 0.3-0.9 0.4-1.1 0.4-1.1 0.4-0.9 0.3-0.6 0.4-0.2 0.4 0.2 0.4 0.6 0.3 0.9 0.4 1.1 0.4 1 0.4 1 0.3 0.6 0.4 0.2 0.4-0.3 0.4-0.7 0.3-1.2 0.4-1.3 0.4-1.3 0.4-1.2 0.3-0.7 0.4-0.3 0.4 0.3 0.4 0.9 0.3 1.4 0.4 1.6 0.4 1.5 0.4 1.4 0.4 0.9 0.3 0.3 0.4-0.3 0.4-0.9 0.4-1.3 0.3-1.6 0.4-1.6 0.4-1.3 0.4-0.9 0.3-0.3 0.4 0.3 0.4 0.9 0.4 1.3 0.3 1.5 0.4 1.6 0.4 1.3 0.4 0.9 0.3 0.3 0.4-0.3 0.4-0.9 0.4-1.3 0.3-1.5 0.4-1.5 0.4-1.3 0.4-0.9 0.3-0.3 0.4 0.3 0.4 0.9 0.4 1.2 0.3 1.5 0.4 1.5 0.4 1.3 0.4 0.8 0.3 0.3 0.4-0.3 0.4-0.8 0.4-1.3 0.3-1.4 0.4-1.5 0.4-1.2 0.4-0.9 0.3-0.3 0.4 0.3 0.4 0.8 0.4 1.3 0.4 1.4 0.3 1.4 0.4 1.3 0.4 0.8 0.4 0.3 0.3-0.3 0.4-0.8 0.4-1.2 0.4-1.4 0.3-1.5 0.4-1.2 0.4-0.8 0.4-0.3 0.3 0.3 0.4 0.8 0.4 1.2 0.4 1.4 0.3 1.4 0.4 1.2 0.4 0.8 0.4 0.2 0.3-0.2 0.4-0.8 0.4-1.2 0.4-1.4 0.3-1.3 0.4-1.2 0.4-0.8 0.4-0.3 0.3 0.3 0.4 0.8 0.4 1.1 0.4 1.4 0.3 1.3 0.4 1.2 0.4 0.7 0.4 0.3 0.3-0.3 0.4-0.7 0.4-1.1 0.4-1.4 0.3-1.3 0.4-1.1 0.4-0.8 0.4-0.3 0.4 0.3 0.3 0.7 0.4 1.1 0.4 1.4 0.4 1.3 0.3 1.1 0.4 0.7 0.4 0.3 0.4-0.3 0.3-0.7 0.4-1.1 0.4-1.3 0.4-1.3 0.3-1.1 0.4-0.7 0.4-0.3 0.4 0.3 0.3 0.7 0.4 1.1 0.4 1.2 0.4 1.3 0.3 1.1 0.4 0.7 0.4 0.3 0.4-0.3 0.3-0.7 0.4-1.1 0.4-1.2 0.4-1.3 0.3-1 0.4-0.7 0.4-0.3 0.4 0.3 0.3 0.7 0.4 1 0.4 1.2 0.4 1.3 0.3 1 0.4 0.7 0.4 0.2 0.4-0.2 0.3-0.7 0.4-1 0.4-1.2 0.4-1.2 0.4-1.1 0.3-0.7 0.4-0.2 0.4 0.2 0.4 0.7 0.3 1 0.4 1.2 0.4 1.2 0.4 1 0.3 0.7 0.4 0.2 0.4-0.2 0.4-0.7 0.3-1 0.4-1.1 0.4-1.2 0.4-1 0.3-0.7 0.4-0.2 0.4 0.2 0.4 0.7 0.3 0.9 0.4 1.2 0.4 1.2 0.4 0.9 0.3 0.7 0.4 0.2 0.4-0.2 0.4-0.7 0.3-0.9 0.4-1.2 0.4-1.1 0.4-1 0.3-0.6 0.4-0.2 0.4 0.2 0.4 0.6 0.3 1 0.4 1.1 0.4 1.1 0.4 1 0.3 0.6 0.4 0.2 0.4-0.2 0.4-0.6 0.4-1 0.3-1.1 0.4-1.1 0.4-0.9 0.4-0.7 0.3-0.2 0.4 0.2 0.4 0.7 0.4 0.9 0.3 1.1 0.4 1.1 0.4 0.9 0.4 0.6 0.3 0.2 0.4-0.2 0.4-0.6 0.4-0.9 0.3-1.1 0.4-1.1 0.4-0.9 0.4-0.6 0.3-0.2 0.4 0.2 0.4 0.6 0.4 0.9 0.3 1.1 0.4 1 0.4 0.9 0.4 0.6 0.3 0.2 0.4-0.2 0.4-0.6 0.4-0.9 0.3-1 0.4-1.1 0.4-0.8 0.4-0.6 0.3-0.2 0.4 0.2 0.4 0.5 0.4 0.9 0.3 1 0.4 1.1 0.4 0.8 0.4 0.6 0.4 0.2 0.3-0.2 0.4-0.6 0.4-0.8 0.4-1 0.3-1 0.4-0.9 0.4-0.6 0.4-0.2 0.3 0.2 0.4 0.6 0.4 0.8 0.4 1 0.3 1 0.4 0.9 0.4 0.5 0.4 0.2 0.3-0.2 0.4-0.5 0.4-0.9 0.4-0.9 0.3-1 0.4-0.9 0.4-0.5 0.4-0.2 0.3 0.2 0.4 0.5 0.4 0.8 0.4 1 0.3 1 0.4 0.8 0.4 0.5 0.4 0.2 0.3-0.2 0.4-0.5 0.4-0.8 0.4-1 0.3-0.9 0.4-0.8 0.4-0.6 0.4-0.2 0.3 0.2 0.4 0.6 0.4 0.8 0.4 0.9 0.4 0.9 0.3 0.8 0.4 0.5 0.4 0.2 0.4-0.2 0.3-0.5 0.4-0.8 0.4-0.9 0.4-0.9 0.3-0.8 0.4-0.5 0.4-0.2 0.4 0.2 0.3 0.5 0.4 0.8 0.4 0.9 0.4 0.9 0.3 0.7 0.4 0.6 0.4 0.1 0.4-0.1 0.3-0.5 0.4-0.8 0.4-0.9 0.4-0.9 0.3-0.8 0.4-0.5 0.4-0.1 0.4 0.1 0.3 0.5 0.4 0.8 0.4 0.9 0.4 0.8 0.3 0.8 0.4 0.5 0.4 0.2 0.4-0.2 0.3-0.5 0.4-0.7 0.4-0.9 0.4-0.9 0.4-0.7 0.3-0.5 0.4-0.2 0.4 0.2 0.4 0.5 0.3 0.7 0.4 0.8 0.4 0.9 0.4 0.7 0.3 0.5 0.4 0.2 0.4-0.2 0.4-0.5 0.3-0.7 0.4-0.8 0.4-0.9 0.4-0.7 0.3-0.5 0.4-0.1 0.4 0.1 0.4 0.5 0.3 0.7 0.4 0.8 0.4 0.9 0.4 0.7 0.3 0.4 0.4 0.2 0.4-0.2 0.4-0.4 0.3-0.7 0.4-0.9 0.4-0.8 0.4-0.7 0.3-0.4 0.4-0.2 0.4 0.2 0.4 0.4 0.3 0.7 0.4 0.8 0.4 0.8 0.4 0.7 0.3 0.4 0.4 0.2 0.4-0.2 0.4-0.4 0.4-0.7 0.3-0.8 0.4-0.8 0.4-0.6 0.4-0.5 0.3-0.1 0.4 0.1 0.4 0.5 0.4 0.6 0.3 0.8 0.4 0.8 0.4 0.6 0.4 0.5 0.3 0.1 0.4-0.1 0.4-0.5 0.4-0.6 0.3-0.8 0.4-0.8 0.4-0.6 0.4-0.4 0.3-0.2 0.4 0.2 0.4 0.4 0.4 0.6 0.3 0.8 0.4 0.7 0.4 0.7 0.4 0.4 0.3 0.2 0.4-0.2 0.4-0.4 0.4-0.7 0.3-0.7 0.4-0.7 0.4-0.7 0.4-0.4 0.3-0.2 0.4 0.2 0.4 0.4 0.4 0.6 0.3 0.8 0.4 0.7 0.4 0.6 0.4 0.4 0.4 0.2 0.3-0.2 0.4-0.4 0.4-0.6 0.4-0.7 0.3-0.7 0.4-0.7 0.4-0.4 0.4-0.1 0.3 0.1 0.4 0.4 0.4 0.6 0.4 0.7 0.3 0.8 0.4 0.6 0.4 0.4 0.4 0.1 0.3-0.1 0.4-0.4 0.4-0.6 0.4-0.7 0.3-0.7 0.4-0.6 0.4-0.4 0.4-0.2 0.3 0.2 0.4 0.4 0.4 0.5 0.4 0.7 0.3 0.7 0.4 0.6 0.4 0.4 0.4 0.1 0.3-0.1 0.4-0.4 0.4-0.6 0.4-0.7 0.3-0.6 0.4-0.6 0.4-0.4 0.4-0.1 0.3 0.1 0.4 0.4 0.4 0.5 0.4 0.7 0.4 0.7 0.3 0.5 0.4 0.4 0.4 0.2 0.4-0.2 0.3-0.3 0.4-0.6 0.4-0.7 0.4-0.6 0.3-0.6 0.4-0.4 0.4-0.1 0.4 0.1 0.3 0.4 0.4 0.5 0.4 0.7 0.4 0.6 0.3 0.6 0.4 0.4 0.4 0.1 0.4-0.1 0.3-0.4 0.4-0.5 0.4-0.7 0.4-0.6 0.3-0.6 0.4-0.3 0.4-0.2 0.4 0.2 0.3 0.3 0.4 0.6 0.4 0.6 0.4 0.6 0.3 0.5 0.4 0.4 0.4 0.1 0.4-0.1 0.3-0.4 0.4-0.5 0.4-0.6 0.4-0.6 0.3-0.6 0.4-0.3 0.4-0.1 0.4 0.1 0.4 0.3 0.3 0.6 0.4 0.6 0.4 0.6 0.4 0.5 0.3 0.3 0.4 0.2 0.4-0.2 0.4-0.3 0.3-0.5 0.4-0.6 0.4-0.6 0.4-0.5 0.3-0.4 0.4-0.1 0.4 0.1 0.4 0.4 0.3 0.5 0.4 0.5 0.4 0.6 0.4 0.5 0.3 0.4 0.4 0.1 0.4-0.1 0.4-0.4 0.3-0.4 0.4-0.6 0.4-0.6 0.4-0.5 0.3-0.4 0.4-0.1 0.4 0.1 0.4 0.4 0.3 0.5 0.4 0.5 0.4 0.6 0.4 0.5 0.3 0.3 0.4 0.1 0.4-0.1 0.4-0.3 0.3-0.5 0.4-0.6 0.4-0.5 0.4-0.5 0.4-0.3 0.3-0.1 0.2 0.3 0.2 0.2 0.2 0.8 0.2 0.8 0.1 0.7 0.1 0.8 0.1 0.9 0.2 1.3 0.1 1.1 0.1 0.5 0.1 0.6 0.2 1.8 0.1 0.3 0.4 2.3 0.1 0.6 0.2 0.9 0.4 0.5 0.3-0.9 0.4-2.3 0.1-0.7 0.1-1.9 0.3-2.4 0.1-2.3 0.1-2.1 0.1-1.6 0.1-0.6 0.1-2.2 0.2-2.5 0-1.8 0.1-1.8 0.1-2.4 0.2-1.7 0-1 0.1-0.9 0.1-1 0.1-0.9 0.1-0.9 0.2-0.7 0.2-0.7 0.2 0.6 0.1 0.7 0.1 2 0.1 2 0 0.3 0.1 1.7 0.1 2.2 0.1 2.7 0.1 2.9 0.1 2.6 0.1 1.1 0.1 1.2 0.1 3.3 0.1 0.5 0.3 4.1 0.1 1.2 0.1 1.5 0.3 1 0.4-0.5 0.4-1.2 0.1-0.4 0.2-1 0.2-1.3 0.2-1.1 0.1-0.9 0.1-0.7 0.1-0.3 0.1-1 0.2-1 0.1-0.5 0.1-0.6 0.1-0.8 0.2-0.8 0-0.3 0.1-0.4 0.1-0.4 0.1-0.4 0.2-0.4 0.1-0.3 0.3-0.3 0.2 0.3 0.1 0.2 0.2 0.6 0.1 0.7 0.1 0.6 0.1 0.6 0.2 0.8 0.1 1.1 0.1 0.9 0.1 0.5 0.1 0.5 0.2 1.6 0 0.2 0.4 2 0.1 0.6 0.2 0.7 0.3 0.5 0.3-0.2 0.3-0.5 0.4-0.8 0.3-0.9 0.3-0.9 0.4-0.8 0.3-0.5 0.3-0.2 0.4 0.1 0.4 0.4 0.4 0.6 0.3 0.7 0.4 0.6 0.4 0.6 0.4 0.4 0.4 0.1 0.4-0.1 0.4-0.2 0.4-0.4 0.3-0.4 0.4-0.4 0.4-0.4 0.4-0.2 0.4-0.1 0.3 0 0.4 0.2 0.3 0.2 0.3 0.2 0.4 0.3 0.3 0.2 0.4 0.1 0.3 0.1 2.5-0.4 49.2 0"/></g><g clip-path="url(#ci)" fill="none" stroke-width="2.5" stroke-linejoin="round" stroke-linecap="square"><path stroke="#0072B2" d="M1122.3 73.8l5.4 1.1 1.3 0.5 2.1 3 2 3.2 3.5 5.3 2.4 5.2 1.1 9.4 1.4 11.7 1.6 16.4 1.6 21.1 1.7 26.3 1.2 23.5 1.1 25.2 1.2 35.1 1.3 35.2 1.7 39.9 1.4 35.1 1.2 35.2 0.6 16.7 1.2 21.9 1.4 17.7 1.8 11.7 1.9 5.9 2.2-5.9 1.8-14.6 1.1-14.8 0.9-22.9 0.6-19 0.6-32.1 0.7-35 0.9-35.1 1.2-40.1 1.4-35 1-35.1 0.9-40 1.4-26.2 0.9-26.4 1.1-14.1 1.8-1.8 1.7-0.6 2.9-5.9 3-1.4 5.4-0.3 5.4 1.1 1.4 0.5 2 3 2.1 3.2 3.5 5.3 2.4 5.2 1.1 9.4 1.4 11.7 1.6 16.4 1.5 21.1 1.7 26.3 1.2 23.5 1.1 25.2 1.2 35.1 1.3 35.2 1.7 39.9 1.4 35.1 1.2 35.2 0.6 16.7 1.2 21.9 1.4 17.7 1.8 11.7 2 5.9 2.2-5.9 1.8-14.6 1.1-14.8 0.9-22.9 0.6-19 0.6-32.1 0.7-35 0.9-35.1 1.2-40.1 1.4-35 1-35.1 0.9-40 1.4-26.2 0.9-26.4 1.1-14.1 1.8-1.8 1.7-0.6 2.9-5.9 3-1.4 5.4-0.3 5.4 1.1 1.3 0.5 2.1 3 2 3.2 3.5 5.3 2.4 5.2 1.1 9.4 1.5 11.7 1.6 16.4 1.5 21.1 1.7 26.3 1.2 23.5 1.1 25.2 1.2 35.1 1.3 35.2 1.7 39.9 1.4 35.1 1.2 35.2 0.6 16.7 1.2 21.9 1.4 17.7 1.8 11.7 2 5.9 2.2-5.9 1.8-14.6 1.1-14.8 0.9-22.9 0.6-19 0.6-32.1 0.7-35 0.9-35.1 1.2-40.1 1.4-35 1-35.1 0.9-40 1.4-26.2 0.9-26.4 1.1-14.1 1.8-1.8 1.7-0.6 2.9-5.9 3-1.4 5.4-0.3 5.4 1.1 1.3 0.5 2.1 3 2 3.2 3.5 5.3 2.4 5.2 1.1 9.4 1.4 11.7 1.6 16.4 1.6 21.1 1.7 26.3 1.2 23.5 1.1 25.2 1.2 35.1 1.3 35.2 1.7 39.9 1.4 35.1 1.2 35.2 0.6 16.7 1.2 21.9"/><path stroke="#D55E00" d="M1159.1 449.53H1336.6"/><path stroke="#C4B817" d="M1125.8 426.0l5-2.4 4-2.6 3.3-3.5 2.2-6.5 1.9-10.1 2.1-10 2-10.3 2-18.8 1.1-17 1.1-22.1 2-21 1.8-10.1 2-14 1.5-7.3 1.5-4.2 2-4 2-4.6 3.3-4 1.8 4 1.5 7.1 1.5 15 1.5 20.1 1 20 1 25.1 1.3 25 1.4 23.1 1.3 17.1 1.3 8 2.2 4 5 3.5 5 1.2 5-0.7 5-2.4 4-2.6 3.3-3.5 2.2-6.5 1.9-10.1 2.1-10 2-10.3 2-18.8 1.1-17 1.1-22.1 2-21 1.8-10.1 2-14 1.5-7.3 1.5-4.2 2-4 2-4.6 3.4-4 1.8 4 1.5 7.1 1.5 15 1.5 20.1 1 20 1 25.1 1.3 25 1.4 23.1 1.3 17.1 1.3 8 2.2 4 5 3.5 5 1.2 5-0.7 5-2.4 4-2.6 3.3-3.5 2.2-6.5 1.9-10.1 2.1-10 2-10.3 2-18.8 1.1-17 1.1-22.1 2-21 1.8-10.1 2-14 1.5-7.3 1.5-4.2 2-4 2-4.6 3.4-4 1.8 4 1.4 7.1 1.5 15 1.5 20.1 1 20 1 25.1 1.3 25 1.4 23.1 1.3 17.1 1.3 8 2.2 4 5 3.5 5 1.2 5-0.7 5-2.4 4.1-2.6 3.3-3.5 2.2-6.5 1.9-10.1 2.1-10 2-10.3 2-18.8 1.1-17 1.1-22.1 2-21 1.8-10.1 2-14 1.5-7.3"/></g><rect x="102.45" y="48.8" width="1003.75" height="555.6" fill="none" stroke="#000" stroke-width="1.33"/><rect x="1164.5" y="48.8" width="167" height="555.6" fill="none" stroke="#000" stroke-width="1.33"/><path d="M96.45 579.5h6M1158.5 579.5h6M96.45 505.5h6M1158.5 505.5h6M96.45 431.5h6M1158.5 431.5h6M96.45 356.5h6M1158.5 356.5h6M96.45 282.5h6M1158.5 282.5h6M96.45 208.5h6M1158.5 208.5h6M96.45 134.5h6M1158.5 134.5h6M96.45 60.5h6M1158.5 60.5h6M102.5 604.4v6M240.5 604.4v6M379.5 604.4v6M517.5 604.4v6M656.5 604.4v6M794.5 604.4v6M933.5 604.4v6M1071.5 604.4v6M1164.5 604.4v6M1248 604.4v6M1331.5 604.4v6" stroke="#000" stroke-width="1.33" fill="none"/><g fill="#000" stroke="#000" stroke-width="0.3" style="font-family:'Liberation Sans',sans-serif;font-kerning:none;opacity:0.999"><text x="39.02" y="592.1" font-size="35.16" textLength="19.54" lengthAdjust="spacingAndGlyphs">0</text><text x="59.67" y="592.1" font-size="35.16" textLength="10.02" lengthAdjust="spacingAndGlyphs">.</text><text x="70.82" y="592.1" font-size="35.16" textLength="19.54" lengthAdjust="spacingAndGlyphs">0</text><text x="39.02" y="518" font-size="35.16" textLength="19.54" lengthAdjust="spacingAndGlyphs">0</text><text x="59.67" y="518" font-size="35.16" textLength="10.02" lengthAdjust="spacingAndGlyphs">.</text><text x="70.73" y="518" font-size="35.16" textLength="18.83" lengthAdjust="spacingAndGlyphs">2</text><text x="39.02" y="443.9" font-size="35.16" textLength="19.54" lengthAdjust="spacingAndGlyphs">0</text><text x="59.67" y="443.9" font-size="35.16" textLength="10.02" lengthAdjust="spacingAndGlyphs">.</text><text x="70.82" y="443.9" font-size="35.16" textLength="19.54" lengthAdjust="spacingAndGlyphs">4</text><text x="39.02" y="369.8" font-size="35.16" textLength="19.54" lengthAdjust="spacingAndGlyphs">0</text><text x="59.67" y="369.8" font-size="35.16" textLength="10.02" lengthAdjust="spacingAndGlyphs">.</text><text x="70.48" y="369.8" font-size="35.16" textLength="20.22" lengthAdjust="spacingAndGlyphs">6</text><text x="39.02" y="295.7" font-size="35.16" textLength="19.54" lengthAdjust="spacingAndGlyphs">0</text><text x="59.67" y="295.7" font-size="35.16" textLength="10.02" lengthAdjust="spacingAndGlyphs">.</text><text x="70.71" y="295.7" font-size="35.16" textLength="19.75" lengthAdjust="spacingAndGlyphs">8</text><text x="39.3" y="221.6" font-size="35.16" textLength="18.66" lengthAdjust="spacingAndGlyphs">1</text><text x="59.67" y="221.6" font-size="35.16" textLength="10.02" lengthAdjust="spacingAndGlyphs">.</text><text x="70.82" y="221.6" font-size="35.16" textLength="19.54" lengthAdjust="spacingAndGlyphs">0</text><text x="39.3" y="147.5" font-size="35.16" textLength="18.66" lengthAdjust="spacingAndGlyphs">1</text><text x="59.67" y="147.5" font-size="35.16" textLength="10.02" lengthAdjust="spacingAndGlyphs">.</text><text x="70.73" y="147.5" font-size="35.16" textLength="18.83" lengthAdjust="spacingAndGlyphs">2</text><text x="39.3" y="73.4" font-size="35.16" textLength="18.66" lengthAdjust="spacingAndGlyphs">1</text><text x="59.67" y="73.4" font-size="35.16" textLength="10.02" lengthAdjust="spacingAndGlyphs">.</text><text x="70.82" y="73.4" font-size="35.16" textLength="19.54" lengthAdjust="spacingAndGlyphs">4</text><text x="92.67" y="641.1" font-size="35.16" textLength="19.54" lengthAdjust="spacingAndGlyphs">0</text><text x="220.44" y="641.1" font-size="35.16" textLength="18.83" lengthAdjust="spacingAndGlyphs">2</text><text x="241.73" y="641.1" font-size="35.16" textLength="19.54" lengthAdjust="spacingAndGlyphs">0</text><text x="358.98" y="641.1" font-size="35.16" textLength="19.54" lengthAdjust="spacingAndGlyphs">4</text><text x="380.19" y="641.1" font-size="35.16" textLength="19.54" lengthAdjust="spacingAndGlyphs">0</text><text x="497.09" y="641.1" font-size="35.16" textLength="20.22" lengthAdjust="spacingAndGlyphs">6</text><text x="518.64" y="641.1" font-size="35.16" textLength="19.54" lengthAdjust="spacingAndGlyphs">0</text><text x="635.79" y="641.1" font-size="35.16" textLength="19.75" lengthAdjust="spacingAndGlyphs">8</text><text x="657.1" y="641.1" font-size="35.16" textLength="19.54" lengthAdjust="spacingAndGlyphs">0</text><text x="764.03" y="641.1" font-size="35.16" textLength="18.66" lengthAdjust="spacingAndGlyphs">1</text><text x="784.95" y="641.1" font-size="35.16" textLength="19.54" lengthAdjust="spacingAndGlyphs">0</text><text x="806.16" y="641.1" font-size="35.16" textLength="19.54" lengthAdjust="spacingAndGlyphs">0</text><text x="902.48" y="641.1" font-size="35.16" textLength="18.66" lengthAdjust="spacingAndGlyphs">1</text><text x="923.32" y="641.1" font-size="35.16" textLength="18.83" lengthAdjust="spacingAndGlyphs">2</text><text x="944.61" y="641.1" font-size="35.16" textLength="19.54" lengthAdjust="spacingAndGlyphs">0</text><text x="1040.94" y="641.1" font-size="35.16" textLength="18.66" lengthAdjust="spacingAndGlyphs">1</text><text x="1061.86" y="641.1" font-size="35.16" textLength="19.54" lengthAdjust="spacingAndGlyphs">4</text><text x="1083.07" y="641.1" font-size="35.16" textLength="19.54" lengthAdjust="spacingAndGlyphs">0</text><text x="1143.63" y="641.1" font-size="35.16" textLength="18.83" lengthAdjust="spacingAndGlyphs">2</text><text x="1165.34" y="641.1" font-size="35.16" textLength="18.44" lengthAdjust="spacingAndGlyphs">5</text><text x="1227.38" y="641.1" font-size="35.16" textLength="18.83" lengthAdjust="spacingAndGlyphs">2</text><text x="1248.33" y="641.1" font-size="35.16" textLength="20.22" lengthAdjust="spacingAndGlyphs">6</text><text x="1311.13" y="641.1" font-size="35.16" textLength="18.83" lengthAdjust="spacingAndGlyphs">2</text><text x="1332.57" y="641.1" font-size="35.16" textLength="19.11" lengthAdjust="spacingAndGlyphs">7</text><text x="526.09" y="679.8" font-size="35.16" textLength="21.93" lengthAdjust="spacingAndGlyphs">T</text><text x="546.97" y="679.8" font-size="35.16" textLength="7.48" lengthAdjust="spacingAndGlyphs">i</text><text x="555.76" y="679.8" font-size="35.16" textLength="31.24" lengthAdjust="spacingAndGlyphs">m</text><text x="587.63" y="679.8" font-size="35.16" textLength="19.77" lengthAdjust="spacingAndGlyphs">e</text><text x="619.14" y="679.8" font-size="35.16" textLength="9.27" lengthAdjust="spacingAndGlyphs">(</text><text x="631.51" y="679.8" font-size="35.16" textLength="19.74" lengthAdjust="spacingAndGlyphs">n</text><text x="652.64" y="679.8" font-size="35.16" textLength="15.78" lengthAdjust="spacingAndGlyphs">s</text><text x="671.36" y="679.8" font-size="35.16" textLength="9.27" lengthAdjust="spacingAndGlyphs">)</text><g transform="translate(25.1 0) rotate(-90)"><text x="-426.09" y="0" font-size="35.16" textLength="19.43" lengthAdjust="spacingAndGlyphs">P</text><text x="-407.71" y="0" font-size="35.16" textLength="19.47" lengthAdjust="spacingAndGlyphs">o</text><text x="-386.48" y="0" font-size="35.16" textLength="24.04" lengthAdjust="spacingAndGlyphs">w</text><text x="-360.67" y="0" font-size="35.16" textLength="19.78" lengthAdjust="spacingAndGlyphs">e</text><text x="-340.53" y="0" font-size="35.16" textLength="14.05" lengthAdjust="spacingAndGlyphs">r</text><text x="-315.61" y="0" font-size="35.16" textLength="9.27" lengthAdjust="spacingAndGlyphs">(</text><text x="-303.36" y="0" font-size="35.16" textLength="31.26" lengthAdjust="spacingAndGlyphs">m</text><text x="-270.83" y="0" font-size="35.16" textLength="30.65" lengthAdjust="spacingAndGlyphs">W</text><text x="-236.74" y="0" font-size="35.16" textLength="9.27" lengthAdjust="spacingAndGlyphs">)</text></g></g><rect x="805.2" y="157.5" width="228" height="168.8" rx="4.6" ry="4.6" fill="#fff" fill-opacity="0.8" stroke="#ccc" stroke-opacity="0.8" stroke-width="1.667"/><g fill="none" stroke-width="2.5" stroke-linecap="square"><path stroke="#0072B2" d="M836.2 223.7H889.5"/><path stroke="#D55E00" d="M836.2 262.3H889.5"/><path stroke="#C4B817" d="M836.2 301H889.5"/></g><g fill="#000" stroke="#000" stroke-width="0.3" style="font-family:'Liberation Sans',sans-serif;font-kerning:none;opacity:0.999"><text x="816" y="193.2" font-size="35.16" textLength="19.51" lengthAdjust="spacingAndGlyphs">P</text><text x="834.6" y="193.2" font-size="35.16" textLength="19.83" lengthAdjust="spacingAndGlyphs">u</text><text x="855.57" y="193.2" font-size="35.16" textLength="31.39" lengthAdjust="spacingAndGlyphs">m</text><text x="887.98" y="193.2" font-size="35.16" textLength="20.01" lengthAdjust="spacingAndGlyphs">p</text><text x="909.72" y="193.2" font-size="35.16" textLength="24.89" lengthAdjust="spacingAndGlyphs">=</text><text x="936.74" y="193.2" font-size="35.16" textLength="18.69" lengthAdjust="spacingAndGlyphs">2</text><text x="957.55" y="193.2" font-size="35.16" textLength="31.39" lengthAdjust="spacingAndGlyphs">m</text><text x="990.23" y="193.2" font-size="35.16" textLength="30.78" lengthAdjust="spacingAndGlyphs">W</text><text x="909.86" y="233.3" font-size="28.17" textLength="20.39" lengthAdjust="spacingAndGlyphs">O</text><text x="930.88" y="233.3" font-size="28.17" textLength="15.9" lengthAdjust="spacingAndGlyphs">u</text><text x="947.47" y="233.3" font-size="28.17" textLength="9.85" lengthAdjust="spacingAndGlyphs">t</text><text x="958.24" y="233.3" font-size="28.17" textLength="16.05" lengthAdjust="spacingAndGlyphs">p</text><text x="974.92" y="233.3" font-size="28.17" textLength="15.9" lengthAdjust="spacingAndGlyphs">u</text><text x="991.51" y="233.3" font-size="28.17" textLength="9.85" lengthAdjust="spacingAndGlyphs">t</text><text x="909.39" y="271.5" font-size="28.17" textLength="7.87" lengthAdjust="spacingAndGlyphs">I</text><text x="917.79" y="271.5" font-size="28.17" textLength="16.06" lengthAdjust="spacingAndGlyphs">n</text><text x="934.81" y="271.5" font-size="28.17" textLength="16.21" lengthAdjust="spacingAndGlyphs">p</text><text x="951.66" y="271.5" font-size="28.17" textLength="16.06" lengthAdjust="spacingAndGlyphs">u</text><text x="968.41" y="271.5" font-size="28.17" textLength="9.95" lengthAdjust="spacingAndGlyphs">t</text><text x="909.94" y="310.7" font-size="28.17" textLength="19.92" lengthAdjust="spacingAndGlyphs">D</text><text x="930.64" y="310.7" font-size="28.17" textLength="18.42" lengthAdjust="spacingAndGlyphs">R</text><text x="948.89" y="310.7" font-size="28.17" textLength="20.5" lengthAdjust="spacingAndGlyphs">O</text><text x="970.31" y="310.7" font-size="28.17" textLength="15.73" lengthAdjust="spacingAndGlyphs">P</text><text x="358.89" y="512.7" font-size="35.16" textLength="24.7" lengthAdjust="spacingAndGlyphs">D</text><text x="384.21" y="512.7" font-size="35.16" textLength="19.86" lengthAdjust="spacingAndGlyphs">e</text><text x="404.66" y="512.7" font-size="35.16" textLength="16.58" lengthAdjust="spacingAndGlyphs">c</text><text x="422.61" y="512.7" font-size="35.16" textLength="14.1" lengthAdjust="spacingAndGlyphs">r</text><text x="435.32" y="512.7" font-size="35.16" textLength="19.86" lengthAdjust="spacingAndGlyphs">e</text><text x="456.07" y="512.7" font-size="35.16" textLength="16.53" lengthAdjust="spacingAndGlyphs">a</text><text x="476.51" y="512.7" font-size="35.16" textLength="15.84" lengthAdjust="spacingAndGlyphs">s</text><text x="493.13" y="512.7" font-size="35.16" textLength="19.86" lengthAdjust="spacingAndGlyphs">e</text><text x="358.77" y="549.8" font-size="35.16" textLength="20.07" lengthAdjust="spacingAndGlyphs">p</text><text x="379.49" y="549.8" font-size="35.16" textLength="19.61" lengthAdjust="spacingAndGlyphs">o</text><text x="400.87" y="549.8" font-size="35.16" textLength="24.21" lengthAdjust="spacingAndGlyphs">w</text><text x="426.87" y="549.8" font-size="35.16" textLength="19.92" lengthAdjust="spacingAndGlyphs">e</text><text x="447.15" y="549.8" font-size="35.16" textLength="14.15" lengthAdjust="spacingAndGlyphs">r</text><text x="359.15" y="586.5" font-size="35.16" textLength="41.61" lengthAdjust="spacingAndGlyphs">10</text><text x="400.86" y="586.5" font-size="35.16" textLength="19.72" lengthAdjust="spacingAndGlyphs" font-style="italic">μ</text><text x="422.56" y="586.5" font-size="35.16" textLength="30.55" lengthAdjust="spacingAndGlyphs">W</text><text x="843.35" y="512.7" font-size="35.16" textLength="9.68" lengthAdjust="spacingAndGlyphs">I</text><text x="853.69" y="512.7" font-size="35.16" textLength="19.76" lengthAdjust="spacingAndGlyphs">n</text><text x="874.36" y="512.7" font-size="35.16" textLength="16.54" lengthAdjust="spacingAndGlyphs">c</text><text x="892.26" y="512.7" font-size="35.16" textLength="14.06" lengthAdjust="spacingAndGlyphs">r</text><text x="904.93" y="512.7" font-size="35.16" textLength="19.8" lengthAdjust="spacingAndGlyphs">e</text><text x="925.63" y="512.7" font-size="35.16" textLength="16.48" lengthAdjust="spacingAndGlyphs">a</text><text x="946.01" y="512.7" font-size="35.16" textLength="15.8" lengthAdjust="spacingAndGlyphs">s</text><text x="962.58" y="512.7" font-size="35.16" textLength="19.8" lengthAdjust="spacingAndGlyphs">e</text><text x="843.64" y="549.8" font-size="35.16" textLength="20.07" lengthAdjust="spacingAndGlyphs">p</text><text x="864.36" y="549.8" font-size="35.16" textLength="19.61" lengthAdjust="spacingAndGlyphs">o</text><text x="885.74" y="549.8" font-size="35.16" textLength="24.21" lengthAdjust="spacingAndGlyphs">w</text><text x="911.74" y="549.8" font-size="35.16" textLength="19.92" lengthAdjust="spacingAndGlyphs">e</text><text x="932.02" y="549.8" font-size="35.16" textLength="14.15" lengthAdjust="spacingAndGlyphs">r</text><text x="844.02" y="586.5" font-size="35.16" textLength="41.61" lengthAdjust="spacingAndGlyphs">10</text><text x="885.73" y="586.5" font-size="35.16" textLength="19.72" lengthAdjust="spacingAndGlyphs" font-style="italic">μ</text><text x="907.43" y="586.5" font-size="35.16" textLength="30.55" lengthAdjust="spacingAndGlyphs">W</text></g><path d="M344.6 580V494" stroke="#D55E00" stroke-width="1.667" fill="none"/><path d="M344.6 485.6L352.9 494.2L336.3 494.2Z" fill="#D55E00" stroke="#D55E00" stroke-width="1" stroke-linejoin="miter"/><path d="M829.47 580V494" stroke="#D55E00" stroke-width="1.667" fill="none"/><path d="M829.47 485.6L837.77 494.2L821.17 494.2Z" fill="#D55E00" stroke="#D55E00" stroke-width="1" stroke-linejoin="miter"/><path d="M275.5 42.5H289.35V616.3H275.5Z" fill="none" stroke="#000" stroke-width="1.667" stroke-dasharray="6.2000 2.6811"/><path d="M291.5 42Q721.8 -42.4 1161 45.3" fill="none" stroke="#000" stroke-width="2.5"/><path d="M1173 47.8L1159.8 41.1L1158.6 48.6Z" fill="#000" stroke="#000" stroke-width="1" stroke-linejoin="miter"/></svg></body></html>
